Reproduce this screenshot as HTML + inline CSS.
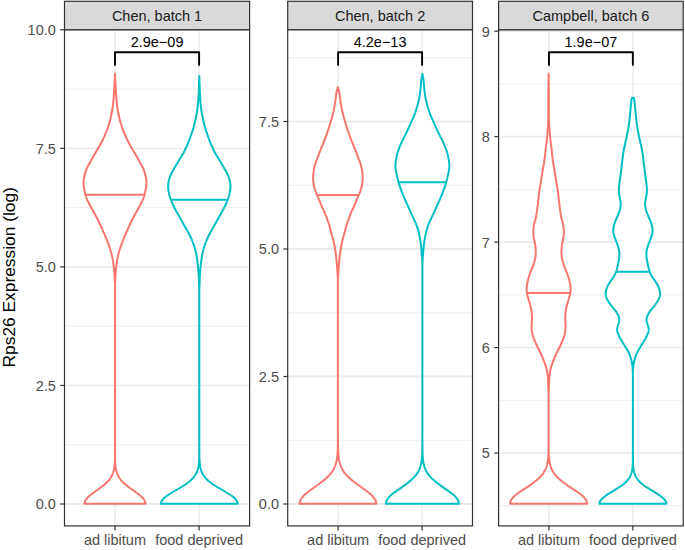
<!DOCTYPE html>
<html><head><meta charset="utf-8"><style>
html,body{margin:0;padding:0;background:#fff;}
body{width:685px;height:550px;overflow:hidden;}
svg{display:block;font-family:"Liberation Sans", sans-serif;}
</style></head><body>
<svg width="685" height="550" viewBox="0 0 685 550">
<rect x="0" y="0" width="685" height="550" fill="#fff"/>
<line x1="64.50" x2="249.60" y1="444.73" y2="444.73" stroke="#EBEBEB" stroke-width="0.8"/>
<line x1="64.50" x2="249.60" y1="326.17" y2="326.17" stroke="#EBEBEB" stroke-width="0.8"/>
<line x1="64.50" x2="249.60" y1="207.62" y2="207.62" stroke="#EBEBEB" stroke-width="0.8"/>
<line x1="64.50" x2="249.60" y1="89.07" y2="89.07" stroke="#EBEBEB" stroke-width="0.8"/>
<line x1="64.50" x2="249.60" y1="504.00" y2="504.00" stroke="#EBEBEB" stroke-width="1.8"/>
<line x1="64.50" x2="249.60" y1="385.45" y2="385.45" stroke="#EBEBEB" stroke-width="1.8"/>
<line x1="64.50" x2="249.60" y1="266.90" y2="266.90" stroke="#EBEBEB" stroke-width="1.8"/>
<line x1="64.50" x2="249.60" y1="148.35" y2="148.35" stroke="#EBEBEB" stroke-width="1.8"/>
<line x1="64.50" x2="249.60" y1="29.80" y2="29.80" stroke="#EBEBEB" stroke-width="1.8"/>
<line x1="114.98" x2="114.98" y1="29.7" y2="525.9" stroke="#EBEBEB" stroke-width="1.5"/>
<line x1="199.12" x2="199.12" y1="29.7" y2="525.9" stroke="#EBEBEB" stroke-width="1.5"/>
<path d="M115.03,73.80 L115.04,74.30 L115.06,74.80 L115.07,75.30 L115.09,75.80 L115.12,76.30 L115.14,76.80 L115.16,77.30 L115.18,77.80 L115.20,78.30 L115.23,78.80 L115.25,79.30 L115.27,79.80 L115.30,80.30 L115.32,80.80 L115.34,81.30 L115.37,81.80 L115.39,82.30 L115.42,82.80 L115.44,83.30 L115.47,83.80 L115.49,84.30 L115.52,84.80 L115.55,85.30 L115.57,85.80 L115.60,86.30 L115.63,86.80 L115.66,87.30 L115.69,87.80 L115.72,88.30 L115.75,88.80 L115.78,89.30 L115.81,89.80 L115.84,90.30 L115.88,90.80 L115.91,91.30 L115.94,91.80 L115.97,92.30 L116.01,92.80 L116.04,93.30 L116.08,93.80 L116.11,94.30 L116.14,94.80 L116.18,95.30 L116.21,95.80 L116.25,96.30 L116.29,96.80 L116.32,97.30 L116.36,97.80 L116.40,98.30 L116.44,98.80 L116.48,99.30 L116.52,99.80 L116.56,100.30 L116.60,100.80 L116.65,101.30 L116.69,101.80 L116.74,102.30 L116.80,102.80 L116.85,103.30 L116.91,103.80 L116.97,104.30 L117.02,104.80 L117.08,105.30 L117.15,105.80 L117.21,106.30 L117.27,106.80 L117.34,107.30 L117.41,107.80 L117.49,108.30 L117.57,108.80 L117.65,109.30 L117.73,109.80 L117.82,110.30 L117.90,110.80 L117.99,111.30 L118.08,111.80 L118.18,112.30 L118.27,112.80 L118.36,113.30 L118.46,113.80 L118.56,114.30 L118.66,114.80 L118.76,115.30 L118.87,115.80 L118.98,116.30 L119.09,116.80 L119.20,117.30 L119.32,117.80 L119.44,118.30 L119.56,118.80 L119.68,119.30 L119.80,119.80 L119.93,120.30 L120.06,120.80 L120.20,121.30 L120.33,121.80 L120.47,122.30 L120.61,122.80 L120.75,123.30 L120.90,123.80 L121.05,124.30 L121.20,124.80 L121.36,125.30 L121.52,125.80 L121.68,126.30 L121.85,126.80 L122.02,127.30 L122.20,127.80 L122.38,128.30 L122.56,128.80 L122.75,129.30 L122.95,129.80 L123.15,130.30 L123.35,130.80 L123.55,131.30 L123.76,131.80 L123.97,132.30 L124.18,132.80 L124.39,133.30 L124.60,133.80 L124.81,134.30 L125.02,134.80 L125.23,135.30 L125.45,135.80 L125.66,136.30 L125.87,136.80 L126.09,137.30 L126.31,137.80 L126.53,138.30 L126.76,138.80 L126.99,139.30 L127.23,139.80 L127.47,140.30 L127.72,140.80 L127.98,141.30 L128.23,141.80 L128.49,142.30 L128.75,142.80 L129.02,143.30 L129.28,143.80 L129.55,144.30 L129.82,144.80 L130.10,145.30 L130.37,145.80 L130.65,146.30 L130.93,146.80 L131.22,147.30 L131.50,147.80 L131.79,148.30 L132.08,148.80 L132.38,149.30 L132.68,149.80 L132.98,150.30 L133.28,150.80 L133.58,151.30 L133.88,151.80 L134.18,152.30 L134.48,152.80 L134.78,153.30 L135.08,153.80 L135.37,154.30 L135.66,154.80 L135.95,155.30 L136.24,155.80 L136.53,156.30 L136.81,156.80 L137.10,157.30 L137.38,157.80 L137.66,158.30 L137.94,158.80 L138.22,159.30 L138.49,159.80 L138.77,160.30 L139.05,160.80 L139.33,161.30 L139.61,161.80 L139.89,162.30 L140.17,162.80 L140.45,163.30 L140.73,163.80 L141.01,164.30 L141.29,164.80 L141.57,165.30 L141.84,165.80 L142.11,166.30 L142.37,166.80 L142.62,167.30 L142.86,167.80 L143.10,168.30 L143.32,168.80 L143.54,169.30 L143.74,169.80 L143.93,170.30 L144.12,170.80 L144.29,171.30 L144.46,171.80 L144.62,172.30 L144.77,172.80 L144.92,173.30 L145.06,173.80 L145.19,174.30 L145.32,174.80 L145.43,175.30 L145.55,175.80 L145.66,176.30 L145.76,176.80 L145.85,177.30 L145.95,177.80 L146.03,178.30 L146.11,178.80 L146.18,179.30 L146.25,179.80 L146.30,180.30 L146.35,180.80 L146.39,181.30 L146.42,181.80 L146.44,182.30 L146.45,182.80 L146.45,183.30 L146.44,183.80 L146.42,184.30 L146.39,184.80 L146.34,185.30 L146.29,185.80 L146.23,186.30 L146.16,186.80 L146.08,187.30 L146.00,187.80 L145.91,188.30 L145.82,188.80 L145.72,189.30 L145.62,189.80 L145.52,190.30 L145.42,190.80 L145.31,191.30 L145.21,191.80 L145.10,192.30 L144.99,192.80 L144.88,193.30 L144.76,193.80 L144.64,194.30 L144.52,194.80 L144.38,195.30 L144.24,195.80 L144.10,196.30 L143.94,196.80 L143.77,197.30 L143.60,197.80 L143.41,198.30 L143.21,198.80 L143.00,199.30 L142.79,199.80 L142.56,200.30 L142.32,200.80 L142.08,201.30 L141.83,201.80 L141.58,202.30 L141.32,202.80 L141.06,203.30 L140.80,203.80 L140.53,204.30 L140.27,204.80 L140.01,205.30 L139.74,205.80 L139.48,206.30 L139.21,206.80 L138.94,207.30 L138.67,207.80 L138.40,208.30 L138.13,208.80 L137.86,209.30 L137.59,209.80 L137.31,210.30 L137.04,210.80 L136.77,211.30 L136.49,211.80 L136.22,212.30 L135.94,212.80 L135.67,213.30 L135.39,213.80 L135.12,214.30 L134.84,214.80 L134.57,215.30 L134.30,215.80 L134.02,216.30 L133.75,216.80 L133.48,217.30 L133.21,217.80 L132.95,218.30 L132.69,218.80 L132.43,219.30 L132.18,219.80 L131.94,220.30 L131.70,220.80 L131.46,221.30 L131.23,221.80 L130.99,222.30 L130.76,222.80 L130.52,223.30 L130.29,223.80 L130.05,224.30 L129.81,224.80 L129.57,225.30 L129.34,225.80 L129.10,226.30 L128.86,226.80 L128.63,227.30 L128.39,227.80 L128.16,228.30 L127.93,228.80 L127.70,229.30 L127.47,229.80 L127.24,230.30 L127.01,230.80 L126.79,231.30 L126.57,231.80 L126.34,232.30 L126.12,232.80 L125.90,233.30 L125.68,233.80 L125.47,234.30 L125.25,234.80 L125.04,235.30 L124.83,235.80 L124.62,236.30 L124.41,236.80 L124.21,237.30 L124.00,237.80 L123.80,238.30 L123.60,238.80 L123.41,239.30 L123.21,239.80 L123.02,240.30 L122.83,240.80 L122.64,241.30 L122.45,241.80 L122.27,242.30 L122.08,242.80 L121.90,243.30 L121.71,243.80 L121.53,244.30 L121.35,244.80 L121.17,245.30 L120.99,245.80 L120.81,246.30 L120.63,246.80 L120.45,247.30 L120.28,247.80 L120.11,248.30 L119.94,248.80 L119.77,249.30 L119.61,249.80 L119.45,250.30 L119.30,250.80 L119.15,251.30 L119.01,251.80 L118.87,252.30 L118.73,252.80 L118.60,253.30 L118.47,253.80 L118.35,254.30 L118.23,254.80 L118.11,255.30 L117.99,255.80 L117.88,256.30 L117.78,256.80 L117.67,257.30 L117.57,257.80 L117.47,258.30 L117.38,258.80 L117.28,259.30 L117.19,259.80 L117.11,260.30 L117.02,260.80 L116.94,261.30 L116.86,261.80 L116.79,262.30 L116.72,262.80 L116.65,263.30 L116.58,263.80 L116.51,264.30 L116.44,264.80 L116.38,265.30 L116.32,265.80 L116.26,266.30 L116.20,266.80 L116.14,267.30 L116.09,267.80 L116.03,268.30 L115.98,268.80 L115.93,269.30 L115.88,269.80 L115.84,270.30 L115.79,270.80 L115.75,271.30 L115.71,271.80 L115.67,272.30 L115.64,272.80 L115.60,273.30 L115.57,273.80 L115.54,274.30 L115.52,274.80 L115.49,275.30 L115.47,275.80 L115.45,276.30 L115.43,276.80 L115.41,277.30 L115.39,277.80 L115.37,278.30 L115.36,278.80 L115.34,279.30 L115.31,279.80 L115.28,280.30 L115.25,280.80 L115.21,281.30 L115.17,281.80 L115.13,282.30 L115.09,282.80 L115.06,283.30 L115.03,283.80 L115.02,284.30 L115.01,284.80 L115.00,285.30 L115.00,285.80 L115.00,286.30 L115.00,286.80 L115.00,287.30 L115.00,287.80 L115.00,288.30 L115.00,288.80 L115.00,289.30 L115.00,289.80 L115.00,290.30 L115.00,290.80 L115.00,291.30 L115.00,291.80 L115.00,292.30 L115.00,292.80 L115.00,293.30 L115.00,293.80 L115.00,294.30 L115.00,294.80 L115.00,295.30 L115.00,295.80 L115.00,296.30 L115.00,296.80 L115.00,297.30 L115.00,297.80 L115.00,298.30 L115.00,298.80 L115.00,299.30 L115.00,299.80 L115.00,300.30 L115.00,300.80 L115.00,301.30 L115.00,301.80 L115.00,302.30 L115.00,302.80 L115.00,303.30 L115.00,303.80 L115.00,304.30 L115.00,304.80 L115.00,305.30 L115.00,305.80 L115.00,306.30 L115.00,306.80 L115.00,307.30 L115.00,307.80 L115.00,308.30 L115.00,308.80 L115.00,309.30 L115.00,309.80 L115.00,310.30 L115.00,310.80 L115.00,311.30 L115.00,311.80 L115.00,312.30 L115.00,312.80 L115.00,313.30 L115.00,313.80 L115.00,314.30 L115.00,314.80 L115.00,315.30 L115.00,315.80 L115.00,316.30 L115.00,316.80 L115.00,317.30 L115.00,317.80 L115.00,318.30 L115.00,318.80 L115.00,319.30 L115.00,319.80 L115.00,320.30 L115.00,320.80 L115.00,321.30 L115.00,321.80 L115.00,322.30 L115.00,322.80 L115.00,323.30 L115.00,323.80 L115.00,324.30 L115.00,324.80 L115.00,325.30 L115.00,325.80 L115.00,326.30 L115.00,326.80 L115.00,327.30 L115.00,327.80 L115.00,328.30 L115.00,328.80 L115.00,329.30 L115.00,329.80 L115.00,330.30 L115.00,330.80 L115.00,331.30 L115.00,331.80 L115.00,332.30 L115.00,332.80 L115.00,333.30 L115.00,333.80 L115.00,334.30 L115.00,334.80 L115.00,335.30 L115.00,335.80 L115.00,336.30 L115.00,336.80 L115.00,337.30 L115.00,337.80 L115.00,338.30 L115.00,338.80 L115.00,339.30 L115.00,339.80 L115.00,340.30 L115.00,340.80 L115.00,341.30 L115.00,341.80 L115.00,342.30 L115.00,342.80 L115.00,343.30 L115.00,343.80 L115.00,344.30 L115.00,344.80 L115.00,345.30 L115.00,345.80 L115.00,346.30 L115.00,346.80 L115.00,347.30 L115.00,347.80 L115.00,348.30 L115.00,348.80 L115.00,349.30 L115.00,349.80 L115.00,350.30 L115.00,350.80 L115.00,351.30 L115.00,351.80 L115.00,352.30 L115.00,352.80 L115.00,353.30 L115.00,353.80 L115.00,354.30 L115.00,354.80 L115.00,355.30 L115.00,355.80 L115.00,356.30 L115.00,356.80 L115.00,357.30 L115.00,357.80 L115.00,358.30 L115.00,358.80 L115.00,359.30 L115.00,359.80 L115.00,360.30 L115.00,360.80 L115.00,361.30 L115.00,361.80 L115.00,362.30 L115.00,362.80 L115.00,363.30 L115.00,363.80 L115.00,364.30 L115.00,364.80 L115.00,365.30 L115.00,365.80 L115.00,366.30 L115.00,366.80 L115.00,367.30 L115.00,367.80 L115.00,368.30 L115.00,368.80 L115.00,369.30 L115.00,369.80 L115.00,370.30 L115.00,370.80 L115.00,371.30 L115.00,371.80 L115.00,372.30 L115.00,372.80 L115.00,373.30 L115.00,373.80 L115.00,374.30 L115.00,374.80 L115.00,375.30 L115.00,375.80 L115.00,376.30 L115.00,376.80 L115.00,377.30 L115.00,377.80 L115.00,378.30 L115.00,378.80 L115.00,379.30 L115.00,379.80 L115.00,380.30 L115.00,380.80 L115.00,381.30 L115.00,381.80 L115.00,382.30 L115.00,382.80 L115.00,383.30 L115.00,383.80 L115.00,384.30 L115.00,384.80 L115.00,385.30 L115.00,385.80 L115.00,386.30 L115.00,386.80 L115.00,387.30 L115.00,387.80 L115.00,388.30 L115.00,388.80 L115.00,389.30 L115.00,389.80 L115.00,390.30 L115.00,390.80 L115.00,391.30 L115.00,391.80 L115.00,392.30 L115.00,392.80 L115.00,393.30 L115.00,393.80 L115.00,394.30 L115.00,394.80 L115.00,395.30 L115.00,395.80 L115.00,396.30 L115.00,396.80 L115.00,397.30 L115.00,397.80 L115.00,398.30 L115.00,398.80 L115.00,399.30 L115.00,399.80 L115.00,400.30 L115.00,400.80 L115.00,401.30 L115.00,401.80 L115.00,402.30 L115.00,402.80 L115.00,403.30 L115.00,403.80 L115.00,404.30 L115.00,404.80 L115.00,405.30 L115.00,405.80 L115.00,406.30 L115.00,406.80 L115.00,407.30 L115.00,407.80 L115.00,408.30 L115.00,408.80 L115.00,409.30 L115.00,409.80 L115.00,410.30 L115.00,410.80 L115.00,411.30 L115.00,411.80 L115.00,412.30 L115.00,412.80 L115.00,413.30 L115.00,413.80 L115.00,414.30 L115.00,414.80 L115.00,415.30 L115.00,415.80 L115.00,416.30 L115.00,416.80 L115.00,417.30 L115.00,417.80 L115.00,418.30 L115.00,418.80 L115.00,419.30 L115.00,419.80 L115.00,420.30 L115.00,420.80 L115.00,421.30 L115.00,421.80 L115.00,422.30 L115.00,422.80 L115.00,423.30 L115.00,423.80 L115.00,424.30 L115.00,424.80 L115.00,425.30 L115.00,425.80 L115.00,426.30 L115.00,426.80 L115.00,427.30 L115.00,427.80 L115.00,428.30 L115.00,428.80 L115.00,429.30 L115.00,429.80 L115.00,430.30 L115.00,430.80 L115.00,431.30 L115.00,431.80 L115.00,432.30 L115.00,432.80 L115.00,433.30 L115.00,433.80 L115.00,434.30 L115.00,434.80 L115.00,435.30 L115.00,435.80 L115.00,436.30 L115.00,436.80 L115.00,437.30 L115.00,437.80 L115.00,438.30 L115.00,438.80 L115.00,439.30 L115.00,439.80 L115.00,440.30 L115.00,440.80 L115.00,441.30 L115.00,441.80 L115.00,442.30 L115.00,442.80 L115.00,443.30 L115.00,443.80 L115.00,444.30 L115.00,444.80 L115.00,445.30 L115.00,445.80 L115.00,446.30 L115.00,446.80 L115.00,447.30 L115.00,447.80 L115.00,448.30 L115.00,448.80 L115.01,449.30 L115.01,449.80 L115.01,450.30 L115.01,450.80 L115.01,451.30 L115.01,451.80 L115.01,452.30 L115.02,452.80 L115.02,453.30 L115.02,453.80 L115.02,454.30 L115.03,454.80 L115.03,455.30 L115.04,455.80 L115.04,456.30 L115.05,456.80 L115.06,457.30 L115.07,457.80 L115.08,458.30 L115.09,458.80 L115.10,459.30 L115.11,459.80 L115.13,460.30 L115.14,460.80 L115.16,461.30 L115.18,461.80 L115.21,462.30 L115.23,462.80 L115.26,463.30 L115.30,463.80 L115.33,464.30 L115.37,464.80 L115.42,465.30 L115.46,465.80 L115.52,466.30 L115.58,466.80 L115.64,467.30 L115.71,467.80 L115.79,468.30 L115.88,468.80 L115.97,469.30 L116.07,469.80 L116.18,470.30 L116.30,470.80 L116.43,471.30 L116.57,471.80 L116.72,472.30 L116.89,472.80 L117.06,473.30 L117.25,473.80 L117.46,474.30 L117.68,474.80 L117.91,475.30 L118.16,475.80 L118.42,476.30 L118.70,476.80 L119.00,477.30 L119.32,477.80 L119.66,478.30 L120.01,478.80 L120.38,479.30 L120.77,479.80 L121.19,480.30 L121.62,480.80 L122.07,481.30 L122.54,481.80 L123.03,482.30 L123.54,482.80 L124.07,483.30 L124.62,483.80 L125.19,484.30 L125.77,484.80 L126.37,485.30 L126.99,485.80 L127.62,486.30 L128.27,486.80 L128.93,487.30 L129.60,487.80 L130.28,488.30 L130.97,488.80 L131.67,489.30 L132.37,489.80 L133.08,490.30 L133.78,490.80 L134.49,491.30 L135.19,491.80 L135.89,492.30 L136.58,492.80 L137.26,493.30 L137.92,493.80 L138.58,494.30 L139.21,494.80 L139.83,495.30 L140.43,495.80 L141.00,496.30 L141.55,496.80 L142.07,497.30 L142.56,497.80 L143.02,498.30 L143.44,498.80 L143.83,499.30 L144.18,499.80 L144.49,500.30 L144.76,500.80 L144.99,501.30 L145.18,501.80 L145.33,502.30 L145.43,502.80 L145.49,503.30 L145.50,503.70 L84.50,503.70 L84.51,503.30 L84.57,502.80 L84.67,502.30 L84.82,501.80 L85.01,501.30 L85.24,500.80 L85.51,500.30 L85.82,499.80 L86.17,499.30 L86.56,498.80 L86.98,498.30 L87.44,497.80 L87.93,497.30 L88.45,496.80 L89.00,496.30 L89.57,495.80 L90.17,495.30 L90.79,494.80 L91.42,494.30 L92.08,493.80 L92.74,493.30 L93.42,492.80 L94.11,492.30 L94.81,491.80 L95.51,491.30 L96.22,490.80 L96.92,490.30 L97.63,489.80 L98.33,489.30 L99.03,488.80 L99.72,488.30 L100.40,487.80 L101.07,487.30 L101.73,486.80 L102.38,486.30 L103.01,485.80 L103.63,485.30 L104.23,484.80 L104.81,484.30 L105.38,483.80 L105.93,483.30 L106.46,482.80 L106.97,482.30 L107.46,481.80 L107.93,481.30 L108.38,480.80 L108.81,480.30 L109.23,479.80 L109.62,479.30 L109.99,478.80 L110.34,478.30 L110.68,477.80 L111.00,477.30 L111.30,476.80 L111.58,476.30 L111.84,475.80 L112.09,475.30 L112.32,474.80 L112.54,474.30 L112.75,473.80 L112.94,473.30 L113.11,472.80 L113.28,472.30 L113.43,471.80 L113.57,471.30 L113.70,470.80 L113.82,470.30 L113.93,469.80 L114.03,469.30 L114.12,468.80 L114.21,468.30 L114.29,467.80 L114.36,467.30 L114.42,466.80 L114.48,466.30 L114.54,465.80 L114.58,465.30 L114.63,464.80 L114.67,464.30 L114.70,463.80 L114.74,463.30 L114.77,462.80 L114.79,462.30 L114.82,461.80 L114.84,461.30 L114.86,460.80 L114.87,460.30 L114.89,459.80 L114.90,459.30 L114.91,458.80 L114.92,458.30 L114.93,457.80 L114.94,457.30 L114.95,456.80 L114.96,456.30 L114.96,455.80 L114.97,455.30 L114.97,454.80 L114.98,454.30 L114.98,453.80 L114.98,453.30 L114.98,452.80 L114.99,452.30 L114.99,451.80 L114.99,451.30 L114.99,450.80 L114.99,450.30 L114.99,449.80 L114.99,449.30 L115.00,448.80 L115.00,448.30 L115.00,447.80 L115.00,447.30 L115.00,446.80 L115.00,446.30 L115.00,445.80 L115.00,445.30 L115.00,444.80 L115.00,444.30 L115.00,443.80 L115.00,443.30 L115.00,442.80 L115.00,442.30 L115.00,441.80 L115.00,441.30 L115.00,440.80 L115.00,440.30 L115.00,439.80 L115.00,439.30 L115.00,438.80 L115.00,438.30 L115.00,437.80 L115.00,437.30 L115.00,436.80 L115.00,436.30 L115.00,435.80 L115.00,435.30 L115.00,434.80 L115.00,434.30 L115.00,433.80 L115.00,433.30 L115.00,432.80 L115.00,432.30 L115.00,431.80 L115.00,431.30 L115.00,430.80 L115.00,430.30 L115.00,429.80 L115.00,429.30 L115.00,428.80 L115.00,428.30 L115.00,427.80 L115.00,427.30 L115.00,426.80 L115.00,426.30 L115.00,425.80 L115.00,425.30 L115.00,424.80 L115.00,424.30 L115.00,423.80 L115.00,423.30 L115.00,422.80 L115.00,422.30 L115.00,421.80 L115.00,421.30 L115.00,420.80 L115.00,420.30 L115.00,419.80 L115.00,419.30 L115.00,418.80 L115.00,418.30 L115.00,417.80 L115.00,417.30 L115.00,416.80 L115.00,416.30 L115.00,415.80 L115.00,415.30 L115.00,414.80 L115.00,414.30 L115.00,413.80 L115.00,413.30 L115.00,412.80 L115.00,412.30 L115.00,411.80 L115.00,411.30 L115.00,410.80 L115.00,410.30 L115.00,409.80 L115.00,409.30 L115.00,408.80 L115.00,408.30 L115.00,407.80 L115.00,407.30 L115.00,406.80 L115.00,406.30 L115.00,405.80 L115.00,405.30 L115.00,404.80 L115.00,404.30 L115.00,403.80 L115.00,403.30 L115.00,402.80 L115.00,402.30 L115.00,401.80 L115.00,401.30 L115.00,400.80 L115.00,400.30 L115.00,399.80 L115.00,399.30 L115.00,398.80 L115.00,398.30 L115.00,397.80 L115.00,397.30 L115.00,396.80 L115.00,396.30 L115.00,395.80 L115.00,395.30 L115.00,394.80 L115.00,394.30 L115.00,393.80 L115.00,393.30 L115.00,392.80 L115.00,392.30 L115.00,391.80 L115.00,391.30 L115.00,390.80 L115.00,390.30 L115.00,389.80 L115.00,389.30 L115.00,388.80 L115.00,388.30 L115.00,387.80 L115.00,387.30 L115.00,386.80 L115.00,386.30 L115.00,385.80 L115.00,385.30 L115.00,384.80 L115.00,384.30 L115.00,383.80 L115.00,383.30 L115.00,382.80 L115.00,382.30 L115.00,381.80 L115.00,381.30 L115.00,380.80 L115.00,380.30 L115.00,379.80 L115.00,379.30 L115.00,378.80 L115.00,378.30 L115.00,377.80 L115.00,377.30 L115.00,376.80 L115.00,376.30 L115.00,375.80 L115.00,375.30 L115.00,374.80 L115.00,374.30 L115.00,373.80 L115.00,373.30 L115.00,372.80 L115.00,372.30 L115.00,371.80 L115.00,371.30 L115.00,370.80 L115.00,370.30 L115.00,369.80 L115.00,369.30 L115.00,368.80 L115.00,368.30 L115.00,367.80 L115.00,367.30 L115.00,366.80 L115.00,366.30 L115.00,365.80 L115.00,365.30 L115.00,364.80 L115.00,364.30 L115.00,363.80 L115.00,363.30 L115.00,362.80 L115.00,362.30 L115.00,361.80 L115.00,361.30 L115.00,360.80 L115.00,360.30 L115.00,359.80 L115.00,359.30 L115.00,358.80 L115.00,358.30 L115.00,357.80 L115.00,357.30 L115.00,356.80 L115.00,356.30 L115.00,355.80 L115.00,355.30 L115.00,354.80 L115.00,354.30 L115.00,353.80 L115.00,353.30 L115.00,352.80 L115.00,352.30 L115.00,351.80 L115.00,351.30 L115.00,350.80 L115.00,350.30 L115.00,349.80 L115.00,349.30 L115.00,348.80 L115.00,348.30 L115.00,347.80 L115.00,347.30 L115.00,346.80 L115.00,346.30 L115.00,345.80 L115.00,345.30 L115.00,344.80 L115.00,344.30 L115.00,343.80 L115.00,343.30 L115.00,342.80 L115.00,342.30 L115.00,341.80 L115.00,341.30 L115.00,340.80 L115.00,340.30 L115.00,339.80 L115.00,339.30 L115.00,338.80 L115.00,338.30 L115.00,337.80 L115.00,337.30 L115.00,336.80 L115.00,336.30 L115.00,335.80 L115.00,335.30 L115.00,334.80 L115.00,334.30 L115.00,333.80 L115.00,333.30 L115.00,332.80 L115.00,332.30 L115.00,331.80 L115.00,331.30 L115.00,330.80 L115.00,330.30 L115.00,329.80 L115.00,329.30 L115.00,328.80 L115.00,328.30 L115.00,327.80 L115.00,327.30 L115.00,326.80 L115.00,326.30 L115.00,325.80 L115.00,325.30 L115.00,324.80 L115.00,324.30 L115.00,323.80 L115.00,323.30 L115.00,322.80 L115.00,322.30 L115.00,321.80 L115.00,321.30 L115.00,320.80 L115.00,320.30 L115.00,319.80 L115.00,319.30 L115.00,318.80 L115.00,318.30 L115.00,317.80 L115.00,317.30 L115.00,316.80 L115.00,316.30 L115.00,315.80 L115.00,315.30 L115.00,314.80 L115.00,314.30 L115.00,313.80 L115.00,313.30 L115.00,312.80 L115.00,312.30 L115.00,311.80 L115.00,311.30 L115.00,310.80 L115.00,310.30 L115.00,309.80 L115.00,309.30 L115.00,308.80 L115.00,308.30 L115.00,307.80 L115.00,307.30 L115.00,306.80 L115.00,306.30 L115.00,305.80 L115.00,305.30 L115.00,304.80 L115.00,304.30 L115.00,303.80 L115.00,303.30 L115.00,302.80 L115.00,302.30 L115.00,301.80 L115.00,301.30 L115.00,300.80 L115.00,300.30 L115.00,299.80 L115.00,299.30 L115.00,298.80 L115.00,298.30 L115.00,297.80 L115.00,297.30 L115.00,296.80 L115.00,296.30 L115.00,295.80 L115.00,295.30 L115.00,294.80 L115.00,294.30 L115.00,293.80 L115.00,293.30 L115.00,292.80 L115.00,292.30 L115.00,291.80 L115.00,291.30 L115.00,290.80 L115.00,290.30 L115.00,289.80 L115.00,289.30 L115.00,288.80 L115.00,288.30 L115.00,287.80 L115.00,287.30 L115.00,286.80 L115.00,286.30 L115.00,285.80 L115.00,285.30 L114.99,284.80 L114.98,284.30 L114.97,283.80 L114.94,283.30 L114.91,282.80 L114.87,282.30 L114.83,281.80 L114.79,281.30 L114.75,280.80 L114.72,280.30 L114.69,279.80 L114.66,279.30 L114.64,278.80 L114.63,278.30 L114.61,277.80 L114.59,277.30 L114.57,276.80 L114.55,276.30 L114.53,275.80 L114.51,275.30 L114.48,274.80 L114.46,274.30 L114.43,273.80 L114.40,273.30 L114.36,272.80 L114.33,272.30 L114.29,271.80 L114.25,271.30 L114.21,270.80 L114.16,270.30 L114.12,269.80 L114.07,269.30 L114.02,268.80 L113.97,268.30 L113.91,267.80 L113.86,267.30 L113.80,266.80 L113.74,266.30 L113.68,265.80 L113.62,265.30 L113.56,264.80 L113.49,264.30 L113.42,263.80 L113.35,263.30 L113.28,262.80 L113.21,262.30 L113.14,261.80 L113.06,261.30 L112.98,260.80 L112.89,260.30 L112.81,259.80 L112.72,259.30 L112.62,258.80 L112.53,258.30 L112.43,257.80 L112.33,257.30 L112.22,256.80 L112.12,256.30 L112.01,255.80 L111.89,255.30 L111.77,254.80 L111.65,254.30 L111.53,253.80 L111.40,253.30 L111.27,252.80 L111.13,252.30 L110.99,251.80 L110.85,251.30 L110.70,250.80 L110.55,250.30 L110.39,249.80 L110.23,249.30 L110.06,248.80 L109.89,248.30 L109.72,247.80 L109.55,247.30 L109.37,246.80 L109.19,246.30 L109.01,245.80 L108.83,245.30 L108.65,244.80 L108.47,244.30 L108.29,243.80 L108.10,243.30 L107.92,242.80 L107.73,242.30 L107.55,241.80 L107.36,241.30 L107.17,240.80 L106.98,240.30 L106.79,239.80 L106.59,239.30 L106.40,238.80 L106.20,238.30 L106.00,237.80 L105.79,237.30 L105.59,236.80 L105.38,236.30 L105.17,235.80 L104.96,235.30 L104.75,234.80 L104.53,234.30 L104.32,233.80 L104.10,233.30 L103.88,232.80 L103.66,232.30 L103.43,231.80 L103.21,231.30 L102.99,230.80 L102.76,230.30 L102.53,229.80 L102.30,229.30 L102.07,228.80 L101.84,228.30 L101.61,227.80 L101.37,227.30 L101.14,226.80 L100.90,226.30 L100.66,225.80 L100.43,225.30 L100.19,224.80 L99.95,224.30 L99.71,223.80 L99.48,223.30 L99.24,222.80 L99.01,222.30 L98.77,221.80 L98.54,221.30 L98.30,220.80 L98.06,220.30 L97.82,219.80 L97.57,219.30 L97.31,218.80 L97.05,218.30 L96.79,217.80 L96.52,217.30 L96.25,216.80 L95.98,216.30 L95.70,215.80 L95.43,215.30 L95.16,214.80 L94.88,214.30 L94.61,213.80 L94.33,213.30 L94.06,212.80 L93.78,212.30 L93.51,211.80 L93.23,211.30 L92.96,210.80 L92.69,210.30 L92.41,209.80 L92.14,209.30 L91.87,208.80 L91.60,208.30 L91.33,207.80 L91.06,207.30 L90.79,206.80 L90.52,206.30 L90.26,205.80 L89.99,205.30 L89.73,204.80 L89.47,204.30 L89.20,203.80 L88.94,203.30 L88.68,202.80 L88.42,202.30 L88.17,201.80 L87.92,201.30 L87.68,200.80 L87.44,200.30 L87.21,199.80 L87.00,199.30 L86.79,198.80 L86.59,198.30 L86.40,197.80 L86.23,197.30 L86.06,196.80 L85.90,196.30 L85.76,195.80 L85.62,195.30 L85.48,194.80 L85.36,194.30 L85.24,193.80 L85.12,193.30 L85.01,192.80 L84.90,192.30 L84.79,191.80 L84.69,191.30 L84.58,190.80 L84.48,190.30 L84.38,189.80 L84.28,189.30 L84.18,188.80 L84.09,188.30 L84.00,187.80 L83.92,187.30 L83.84,186.80 L83.77,186.30 L83.71,185.80 L83.66,185.30 L83.61,184.80 L83.58,184.30 L83.56,183.80 L83.55,183.30 L83.55,182.80 L83.56,182.30 L83.58,181.80 L83.61,181.30 L83.65,180.80 L83.70,180.30 L83.75,179.80 L83.82,179.30 L83.89,178.80 L83.97,178.30 L84.05,177.80 L84.15,177.30 L84.24,176.80 L84.34,176.30 L84.45,175.80 L84.57,175.30 L84.68,174.80 L84.81,174.30 L84.94,173.80 L85.08,173.30 L85.23,172.80 L85.38,172.30 L85.54,171.80 L85.71,171.30 L85.88,170.80 L86.07,170.30 L86.26,169.80 L86.46,169.30 L86.68,168.80 L86.90,168.30 L87.14,167.80 L87.38,167.30 L87.63,166.80 L87.89,166.30 L88.16,165.80 L88.43,165.30 L88.71,164.80 L88.99,164.30 L89.27,163.80 L89.55,163.30 L89.83,162.80 L90.11,162.30 L90.39,161.80 L90.67,161.30 L90.95,160.80 L91.23,160.30 L91.51,159.80 L91.78,159.30 L92.06,158.80 L92.34,158.30 L92.62,157.80 L92.90,157.30 L93.19,156.80 L93.47,156.30 L93.76,155.80 L94.05,155.30 L94.34,154.80 L94.63,154.30 L94.92,153.80 L95.22,153.30 L95.52,152.80 L95.82,152.30 L96.12,151.80 L96.42,151.30 L96.72,150.80 L97.02,150.30 L97.32,149.80 L97.62,149.30 L97.92,148.80 L98.21,148.30 L98.50,147.80 L98.78,147.30 L99.07,146.80 L99.35,146.30 L99.63,145.80 L99.90,145.30 L100.18,144.80 L100.45,144.30 L100.72,143.80 L100.98,143.30 L101.25,142.80 L101.51,142.30 L101.77,141.80 L102.02,141.30 L102.28,140.80 L102.53,140.30 L102.77,139.80 L103.01,139.30 L103.24,138.80 L103.47,138.30 L103.69,137.80 L103.91,137.30 L104.13,136.80 L104.34,136.30 L104.55,135.80 L104.77,135.30 L104.98,134.80 L105.19,134.30 L105.40,133.80 L105.61,133.30 L105.82,132.80 L106.03,132.30 L106.24,131.80 L106.45,131.30 L106.65,130.80 L106.85,130.30 L107.05,129.80 L107.25,129.30 L107.44,128.80 L107.62,128.30 L107.80,127.80 L107.98,127.30 L108.15,126.80 L108.32,126.30 L108.48,125.80 L108.64,125.30 L108.80,124.80 L108.95,124.30 L109.10,123.80 L109.25,123.30 L109.39,122.80 L109.53,122.30 L109.67,121.80 L109.80,121.30 L109.94,120.80 L110.07,120.30 L110.20,119.80 L110.32,119.30 L110.44,118.80 L110.56,118.30 L110.68,117.80 L110.80,117.30 L110.91,116.80 L111.02,116.30 L111.13,115.80 L111.24,115.30 L111.34,114.80 L111.44,114.30 L111.54,113.80 L111.64,113.30 L111.73,112.80 L111.82,112.30 L111.92,111.80 L112.01,111.30 L112.10,110.80 L112.18,110.30 L112.27,109.80 L112.35,109.30 L112.43,108.80 L112.51,108.30 L112.59,107.80 L112.66,107.30 L112.73,106.80 L112.79,106.30 L112.85,105.80 L112.92,105.30 L112.98,104.80 L113.03,104.30 L113.09,103.80 L113.15,103.30 L113.20,102.80 L113.26,102.30 L113.31,101.80 L113.35,101.30 L113.40,100.80 L113.44,100.30 L113.48,99.80 L113.52,99.30 L113.56,98.80 L113.60,98.30 L113.64,97.80 L113.68,97.30 L113.71,96.80 L113.75,96.30 L113.79,95.80 L113.82,95.30 L113.86,94.80 L113.89,94.30 L113.92,93.80 L113.96,93.30 L113.99,92.80 L114.03,92.30 L114.06,91.80 L114.09,91.30 L114.12,90.80 L114.16,90.30 L114.19,89.80 L114.22,89.30 L114.25,88.80 L114.28,88.30 L114.31,87.80 L114.34,87.30 L114.37,86.80 L114.40,86.30 L114.43,85.80 L114.45,85.30 L114.48,84.80 L114.51,84.30 L114.53,83.80 L114.56,83.30 L114.58,82.80 L114.61,82.30 L114.63,81.80 L114.66,81.30 L114.68,80.80 L114.70,80.30 L114.73,79.80 L114.75,79.30 L114.77,78.80 L114.80,78.30 L114.82,77.80 L114.84,77.30 L114.86,76.80 L114.88,76.30 L114.91,75.80 L114.93,75.30 L114.94,74.80 L114.96,74.30 L114.97,73.80 Z" fill="#fff" stroke="#F8766D" stroke-width="2.0" stroke-linejoin="round"/>
<line x1="85.48" x2="144.52" y1="194.80" y2="194.80" stroke="#F8766D" stroke-width="2.0"/>
<path d="M199.32,76.00 L199.33,76.50 L199.34,77.00 L199.36,77.50 L199.37,78.00 L199.39,78.50 L199.40,79.00 L199.42,79.50 L199.44,80.00 L199.46,80.50 L199.47,81.00 L199.49,81.50 L199.51,82.00 L199.53,82.50 L199.54,83.00 L199.56,83.50 L199.58,84.00 L199.60,84.50 L199.62,85.00 L199.64,85.50 L199.66,86.00 L199.67,86.50 L199.69,87.00 L199.71,87.50 L199.73,88.00 L199.75,88.50 L199.76,89.00 L199.78,89.50 L199.80,90.00 L199.82,90.50 L199.83,91.00 L199.85,91.50 L199.87,92.00 L199.89,92.50 L199.91,93.00 L199.93,93.50 L199.95,94.00 L199.97,94.50 L199.99,95.00 L200.02,95.50 L200.04,96.00 L200.06,96.50 L200.09,97.00 L200.12,97.50 L200.14,98.00 L200.17,98.50 L200.20,99.00 L200.24,99.50 L200.27,100.00 L200.31,100.50 L200.35,101.00 L200.39,101.50 L200.44,102.00 L200.48,102.50 L200.53,103.00 L200.58,103.50 L200.63,104.00 L200.69,104.50 L200.74,105.00 L200.80,105.50 L200.86,106.00 L200.92,106.50 L200.98,107.00 L201.04,107.50 L201.10,108.00 L201.16,108.50 L201.23,109.00 L201.29,109.50 L201.36,110.00 L201.43,110.50 L201.50,111.00 L201.57,111.50 L201.65,112.00 L201.73,112.50 L201.81,113.00 L201.90,113.50 L201.98,114.00 L202.07,114.50 L202.16,115.00 L202.26,115.50 L202.35,116.00 L202.45,116.50 L202.55,117.00 L202.66,117.50 L202.76,118.00 L202.87,118.50 L202.98,119.00 L203.09,119.50 L203.20,120.00 L203.31,120.50 L203.43,121.00 L203.55,121.50 L203.67,122.00 L203.79,122.50 L203.91,123.00 L204.04,123.50 L204.16,124.00 L204.29,124.50 L204.42,125.00 L204.55,125.50 L204.69,126.00 L204.83,126.50 L204.97,127.00 L205.11,127.50 L205.25,128.00 L205.40,128.50 L205.55,129.00 L205.71,129.50 L205.86,130.00 L206.02,130.50 L206.18,131.00 L206.35,131.50 L206.51,132.00 L206.68,132.50 L206.85,133.00 L207.02,133.50 L207.19,134.00 L207.36,134.50 L207.53,135.00 L207.70,135.50 L207.87,136.00 L208.04,136.50 L208.22,137.00 L208.39,137.50 L208.57,138.00 L208.74,138.50 L208.92,139.00 L209.10,139.50 L209.28,140.00 L209.47,140.50 L209.65,141.00 L209.85,141.50 L210.04,142.00 L210.24,142.50 L210.45,143.00 L210.66,143.50 L210.87,144.00 L211.09,144.50 L211.31,145.00 L211.54,145.50 L211.77,146.00 L212.00,146.50 L212.23,147.00 L212.46,147.50 L212.69,148.00 L212.92,148.50 L213.15,149.00 L213.38,149.50 L213.62,150.00 L213.85,150.50 L214.09,151.00 L214.34,151.50 L214.60,152.00 L214.87,152.50 L215.14,153.00 L215.43,153.50 L215.72,154.00 L216.02,154.50 L216.32,155.00 L216.63,155.50 L216.94,156.00 L217.25,156.50 L217.56,157.00 L217.87,157.50 L218.18,158.00 L218.48,158.50 L218.79,159.00 L219.09,159.50 L219.39,160.00 L219.69,160.50 L219.99,161.00 L220.29,161.50 L220.59,162.00 L220.88,162.50 L221.18,163.00 L221.47,163.50 L221.77,164.00 L222.06,164.50 L222.35,165.00 L222.65,165.50 L222.94,166.00 L223.23,166.50 L223.52,167.00 L223.82,167.50 L224.11,168.00 L224.40,168.50 L224.70,169.00 L224.99,169.50 L225.28,170.00 L225.57,170.50 L225.86,171.00 L226.13,171.50 L226.41,172.00 L226.67,172.50 L226.93,173.00 L227.17,173.50 L227.41,174.00 L227.64,174.50 L227.86,175.00 L228.08,175.50 L228.28,176.00 L228.48,176.50 L228.67,177.00 L228.85,177.50 L229.03,178.00 L229.19,178.50 L229.35,179.00 L229.49,179.50 L229.63,180.00 L229.75,180.50 L229.87,181.00 L229.97,181.50 L230.06,182.00 L230.14,182.50 L230.22,183.00 L230.28,183.50 L230.33,184.00 L230.37,184.50 L230.40,185.00 L230.42,185.50 L230.43,186.00 L230.44,186.50 L230.43,187.00 L230.42,187.50 L230.40,188.00 L230.37,188.50 L230.33,189.00 L230.28,189.50 L230.22,190.00 L230.16,190.50 L230.08,191.00 L230.00,191.50 L229.91,192.00 L229.81,192.50 L229.71,193.00 L229.59,193.50 L229.48,194.00 L229.35,194.50 L229.22,195.00 L229.09,195.50 L228.94,196.00 L228.80,196.50 L228.64,197.00 L228.48,197.50 L228.32,198.00 L228.14,198.50 L227.97,199.00 L227.78,199.50 L227.59,200.00 L227.40,200.50 L227.20,201.00 L227.00,201.50 L226.79,202.00 L226.58,202.50 L226.37,203.00 L226.15,203.50 L225.93,204.00 L225.70,204.50 L225.47,205.00 L225.23,205.50 L224.99,206.00 L224.75,206.50 L224.50,207.00 L224.25,207.50 L224.00,208.00 L223.74,208.50 L223.48,209.00 L223.22,209.50 L222.95,210.00 L222.69,210.50 L222.41,211.00 L222.14,211.50 L221.86,212.00 L221.58,212.50 L221.30,213.00 L221.01,213.50 L220.73,214.00 L220.44,214.50 L220.15,215.00 L219.86,215.50 L219.58,216.00 L219.29,216.50 L219.01,217.00 L218.72,217.50 L218.44,218.00 L218.17,218.50 L217.89,219.00 L217.61,219.50 L217.34,220.00 L217.07,220.50 L216.80,221.00 L216.52,221.50 L216.25,222.00 L215.98,222.50 L215.71,223.00 L215.43,223.50 L215.16,224.00 L214.88,224.50 L214.60,225.00 L214.32,225.50 L214.04,226.00 L213.75,226.50 L213.47,227.00 L213.18,227.50 L212.89,228.00 L212.60,228.50 L212.31,229.00 L212.02,229.50 L211.72,230.00 L211.43,230.50 L211.14,231.00 L210.86,231.50 L210.57,232.00 L210.29,232.50 L210.02,233.00 L209.75,233.50 L209.49,234.00 L209.23,234.50 L208.98,235.00 L208.73,235.50 L208.49,236.00 L208.26,236.50 L208.03,237.00 L207.80,237.50 L207.58,238.00 L207.36,238.50 L207.15,239.00 L206.94,239.50 L206.73,240.00 L206.53,240.50 L206.33,241.00 L206.13,241.50 L205.93,242.00 L205.74,242.50 L205.55,243.00 L205.36,243.50 L205.18,244.00 L205.00,244.50 L204.82,245.00 L204.65,245.50 L204.48,246.00 L204.31,246.50 L204.15,247.00 L204.00,247.50 L203.84,248.00 L203.69,248.50 L203.55,249.00 L203.41,249.50 L203.28,250.00 L203.15,250.50 L203.03,251.00 L202.91,251.50 L202.79,252.00 L202.68,252.50 L202.57,253.00 L202.46,253.50 L202.36,254.00 L202.26,254.50 L202.17,255.00 L202.07,255.50 L201.98,256.00 L201.89,256.50 L201.81,257.00 L201.73,257.50 L201.65,258.00 L201.57,258.50 L201.49,259.00 L201.42,259.50 L201.35,260.00 L201.29,260.50 L201.22,261.00 L201.16,261.50 L201.10,262.00 L201.03,262.50 L200.98,263.00 L200.92,263.50 L200.86,264.00 L200.80,264.50 L200.75,265.00 L200.70,265.50 L200.65,266.00 L200.60,266.50 L200.55,267.00 L200.50,267.50 L200.45,268.00 L200.41,268.50 L200.36,269.00 L200.32,269.50 L200.28,270.00 L200.24,270.50 L200.19,271.00 L200.15,271.50 L200.11,272.00 L200.07,272.50 L200.03,273.00 L200.00,273.50 L199.96,274.00 L199.92,274.50 L199.89,275.00 L199.86,275.50 L199.83,276.00 L199.80,276.50 L199.77,277.00 L199.74,277.50 L199.72,278.00 L199.70,278.50 L199.68,279.00 L199.66,279.50 L199.65,280.00 L199.64,280.50 L199.63,281.00 L199.62,281.50 L199.61,282.00 L199.60,282.50 L199.59,283.00 L199.58,283.50 L199.56,284.00 L199.54,284.50 L199.52,285.00 L199.49,285.50 L199.45,286.00 L199.41,286.50 L199.38,287.00 L199.35,287.50 L199.33,288.00 L199.32,288.50 L199.31,289.00 L199.30,289.50 L199.30,290.00 L199.30,290.50 L199.30,291.00 L199.30,291.50 L199.30,292.00 L199.30,292.50 L199.30,293.00 L199.30,293.50 L199.30,294.00 L199.30,294.50 L199.30,295.00 L199.30,295.50 L199.30,296.00 L199.30,296.50 L199.30,297.00 L199.30,297.50 L199.30,298.00 L199.30,298.50 L199.30,299.00 L199.30,299.50 L199.30,300.00 L199.30,300.50 L199.30,301.00 L199.30,301.50 L199.30,302.00 L199.30,302.50 L199.30,303.00 L199.30,303.50 L199.30,304.00 L199.30,304.50 L199.30,305.00 L199.30,305.50 L199.30,306.00 L199.30,306.50 L199.30,307.00 L199.30,307.50 L199.30,308.00 L199.30,308.50 L199.30,309.00 L199.30,309.50 L199.30,310.00 L199.30,310.50 L199.30,311.00 L199.30,311.50 L199.30,312.00 L199.30,312.50 L199.30,313.00 L199.30,313.50 L199.30,314.00 L199.30,314.50 L199.30,315.00 L199.30,315.50 L199.30,316.00 L199.30,316.50 L199.30,317.00 L199.30,317.50 L199.30,318.00 L199.30,318.50 L199.30,319.00 L199.30,319.50 L199.30,320.00 L199.30,320.50 L199.30,321.00 L199.30,321.50 L199.30,322.00 L199.30,322.50 L199.30,323.00 L199.30,323.50 L199.30,324.00 L199.30,324.50 L199.30,325.00 L199.30,325.50 L199.30,326.00 L199.30,326.50 L199.30,327.00 L199.30,327.50 L199.30,328.00 L199.30,328.50 L199.30,329.00 L199.30,329.50 L199.30,330.00 L199.30,330.50 L199.30,331.00 L199.30,331.50 L199.30,332.00 L199.30,332.50 L199.30,333.00 L199.30,333.50 L199.30,334.00 L199.30,334.50 L199.30,335.00 L199.30,335.50 L199.30,336.00 L199.30,336.50 L199.30,337.00 L199.30,337.50 L199.30,338.00 L199.30,338.50 L199.30,339.00 L199.30,339.50 L199.30,340.00 L199.30,340.50 L199.30,341.00 L199.30,341.50 L199.30,342.00 L199.30,342.50 L199.30,343.00 L199.30,343.50 L199.30,344.00 L199.30,344.50 L199.30,345.00 L199.30,345.50 L199.30,346.00 L199.30,346.50 L199.30,347.00 L199.30,347.50 L199.30,348.00 L199.30,348.50 L199.30,349.00 L199.30,349.50 L199.30,350.00 L199.30,350.50 L199.30,351.00 L199.30,351.50 L199.30,352.00 L199.30,352.50 L199.30,353.00 L199.30,353.50 L199.30,354.00 L199.30,354.50 L199.30,355.00 L199.30,355.50 L199.30,356.00 L199.30,356.50 L199.30,357.00 L199.30,357.50 L199.30,358.00 L199.30,358.50 L199.30,359.00 L199.30,359.50 L199.30,360.00 L199.30,360.50 L199.30,361.00 L199.30,361.50 L199.30,362.00 L199.30,362.50 L199.30,363.00 L199.30,363.50 L199.30,364.00 L199.30,364.50 L199.30,365.00 L199.30,365.50 L199.30,366.00 L199.30,366.50 L199.30,367.00 L199.30,367.50 L199.30,368.00 L199.30,368.50 L199.30,369.00 L199.30,369.50 L199.30,370.00 L199.30,370.50 L199.30,371.00 L199.30,371.50 L199.30,372.00 L199.30,372.50 L199.30,373.00 L199.30,373.50 L199.30,374.00 L199.30,374.50 L199.30,375.00 L199.30,375.50 L199.30,376.00 L199.30,376.50 L199.30,377.00 L199.30,377.50 L199.30,378.00 L199.30,378.50 L199.30,379.00 L199.30,379.50 L199.30,380.00 L199.30,380.50 L199.30,381.00 L199.30,381.50 L199.30,382.00 L199.30,382.50 L199.30,383.00 L199.30,383.50 L199.30,384.00 L199.30,384.50 L199.30,385.00 L199.30,385.50 L199.30,386.00 L199.30,386.50 L199.30,387.00 L199.30,387.50 L199.30,388.00 L199.30,388.50 L199.30,389.00 L199.30,389.50 L199.30,390.00 L199.30,390.50 L199.30,391.00 L199.30,391.50 L199.30,392.00 L199.30,392.50 L199.30,393.00 L199.30,393.50 L199.30,394.00 L199.30,394.50 L199.30,395.00 L199.30,395.50 L199.30,396.00 L199.30,396.50 L199.30,397.00 L199.30,397.50 L199.30,398.00 L199.30,398.50 L199.30,399.00 L199.30,399.50 L199.30,400.00 L199.30,400.50 L199.30,401.00 L199.30,401.50 L199.30,402.00 L199.30,402.50 L199.30,403.00 L199.30,403.50 L199.30,404.00 L199.30,404.50 L199.30,405.00 L199.30,405.50 L199.30,406.00 L199.30,406.50 L199.30,407.00 L199.30,407.50 L199.30,408.00 L199.30,408.50 L199.30,409.00 L199.30,409.50 L199.30,410.00 L199.30,410.50 L199.30,411.00 L199.30,411.50 L199.30,412.00 L199.30,412.50 L199.30,413.00 L199.30,413.50 L199.30,414.00 L199.30,414.50 L199.30,415.00 L199.30,415.50 L199.30,416.00 L199.30,416.50 L199.30,417.00 L199.30,417.50 L199.30,418.00 L199.30,418.50 L199.30,419.00 L199.30,419.50 L199.30,420.00 L199.30,420.50 L199.30,421.00 L199.30,421.50 L199.30,422.00 L199.30,422.50 L199.30,423.00 L199.30,423.50 L199.30,424.00 L199.30,424.50 L199.30,425.00 L199.30,425.50 L199.30,426.00 L199.30,426.50 L199.30,427.00 L199.30,427.50 L199.30,428.00 L199.30,428.50 L199.30,429.00 L199.30,429.50 L199.30,430.00 L199.30,430.50 L199.30,431.00 L199.30,431.50 L199.30,432.00 L199.30,432.50 L199.30,433.00 L199.30,433.50 L199.30,434.00 L199.30,434.50 L199.30,435.00 L199.30,435.50 L199.30,436.00 L199.30,436.50 L199.30,437.00 L199.30,437.50 L199.30,438.00 L199.30,438.50 L199.30,439.00 L199.30,439.50 L199.30,440.00 L199.30,440.50 L199.30,441.00 L199.30,441.50 L199.30,442.00 L199.30,442.50 L199.30,443.00 L199.30,443.50 L199.30,444.00 L199.30,444.50 L199.30,445.00 L199.30,445.50 L199.30,446.00 L199.30,446.50 L199.31,447.00 L199.31,447.50 L199.31,448.00 L199.31,448.50 L199.31,449.00 L199.31,449.50 L199.31,450.00 L199.32,450.50 L199.32,451.00 L199.32,451.50 L199.33,452.00 L199.33,452.50 L199.33,453.00 L199.34,453.50 L199.34,454.00 L199.35,454.50 L199.36,455.00 L199.37,455.50 L199.37,456.00 L199.39,456.50 L199.40,457.00 L199.41,457.50 L199.42,458.00 L199.44,458.50 L199.46,459.00 L199.48,459.50 L199.50,460.00 L199.53,460.50 L199.56,461.00 L199.59,461.50 L199.63,462.00 L199.66,462.50 L199.71,463.00 L199.76,463.50 L199.81,464.00 L199.87,464.50 L199.93,465.00 L200.00,465.50 L200.08,466.00 L200.16,466.50 L200.25,467.00 L200.35,467.50 L200.46,468.00 L200.58,468.50 L200.71,469.00 L200.85,469.50 L201.00,470.00 L201.17,470.50 L201.34,471.00 L201.53,471.50 L201.74,472.00 L201.96,472.50 L202.19,473.00 L202.45,473.50 L202.71,474.00 L203.00,474.50 L203.31,475.00 L203.63,475.50 L203.98,476.00 L204.34,476.50 L204.73,477.00 L205.14,477.50 L205.57,478.00 L206.03,478.50 L206.50,479.00 L207.00,479.50 L207.52,480.00 L208.07,480.50 L208.64,481.00 L209.23,481.50 L209.85,482.00 L210.49,482.50 L211.15,483.00 L211.84,483.50 L212.54,484.00 L213.27,484.50 L214.01,485.00 L214.78,485.50 L215.56,486.00 L216.35,486.50 L217.17,487.00 L217.99,487.50 L218.83,488.00 L219.67,488.50 L220.53,489.00 L221.38,489.50 L222.25,490.00 L223.11,490.50 L223.97,491.00 L224.83,491.50 L225.68,492.00 L226.52,492.50 L227.35,493.00 L228.16,493.50 L228.96,494.00 L229.74,494.50 L230.50,495.00 L231.23,495.50 L231.94,496.00 L232.61,496.50 L233.25,497.00 L233.86,497.50 L234.43,498.00 L234.95,498.50 L235.44,499.00 L235.89,499.50 L236.28,500.00 L236.64,500.50 L236.94,501.00 L237.19,501.50 L237.40,502.00 L237.55,502.50 L237.65,503.00 L237.70,503.50 L237.70,503.70 L160.90,503.70 L160.90,503.50 L160.95,503.00 L161.05,502.50 L161.20,502.00 L161.41,501.50 L161.66,501.00 L161.96,500.50 L162.32,500.00 L162.71,499.50 L163.16,499.00 L163.65,498.50 L164.17,498.00 L164.74,497.50 L165.35,497.00 L165.99,496.50 L166.66,496.00 L167.37,495.50 L168.10,495.00 L168.86,494.50 L169.64,494.00 L170.44,493.50 L171.25,493.00 L172.08,492.50 L172.92,492.00 L173.77,491.50 L174.63,491.00 L175.49,490.50 L176.35,490.00 L177.22,489.50 L178.07,489.00 L178.93,488.50 L179.77,488.00 L180.61,487.50 L181.43,487.00 L182.25,486.50 L183.04,486.00 L183.82,485.50 L184.59,485.00 L185.33,484.50 L186.06,484.00 L186.76,483.50 L187.45,483.00 L188.11,482.50 L188.75,482.00 L189.37,481.50 L189.96,481.00 L190.53,480.50 L191.08,480.00 L191.60,479.50 L192.10,479.00 L192.57,478.50 L193.03,478.00 L193.46,477.50 L193.87,477.00 L194.26,476.50 L194.62,476.00 L194.97,475.50 L195.29,475.00 L195.60,474.50 L195.89,474.00 L196.15,473.50 L196.41,473.00 L196.64,472.50 L196.86,472.00 L197.07,471.50 L197.26,471.00 L197.43,470.50 L197.60,470.00 L197.75,469.50 L197.89,469.00 L198.02,468.50 L198.14,468.00 L198.25,467.50 L198.35,467.00 L198.44,466.50 L198.52,466.00 L198.60,465.50 L198.67,465.00 L198.73,464.50 L198.79,464.00 L198.84,463.50 L198.89,463.00 L198.94,462.50 L198.97,462.00 L199.01,461.50 L199.04,461.00 L199.07,460.50 L199.10,460.00 L199.12,459.50 L199.14,459.00 L199.16,458.50 L199.18,458.00 L199.19,457.50 L199.20,457.00 L199.21,456.50 L199.23,456.00 L199.23,455.50 L199.24,455.00 L199.25,454.50 L199.26,454.00 L199.26,453.50 L199.27,453.00 L199.27,452.50 L199.27,452.00 L199.28,451.50 L199.28,451.00 L199.28,450.50 L199.29,450.00 L199.29,449.50 L199.29,449.00 L199.29,448.50 L199.29,448.00 L199.29,447.50 L199.29,447.00 L199.30,446.50 L199.30,446.00 L199.30,445.50 L199.30,445.00 L199.30,444.50 L199.30,444.00 L199.30,443.50 L199.30,443.00 L199.30,442.50 L199.30,442.00 L199.30,441.50 L199.30,441.00 L199.30,440.50 L199.30,440.00 L199.30,439.50 L199.30,439.00 L199.30,438.50 L199.30,438.00 L199.30,437.50 L199.30,437.00 L199.30,436.50 L199.30,436.00 L199.30,435.50 L199.30,435.00 L199.30,434.50 L199.30,434.00 L199.30,433.50 L199.30,433.00 L199.30,432.50 L199.30,432.00 L199.30,431.50 L199.30,431.00 L199.30,430.50 L199.30,430.00 L199.30,429.50 L199.30,429.00 L199.30,428.50 L199.30,428.00 L199.30,427.50 L199.30,427.00 L199.30,426.50 L199.30,426.00 L199.30,425.50 L199.30,425.00 L199.30,424.50 L199.30,424.00 L199.30,423.50 L199.30,423.00 L199.30,422.50 L199.30,422.00 L199.30,421.50 L199.30,421.00 L199.30,420.50 L199.30,420.00 L199.30,419.50 L199.30,419.00 L199.30,418.50 L199.30,418.00 L199.30,417.50 L199.30,417.00 L199.30,416.50 L199.30,416.00 L199.30,415.50 L199.30,415.00 L199.30,414.50 L199.30,414.00 L199.30,413.50 L199.30,413.00 L199.30,412.50 L199.30,412.00 L199.30,411.50 L199.30,411.00 L199.30,410.50 L199.30,410.00 L199.30,409.50 L199.30,409.00 L199.30,408.50 L199.30,408.00 L199.30,407.50 L199.30,407.00 L199.30,406.50 L199.30,406.00 L199.30,405.50 L199.30,405.00 L199.30,404.50 L199.30,404.00 L199.30,403.50 L199.30,403.00 L199.30,402.50 L199.30,402.00 L199.30,401.50 L199.30,401.00 L199.30,400.50 L199.30,400.00 L199.30,399.50 L199.30,399.00 L199.30,398.50 L199.30,398.00 L199.30,397.50 L199.30,397.00 L199.30,396.50 L199.30,396.00 L199.30,395.50 L199.30,395.00 L199.30,394.50 L199.30,394.00 L199.30,393.50 L199.30,393.00 L199.30,392.50 L199.30,392.00 L199.30,391.50 L199.30,391.00 L199.30,390.50 L199.30,390.00 L199.30,389.50 L199.30,389.00 L199.30,388.50 L199.30,388.00 L199.30,387.50 L199.30,387.00 L199.30,386.50 L199.30,386.00 L199.30,385.50 L199.30,385.00 L199.30,384.50 L199.30,384.00 L199.30,383.50 L199.30,383.00 L199.30,382.50 L199.30,382.00 L199.30,381.50 L199.30,381.00 L199.30,380.50 L199.30,380.00 L199.30,379.50 L199.30,379.00 L199.30,378.50 L199.30,378.00 L199.30,377.50 L199.30,377.00 L199.30,376.50 L199.30,376.00 L199.30,375.50 L199.30,375.00 L199.30,374.50 L199.30,374.00 L199.30,373.50 L199.30,373.00 L199.30,372.50 L199.30,372.00 L199.30,371.50 L199.30,371.00 L199.30,370.50 L199.30,370.00 L199.30,369.50 L199.30,369.00 L199.30,368.50 L199.30,368.00 L199.30,367.50 L199.30,367.00 L199.30,366.50 L199.30,366.00 L199.30,365.50 L199.30,365.00 L199.30,364.50 L199.30,364.00 L199.30,363.50 L199.30,363.00 L199.30,362.50 L199.30,362.00 L199.30,361.50 L199.30,361.00 L199.30,360.50 L199.30,360.00 L199.30,359.50 L199.30,359.00 L199.30,358.50 L199.30,358.00 L199.30,357.50 L199.30,357.00 L199.30,356.50 L199.30,356.00 L199.30,355.50 L199.30,355.00 L199.30,354.50 L199.30,354.00 L199.30,353.50 L199.30,353.00 L199.30,352.50 L199.30,352.00 L199.30,351.50 L199.30,351.00 L199.30,350.50 L199.30,350.00 L199.30,349.50 L199.30,349.00 L199.30,348.50 L199.30,348.00 L199.30,347.50 L199.30,347.00 L199.30,346.50 L199.30,346.00 L199.30,345.50 L199.30,345.00 L199.30,344.50 L199.30,344.00 L199.30,343.50 L199.30,343.00 L199.30,342.50 L199.30,342.00 L199.30,341.50 L199.30,341.00 L199.30,340.50 L199.30,340.00 L199.30,339.50 L199.30,339.00 L199.30,338.50 L199.30,338.00 L199.30,337.50 L199.30,337.00 L199.30,336.50 L199.30,336.00 L199.30,335.50 L199.30,335.00 L199.30,334.50 L199.30,334.00 L199.30,333.50 L199.30,333.00 L199.30,332.50 L199.30,332.00 L199.30,331.50 L199.30,331.00 L199.30,330.50 L199.30,330.00 L199.30,329.50 L199.30,329.00 L199.30,328.50 L199.30,328.00 L199.30,327.50 L199.30,327.00 L199.30,326.50 L199.30,326.00 L199.30,325.50 L199.30,325.00 L199.30,324.50 L199.30,324.00 L199.30,323.50 L199.30,323.00 L199.30,322.50 L199.30,322.00 L199.30,321.50 L199.30,321.00 L199.30,320.50 L199.30,320.00 L199.30,319.50 L199.30,319.00 L199.30,318.50 L199.30,318.00 L199.30,317.50 L199.30,317.00 L199.30,316.50 L199.30,316.00 L199.30,315.50 L199.30,315.00 L199.30,314.50 L199.30,314.00 L199.30,313.50 L199.30,313.00 L199.30,312.50 L199.30,312.00 L199.30,311.50 L199.30,311.00 L199.30,310.50 L199.30,310.00 L199.30,309.50 L199.30,309.00 L199.30,308.50 L199.30,308.00 L199.30,307.50 L199.30,307.00 L199.30,306.50 L199.30,306.00 L199.30,305.50 L199.30,305.00 L199.30,304.50 L199.30,304.00 L199.30,303.50 L199.30,303.00 L199.30,302.50 L199.30,302.00 L199.30,301.50 L199.30,301.00 L199.30,300.50 L199.30,300.00 L199.30,299.50 L199.30,299.00 L199.30,298.50 L199.30,298.00 L199.30,297.50 L199.30,297.00 L199.30,296.50 L199.30,296.00 L199.30,295.50 L199.30,295.00 L199.30,294.50 L199.30,294.00 L199.30,293.50 L199.30,293.00 L199.30,292.50 L199.30,292.00 L199.30,291.50 L199.30,291.00 L199.30,290.50 L199.30,290.00 L199.30,289.50 L199.29,289.00 L199.28,288.50 L199.27,288.00 L199.25,287.50 L199.22,287.00 L199.19,286.50 L199.15,286.00 L199.11,285.50 L199.08,285.00 L199.06,284.50 L199.04,284.00 L199.02,283.50 L199.01,283.00 L199.00,282.50 L198.99,282.00 L198.98,281.50 L198.97,281.00 L198.96,280.50 L198.95,280.00 L198.94,279.50 L198.92,279.00 L198.90,278.50 L198.88,278.00 L198.86,277.50 L198.83,277.00 L198.80,276.50 L198.77,276.00 L198.74,275.50 L198.71,275.00 L198.68,274.50 L198.64,274.00 L198.60,273.50 L198.57,273.00 L198.53,272.50 L198.49,272.00 L198.45,271.50 L198.41,271.00 L198.36,270.50 L198.32,270.00 L198.28,269.50 L198.24,269.00 L198.19,268.50 L198.15,268.00 L198.10,267.50 L198.05,267.00 L198.00,266.50 L197.95,266.00 L197.90,265.50 L197.85,265.00 L197.80,264.50 L197.74,264.00 L197.68,263.50 L197.62,263.00 L197.57,262.50 L197.50,262.00 L197.44,261.50 L197.38,261.00 L197.31,260.50 L197.25,260.00 L197.18,259.50 L197.11,259.00 L197.03,258.50 L196.95,258.00 L196.87,257.50 L196.79,257.00 L196.71,256.50 L196.62,256.00 L196.53,255.50 L196.43,255.00 L196.34,254.50 L196.24,254.00 L196.14,253.50 L196.03,253.00 L195.92,252.50 L195.81,252.00 L195.69,251.50 L195.57,251.00 L195.45,250.50 L195.32,250.00 L195.19,249.50 L195.05,249.00 L194.91,248.50 L194.76,248.00 L194.60,247.50 L194.45,247.00 L194.29,246.50 L194.12,246.00 L193.95,245.50 L193.78,245.00 L193.60,244.50 L193.42,244.00 L193.24,243.50 L193.05,243.00 L192.86,242.50 L192.67,242.00 L192.47,241.50 L192.27,241.00 L192.07,240.50 L191.87,240.00 L191.66,239.50 L191.45,239.00 L191.24,238.50 L191.02,238.00 L190.80,237.50 L190.57,237.00 L190.34,236.50 L190.11,236.00 L189.87,235.50 L189.62,235.00 L189.37,234.50 L189.11,234.00 L188.85,233.50 L188.58,233.00 L188.31,232.50 L188.03,232.00 L187.74,231.50 L187.46,231.00 L187.17,230.50 L186.88,230.00 L186.58,229.50 L186.29,229.00 L186.00,228.50 L185.71,228.00 L185.42,227.50 L185.13,227.00 L184.85,226.50 L184.56,226.00 L184.28,225.50 L184.00,225.00 L183.72,224.50 L183.44,224.00 L183.17,223.50 L182.89,223.00 L182.62,222.50 L182.35,222.00 L182.08,221.50 L181.80,221.00 L181.53,220.50 L181.26,220.00 L180.99,219.50 L180.71,219.00 L180.43,218.50 L180.16,218.00 L179.88,217.50 L179.59,217.00 L179.31,216.50 L179.02,216.00 L178.74,215.50 L178.45,215.00 L178.16,214.50 L177.87,214.00 L177.59,213.50 L177.30,213.00 L177.02,212.50 L176.74,212.00 L176.46,211.50 L176.19,211.00 L175.91,210.50 L175.65,210.00 L175.38,209.50 L175.12,209.00 L174.86,208.50 L174.60,208.00 L174.35,207.50 L174.10,207.00 L173.85,206.50 L173.61,206.00 L173.37,205.50 L173.13,205.00 L172.90,204.50 L172.67,204.00 L172.45,203.50 L172.23,203.00 L172.02,202.50 L171.81,202.00 L171.60,201.50 L171.40,201.00 L171.20,200.50 L171.01,200.00 L170.82,199.50 L170.63,199.00 L170.46,198.50 L170.28,198.00 L170.12,197.50 L169.96,197.00 L169.80,196.50 L169.66,196.00 L169.51,195.50 L169.38,195.00 L169.25,194.50 L169.12,194.00 L169.01,193.50 L168.89,193.00 L168.79,192.50 L168.69,192.00 L168.60,191.50 L168.52,191.00 L168.44,190.50 L168.38,190.00 L168.32,189.50 L168.27,189.00 L168.23,188.50 L168.20,188.00 L168.18,187.50 L168.17,187.00 L168.16,186.50 L168.17,186.00 L168.18,185.50 L168.20,185.00 L168.23,184.50 L168.27,184.00 L168.32,183.50 L168.38,183.00 L168.46,182.50 L168.54,182.00 L168.63,181.50 L168.73,181.00 L168.85,180.50 L168.97,180.00 L169.11,179.50 L169.25,179.00 L169.41,178.50 L169.57,178.00 L169.75,177.50 L169.93,177.00 L170.12,176.50 L170.32,176.00 L170.52,175.50 L170.74,175.00 L170.96,174.50 L171.19,174.00 L171.43,173.50 L171.67,173.00 L171.93,172.50 L172.19,172.00 L172.47,171.50 L172.74,171.00 L173.03,170.50 L173.32,170.00 L173.61,169.50 L173.90,169.00 L174.20,168.50 L174.49,168.00 L174.78,167.50 L175.08,167.00 L175.37,166.50 L175.66,166.00 L175.95,165.50 L176.25,165.00 L176.54,164.50 L176.83,164.00 L177.13,163.50 L177.42,163.00 L177.72,162.50 L178.01,162.00 L178.31,161.50 L178.61,161.00 L178.91,160.50 L179.21,160.00 L179.51,159.50 L179.81,159.00 L180.12,158.50 L180.42,158.00 L180.73,157.50 L181.04,157.00 L181.35,156.50 L181.66,156.00 L181.97,155.50 L182.28,155.00 L182.58,154.50 L182.88,154.00 L183.17,153.50 L183.46,153.00 L183.73,152.50 L184.00,152.00 L184.26,151.50 L184.51,151.00 L184.75,150.50 L184.98,150.00 L185.22,149.50 L185.45,149.00 L185.68,148.50 L185.91,148.00 L186.14,147.50 L186.37,147.00 L186.60,146.50 L186.83,146.00 L187.06,145.50 L187.29,145.00 L187.51,144.50 L187.73,144.00 L187.94,143.50 L188.15,143.00 L188.36,142.50 L188.56,142.00 L188.75,141.50 L188.95,141.00 L189.13,140.50 L189.32,140.00 L189.50,139.50 L189.68,139.00 L189.86,138.50 L190.03,138.00 L190.21,137.50 L190.38,137.00 L190.56,136.50 L190.73,136.00 L190.90,135.50 L191.07,135.00 L191.24,134.50 L191.41,134.00 L191.58,133.50 L191.75,133.00 L191.92,132.50 L192.09,132.00 L192.25,131.50 L192.42,131.00 L192.58,130.50 L192.74,130.00 L192.89,129.50 L193.05,129.00 L193.20,128.50 L193.35,128.00 L193.49,127.50 L193.63,127.00 L193.77,126.50 L193.91,126.00 L194.05,125.50 L194.18,125.00 L194.31,124.50 L194.44,124.00 L194.56,123.50 L194.69,123.00 L194.81,122.50 L194.93,122.00 L195.05,121.50 L195.17,121.00 L195.29,120.50 L195.40,120.00 L195.51,119.50 L195.62,119.00 L195.73,118.50 L195.84,118.00 L195.94,117.50 L196.05,117.00 L196.15,116.50 L196.25,116.00 L196.34,115.50 L196.44,115.00 L196.53,114.50 L196.62,114.00 L196.70,113.50 L196.79,113.00 L196.87,112.50 L196.95,112.00 L197.03,111.50 L197.10,111.00 L197.17,110.50 L197.24,110.00 L197.31,109.50 L197.37,109.00 L197.44,108.50 L197.50,108.00 L197.56,107.50 L197.62,107.00 L197.68,106.50 L197.74,106.00 L197.80,105.50 L197.86,105.00 L197.91,104.50 L197.97,104.00 L198.02,103.50 L198.07,103.00 L198.12,102.50 L198.16,102.00 L198.21,101.50 L198.25,101.00 L198.29,100.50 L198.33,100.00 L198.36,99.50 L198.40,99.00 L198.43,98.50 L198.46,98.00 L198.48,97.50 L198.51,97.00 L198.54,96.50 L198.56,96.00 L198.58,95.50 L198.61,95.00 L198.63,94.50 L198.65,94.00 L198.67,93.50 L198.69,93.00 L198.71,92.50 L198.73,92.00 L198.75,91.50 L198.77,91.00 L198.78,90.50 L198.80,90.00 L198.82,89.50 L198.84,89.00 L198.85,88.50 L198.87,88.00 L198.89,87.50 L198.91,87.00 L198.93,86.50 L198.94,86.00 L198.96,85.50 L198.98,85.00 L199.00,84.50 L199.02,84.00 L199.04,83.50 L199.06,83.00 L199.07,82.50 L199.09,82.00 L199.11,81.50 L199.13,81.00 L199.14,80.50 L199.16,80.00 L199.18,79.50 L199.20,79.00 L199.21,78.50 L199.23,78.00 L199.24,77.50 L199.26,77.00 L199.27,76.50 L199.28,76.00 Z" fill="#fff" stroke="#00BFC4" stroke-width="2.0" stroke-linejoin="round"/>
<line x1="170.93" x2="227.67" y1="199.80" y2="199.80" stroke="#00BFC4" stroke-width="2.0"/>
<path d="M114.98,64.9 L114.98,52.2 L199.12,52.2 L199.12,64.9" fill="none" stroke="#000" stroke-width="1.9" stroke-linecap="round" stroke-linejoin="round"/>
<text x="157.05" y="47.3" font-size="14.5" text-anchor="middle" fill="#000">2.9e−09</text>
<rect x="64.50" y="29.7" width="185.10" height="496.20" fill="none" stroke="#333333" stroke-width="1.2"/>
<rect x="64.50" y="1.3" width="185.10" height="28.40" fill="#D9D9D9" stroke="#333333" stroke-width="1.2"/>
<text x="157.05" y="20.9" font-size="14.5" text-anchor="middle" fill="#1A1A1A">Chen, batch 1</text>
<line x1="60.20" x2="64.50" y1="504.00" y2="504.00" stroke="#333333" stroke-width="1.2"/>
<text x="55.80" y="509.40" font-size="14.5" text-anchor="end" fill="#4D4D4D">0.0</text>
<line x1="60.20" x2="64.50" y1="385.45" y2="385.45" stroke="#333333" stroke-width="1.2"/>
<text x="55.80" y="390.85" font-size="14.5" text-anchor="end" fill="#4D4D4D">2.5</text>
<line x1="60.20" x2="64.50" y1="266.90" y2="266.90" stroke="#333333" stroke-width="1.2"/>
<text x="55.80" y="272.30" font-size="14.5" text-anchor="end" fill="#4D4D4D">5.0</text>
<line x1="60.20" x2="64.50" y1="148.35" y2="148.35" stroke="#333333" stroke-width="1.2"/>
<text x="55.80" y="153.75" font-size="14.5" text-anchor="end" fill="#4D4D4D">7.5</text>
<line x1="60.20" x2="64.50" y1="29.80" y2="29.80" stroke="#333333" stroke-width="1.2"/>
<text x="55.80" y="35.20" font-size="14.5" text-anchor="end" fill="#4D4D4D">10.0</text>
<line x1="114.98" x2="114.98" y1="525.9" y2="530.40" stroke="#333333" stroke-width="1.2"/>
<text x="114.98" y="545.2" font-size="14.5" text-anchor="middle" fill="#4D4D4D">ad libitum</text>
<line x1="199.12" x2="199.12" y1="525.9" y2="530.40" stroke="#333333" stroke-width="1.2"/>
<text x="199.12" y="545.2" font-size="14.5" text-anchor="middle" fill="#4D4D4D">food deprived</text>
<line x1="287.70" x2="472.50" y1="440.25" y2="440.25" stroke="#EBEBEB" stroke-width="0.8"/>
<line x1="287.70" x2="472.50" y1="312.75" y2="312.75" stroke="#EBEBEB" stroke-width="0.8"/>
<line x1="287.70" x2="472.50" y1="185.25" y2="185.25" stroke="#EBEBEB" stroke-width="0.8"/>
<line x1="287.70" x2="472.50" y1="57.75" y2="57.75" stroke="#EBEBEB" stroke-width="0.8"/>
<line x1="287.70" x2="472.50" y1="504.00" y2="504.00" stroke="#EBEBEB" stroke-width="1.8"/>
<line x1="287.70" x2="472.50" y1="376.50" y2="376.50" stroke="#EBEBEB" stroke-width="1.8"/>
<line x1="287.70" x2="472.50" y1="249.00" y2="249.00" stroke="#EBEBEB" stroke-width="1.8"/>
<line x1="287.70" x2="472.50" y1="121.50" y2="121.50" stroke="#EBEBEB" stroke-width="1.8"/>
<line x1="338.10" x2="338.10" y1="29.7" y2="525.9" stroke="#EBEBEB" stroke-width="1.5"/>
<line x1="422.10" x2="422.10" y1="29.7" y2="525.9" stroke="#EBEBEB" stroke-width="1.5"/>
<path d="M338.10,87.30 L338.20,87.80 L338.31,88.30 L338.44,88.80 L338.58,89.30 L338.71,89.80 L338.84,90.30 L338.97,90.80 L339.08,91.30 L339.18,91.80 L339.27,92.30 L339.36,92.80 L339.43,93.30 L339.50,93.80 L339.57,94.30 L339.63,94.80 L339.70,95.30 L339.76,95.80 L339.82,96.30 L339.87,96.80 L339.93,97.30 L339.99,97.80 L340.06,98.30 L340.12,98.80 L340.19,99.30 L340.25,99.80 L340.32,100.30 L340.39,100.80 L340.46,101.30 L340.54,101.80 L340.61,102.30 L340.69,102.80 L340.76,103.30 L340.84,103.80 L340.92,104.30 L341.00,104.80 L341.08,105.30 L341.16,105.80 L341.25,106.30 L341.33,106.80 L341.42,107.30 L341.52,107.80 L341.61,108.30 L341.71,108.80 L341.82,109.30 L341.92,109.80 L342.03,110.30 L342.14,110.80 L342.26,111.30 L342.37,111.80 L342.50,112.30 L342.62,112.80 L342.74,113.30 L342.87,113.80 L343.00,114.30 L343.13,114.80 L343.26,115.30 L343.40,115.80 L343.53,116.30 L343.66,116.80 L343.80,117.30 L343.94,117.80 L344.08,118.30 L344.22,118.80 L344.36,119.30 L344.50,119.80 L344.64,120.30 L344.78,120.80 L344.93,121.30 L345.07,121.80 L345.22,122.30 L345.37,122.80 L345.52,123.30 L345.67,123.80 L345.82,124.30 L345.97,124.80 L346.12,125.30 L346.28,125.80 L346.43,126.30 L346.59,126.80 L346.75,127.30 L346.91,127.80 L347.08,128.30 L347.25,128.80 L347.42,129.30 L347.59,129.80 L347.77,130.30 L347.95,130.80 L348.13,131.30 L348.30,131.80 L348.48,132.30 L348.66,132.80 L348.83,133.30 L349.01,133.80 L349.19,134.30 L349.37,134.80 L349.55,135.30 L349.72,135.80 L349.91,136.30 L350.09,136.80 L350.27,137.30 L350.46,137.80 L350.65,138.30 L350.84,138.80 L351.03,139.30 L351.22,139.80 L351.42,140.30 L351.62,140.80 L351.81,141.30 L352.01,141.80 L352.21,142.30 L352.41,142.80 L352.62,143.30 L352.82,143.80 L353.02,144.30 L353.22,144.80 L353.42,145.30 L353.62,145.80 L353.82,146.30 L354.03,146.80 L354.23,147.30 L354.43,147.80 L354.64,148.30 L354.84,148.80 L355.04,149.30 L355.24,149.80 L355.45,150.30 L355.65,150.80 L355.84,151.30 L356.04,151.80 L356.23,152.30 L356.42,152.80 L356.61,153.30 L356.80,153.80 L356.98,154.30 L357.17,154.80 L357.35,155.30 L357.53,155.80 L357.71,156.30 L357.89,156.80 L358.07,157.30 L358.26,157.80 L358.45,158.30 L358.64,158.80 L358.84,159.30 L359.04,159.80 L359.25,160.30 L359.45,160.80 L359.65,161.30 L359.85,161.80 L360.03,162.30 L360.20,162.80 L360.36,163.30 L360.52,163.80 L360.66,164.30 L360.80,164.80 L360.94,165.30 L361.07,165.80 L361.19,166.30 L361.31,166.80 L361.43,167.30 L361.54,167.80 L361.64,168.30 L361.75,168.80 L361.84,169.30 L361.93,169.80 L362.02,170.30 L362.10,170.80 L362.18,171.30 L362.25,171.80 L362.32,172.30 L362.38,172.80 L362.44,173.30 L362.49,173.80 L362.53,174.30 L362.57,174.80 L362.61,175.30 L362.64,175.80 L362.66,176.30 L362.67,176.80 L362.68,177.30 L362.68,177.80 L362.68,178.30 L362.67,178.80 L362.65,179.30 L362.63,179.80 L362.60,180.30 L362.57,180.80 L362.52,181.30 L362.48,181.80 L362.42,182.30 L362.36,182.80 L362.29,183.30 L362.22,183.80 L362.14,184.30 L362.05,184.80 L361.95,185.30 L361.85,185.80 L361.74,186.30 L361.63,186.80 L361.51,187.30 L361.38,187.80 L361.24,188.30 L361.10,188.80 L360.96,189.30 L360.80,189.80 L360.64,190.30 L360.47,190.80 L360.30,191.30 L360.11,191.80 L359.92,192.30 L359.72,192.80 L359.51,193.30 L359.29,193.80 L359.07,194.30 L358.84,194.80 L358.61,195.30 L358.38,195.80 L358.15,196.30 L357.92,196.80 L357.70,197.30 L357.47,197.80 L357.25,198.30 L357.04,198.80 L356.83,199.30 L356.63,199.80 L356.42,200.30 L356.23,200.80 L356.03,201.30 L355.83,201.80 L355.64,202.30 L355.44,202.80 L355.25,203.30 L355.05,203.80 L354.85,204.30 L354.64,204.80 L354.43,205.30 L354.22,205.80 L354.00,206.30 L353.78,206.80 L353.55,207.30 L353.32,207.80 L353.08,208.30 L352.85,208.80 L352.61,209.30 L352.37,209.80 L352.13,210.30 L351.90,210.80 L351.67,211.30 L351.44,211.80 L351.22,212.30 L351.00,212.80 L350.78,213.30 L350.58,213.80 L350.37,214.30 L350.17,214.80 L349.98,215.30 L349.79,215.80 L349.60,216.30 L349.41,216.80 L349.23,217.30 L349.05,217.80 L348.87,218.30 L348.70,218.80 L348.52,219.30 L348.35,219.80 L348.17,220.30 L348.00,220.80 L347.83,221.30 L347.66,221.80 L347.50,222.30 L347.33,222.80 L347.17,223.30 L347.00,223.80 L346.84,224.30 L346.69,224.80 L346.53,225.30 L346.38,225.80 L346.23,226.30 L346.08,226.80 L345.94,227.30 L345.80,227.80 L345.67,228.30 L345.54,228.80 L345.41,229.30 L345.29,229.80 L345.17,230.30 L345.05,230.80 L344.93,231.30 L344.80,231.80 L344.67,232.30 L344.54,232.80 L344.40,233.30 L344.26,233.80 L344.11,234.30 L343.96,234.80 L343.81,235.30 L343.66,235.80 L343.51,236.30 L343.37,236.80 L343.22,237.30 L343.08,237.80 L342.94,238.30 L342.80,238.80 L342.67,239.30 L342.55,239.80 L342.43,240.30 L342.31,240.80 L342.19,241.30 L342.08,241.80 L341.98,242.30 L341.87,242.80 L341.77,243.30 L341.67,243.80 L341.57,244.30 L341.48,244.80 L341.38,245.30 L341.29,245.80 L341.20,246.30 L341.10,246.80 L341.01,247.30 L340.92,247.80 L340.83,248.30 L340.74,248.80 L340.65,249.30 L340.57,249.80 L340.48,250.30 L340.40,250.80 L340.32,251.30 L340.24,251.80 L340.17,252.30 L340.09,252.80 L340.02,253.30 L339.95,253.80 L339.89,254.30 L339.83,254.80 L339.77,255.30 L339.71,255.80 L339.66,256.30 L339.61,256.80 L339.56,257.30 L339.51,257.80 L339.47,258.30 L339.42,258.80 L339.38,259.30 L339.34,259.80 L339.29,260.30 L339.25,260.80 L339.21,261.30 L339.16,261.80 L339.12,262.30 L339.08,262.80 L339.03,263.30 L338.99,263.80 L338.95,264.30 L338.90,264.80 L338.86,265.30 L338.82,265.80 L338.78,266.30 L338.74,266.80 L338.70,267.30 L338.66,267.80 L338.63,268.30 L338.59,268.80 L338.56,269.30 L338.52,269.80 L338.49,270.30 L338.46,270.80 L338.43,271.30 L338.40,271.80 L338.37,272.30 L338.33,272.80 L338.30,273.30 L338.26,273.80 L338.23,274.30 L338.18,274.80 L338.13,275.30 L338.08,275.80 L338.04,276.30 L337.99,276.80 L337.96,277.30 L337.94,277.80 L337.92,278.30 L337.91,278.80 L337.90,279.30 L337.90,279.80 L337.90,280.30 L337.90,280.80 L337.90,281.30 L337.90,281.80 L337.90,282.30 L337.90,282.80 L337.90,283.30 L337.90,283.80 L337.90,284.30 L337.90,284.80 L337.90,285.30 L337.90,285.80 L337.90,286.30 L337.90,286.80 L337.90,287.30 L337.90,287.80 L337.90,288.30 L337.90,288.80 L337.90,289.30 L337.90,289.80 L337.90,290.30 L337.90,290.80 L337.90,291.30 L337.90,291.80 L337.90,292.30 L337.90,292.80 L337.90,293.30 L337.90,293.80 L337.90,294.30 L337.90,294.80 L337.90,295.30 L337.90,295.80 L337.90,296.30 L337.90,296.80 L337.90,297.30 L337.90,297.80 L337.90,298.30 L337.90,298.80 L337.90,299.30 L337.90,299.80 L337.90,300.30 L337.90,300.80 L337.90,301.30 L337.90,301.80 L337.90,302.30 L337.90,302.80 L337.90,303.30 L337.90,303.80 L337.90,304.30 L337.90,304.80 L337.90,305.30 L337.90,305.80 L337.90,306.30 L337.90,306.80 L337.90,307.30 L337.90,307.80 L337.90,308.30 L337.90,308.80 L337.90,309.30 L337.90,309.80 L337.90,310.30 L337.90,310.80 L337.90,311.30 L337.90,311.80 L337.90,312.30 L337.90,312.80 L337.90,313.30 L337.90,313.80 L337.90,314.30 L337.90,314.80 L337.90,315.30 L337.90,315.80 L337.90,316.30 L337.90,316.80 L337.90,317.30 L337.90,317.80 L337.90,318.30 L337.90,318.80 L337.90,319.30 L337.90,319.80 L337.90,320.30 L337.90,320.80 L337.90,321.30 L337.90,321.80 L337.90,322.30 L337.90,322.80 L337.90,323.30 L337.90,323.80 L337.90,324.30 L337.90,324.80 L337.90,325.30 L337.90,325.80 L337.90,326.30 L337.90,326.80 L337.90,327.30 L337.90,327.80 L337.90,328.30 L337.90,328.80 L337.90,329.30 L337.90,329.80 L337.90,330.30 L337.90,330.80 L337.90,331.30 L337.90,331.80 L337.90,332.30 L337.90,332.80 L337.90,333.30 L337.90,333.80 L337.90,334.30 L337.90,334.80 L337.90,335.30 L337.90,335.80 L337.90,336.30 L337.90,336.80 L337.90,337.30 L337.90,337.80 L337.90,338.30 L337.90,338.80 L337.90,339.30 L337.90,339.80 L337.90,340.30 L337.90,340.80 L337.90,341.30 L337.90,341.80 L337.90,342.30 L337.90,342.80 L337.90,343.30 L337.90,343.80 L337.90,344.30 L337.90,344.80 L337.90,345.30 L337.90,345.80 L337.90,346.30 L337.90,346.80 L337.90,347.30 L337.90,347.80 L337.90,348.30 L337.90,348.80 L337.90,349.30 L337.90,349.80 L337.90,350.30 L337.90,350.80 L337.90,351.30 L337.90,351.80 L337.90,352.30 L337.90,352.80 L337.90,353.30 L337.90,353.80 L337.90,354.30 L337.90,354.80 L337.90,355.30 L337.90,355.80 L337.90,356.30 L337.90,356.80 L337.90,357.30 L337.90,357.80 L337.90,358.30 L337.90,358.80 L337.90,359.30 L337.90,359.80 L337.90,360.30 L337.90,360.80 L337.90,361.30 L337.90,361.80 L337.90,362.30 L337.90,362.80 L337.90,363.30 L337.90,363.80 L337.90,364.30 L337.90,364.80 L337.90,365.30 L337.90,365.80 L337.90,366.30 L337.90,366.80 L337.90,367.30 L337.90,367.80 L337.90,368.30 L337.90,368.80 L337.90,369.30 L337.90,369.80 L337.90,370.30 L337.90,370.80 L337.90,371.30 L337.90,371.80 L337.90,372.30 L337.90,372.80 L337.90,373.30 L337.90,373.80 L337.90,374.30 L337.90,374.80 L337.90,375.30 L337.90,375.80 L337.90,376.30 L337.90,376.80 L337.90,377.30 L337.90,377.80 L337.90,378.30 L337.90,378.80 L337.90,379.30 L337.90,379.80 L337.90,380.30 L337.90,380.80 L337.90,381.30 L337.90,381.80 L337.90,382.30 L337.90,382.80 L337.90,383.30 L337.90,383.80 L337.90,384.30 L337.90,384.80 L337.90,385.30 L337.90,385.80 L337.90,386.30 L337.90,386.80 L337.90,387.30 L337.90,387.80 L337.90,388.30 L337.90,388.80 L337.90,389.30 L337.90,389.80 L337.90,390.30 L337.90,390.80 L337.90,391.30 L337.90,391.80 L337.90,392.30 L337.90,392.80 L337.90,393.30 L337.90,393.80 L337.90,394.30 L337.90,394.80 L337.90,395.30 L337.90,395.80 L337.90,396.30 L337.90,396.80 L337.90,397.30 L337.90,397.80 L337.90,398.30 L337.90,398.80 L337.90,399.30 L337.90,399.80 L337.90,400.30 L337.90,400.80 L337.90,401.30 L337.90,401.80 L337.90,402.30 L337.90,402.80 L337.90,403.30 L337.90,403.80 L337.90,404.30 L337.90,404.80 L337.90,405.30 L337.90,405.80 L337.90,406.30 L337.90,406.80 L337.90,407.30 L337.90,407.80 L337.90,408.30 L337.90,408.80 L337.90,409.30 L337.90,409.80 L337.90,410.30 L337.90,410.80 L337.90,411.30 L337.90,411.80 L337.90,412.30 L337.90,412.80 L337.90,413.30 L337.90,413.80 L337.90,414.30 L337.90,414.80 L337.90,415.30 L337.90,415.80 L337.90,416.30 L337.90,416.80 L337.90,417.30 L337.90,417.80 L337.90,418.30 L337.90,418.80 L337.90,419.30 L337.90,419.80 L337.90,420.30 L337.90,420.80 L337.90,421.30 L337.90,421.80 L337.90,422.30 L337.90,422.80 L337.90,423.30 L337.90,423.80 L337.90,424.30 L337.90,424.80 L337.90,425.30 L337.90,425.80 L337.90,426.30 L337.90,426.80 L337.90,427.30 L337.90,427.80 L337.90,428.30 L337.90,428.80 L337.90,429.30 L337.90,429.80 L337.90,430.30 L337.90,430.80 L337.90,431.30 L337.90,431.80 L337.90,432.30 L337.90,432.80 L337.90,433.30 L337.90,433.80 L337.91,434.30 L337.91,434.80 L337.91,435.30 L337.91,435.80 L337.91,436.30 L337.91,436.80 L337.91,437.30 L337.91,437.80 L337.91,438.30 L337.92,438.80 L337.92,439.30 L337.92,439.80 L337.92,440.30 L337.93,440.80 L337.93,441.30 L337.93,441.80 L337.94,442.30 L337.94,442.80 L337.95,443.30 L337.95,443.80 L337.96,444.30 L337.97,444.80 L337.97,445.30 L337.98,445.80 L337.99,446.30 L338.00,446.80 L338.01,447.30 L338.02,447.80 L338.04,448.30 L338.05,448.80 L338.07,449.30 L338.08,449.80 L338.10,450.30 L338.13,450.80 L338.15,451.30 L338.17,451.80 L338.20,452.30 L338.23,452.80 L338.26,453.30 L338.30,453.80 L338.33,454.30 L338.38,454.80 L338.42,455.30 L338.47,455.80 L338.52,456.30 L338.58,456.80 L338.64,457.30 L338.70,457.80 L338.77,458.30 L338.85,458.80 L338.93,459.30 L339.01,459.80 L339.11,460.30 L339.21,460.80 L339.31,461.30 L339.43,461.80 L339.55,462.30 L339.68,462.80 L339.82,463.30 L339.96,463.80 L340.12,464.30 L340.28,464.80 L340.46,465.30 L340.65,465.80 L340.84,466.30 L341.05,466.80 L341.27,467.30 L341.50,467.80 L341.74,468.30 L342.00,468.80 L342.27,469.30 L342.55,469.80 L342.85,470.30 L343.16,470.80 L343.49,471.30 L343.82,471.80 L344.18,472.30 L344.55,472.80 L344.93,473.30 L345.33,473.80 L345.75,474.30 L346.18,474.80 L346.63,475.30 L347.09,475.80 L347.57,476.30 L348.07,476.80 L348.58,477.30 L349.10,477.80 L349.64,478.30 L350.20,478.80 L350.77,479.30 L351.35,479.80 L351.95,480.30 L352.56,480.80 L353.18,481.30 L353.81,481.80 L354.46,482.30 L355.12,482.80 L355.78,483.30 L356.46,483.80 L357.14,484.30 L357.83,484.80 L358.52,485.30 L359.22,485.80 L359.92,486.30 L360.63,486.80 L361.33,487.30 L362.04,487.80 L362.74,488.30 L363.44,488.80 L364.14,489.30 L364.83,489.80 L365.51,490.30 L366.19,490.80 L366.85,491.30 L367.51,491.80 L368.15,492.30 L368.77,492.80 L369.38,493.30 L369.97,493.80 L370.55,494.30 L371.10,494.80 L371.63,495.30 L372.14,495.80 L372.63,496.30 L373.08,496.80 L373.52,497.30 L373.92,497.80 L374.30,498.30 L374.64,498.80 L374.96,499.30 L375.24,499.80 L375.49,500.30 L375.71,500.80 L375.90,501.30 L376.05,501.80 L376.16,502.30 L376.24,502.80 L376.29,503.30 L376.30,503.70 L299.50,503.70 L299.51,503.30 L299.56,502.80 L299.64,502.30 L299.75,501.80 L299.90,501.30 L300.09,500.80 L300.31,500.30 L300.56,499.80 L300.84,499.30 L301.16,498.80 L301.50,498.30 L301.88,497.80 L302.28,497.30 L302.72,496.80 L303.17,496.30 L303.66,495.80 L304.17,495.30 L304.70,494.80 L305.25,494.30 L305.83,493.80 L306.42,493.30 L307.03,492.80 L307.65,492.30 L308.29,491.80 L308.95,491.30 L309.61,490.80 L310.29,490.30 L310.97,489.80 L311.66,489.30 L312.36,488.80 L313.06,488.30 L313.76,487.80 L314.47,487.30 L315.17,486.80 L315.88,486.30 L316.58,485.80 L317.28,485.30 L317.97,484.80 L318.66,484.30 L319.34,483.80 L320.02,483.30 L320.68,482.80 L321.34,482.30 L321.99,481.80 L322.62,481.30 L323.24,480.80 L323.85,480.30 L324.45,479.80 L325.03,479.30 L325.60,478.80 L326.16,478.30 L326.70,477.80 L327.22,477.30 L327.73,476.80 L328.23,476.30 L328.71,475.80 L329.17,475.30 L329.62,474.80 L330.05,474.30 L330.47,473.80 L330.87,473.30 L331.25,472.80 L331.62,472.30 L331.98,471.80 L332.31,471.30 L332.64,470.80 L332.95,470.30 L333.25,469.80 L333.53,469.30 L333.80,468.80 L334.06,468.30 L334.30,467.80 L334.53,467.30 L334.75,466.80 L334.96,466.30 L335.15,465.80 L335.34,465.30 L335.52,464.80 L335.68,464.30 L335.84,463.80 L335.98,463.30 L336.12,462.80 L336.25,462.30 L336.37,461.80 L336.49,461.30 L336.59,460.80 L336.69,460.30 L336.79,459.80 L336.87,459.30 L336.95,458.80 L337.03,458.30 L337.10,457.80 L337.16,457.30 L337.22,456.80 L337.28,456.30 L337.33,455.80 L337.38,455.30 L337.42,454.80 L337.47,454.30 L337.50,453.80 L337.54,453.30 L337.57,452.80 L337.60,452.30 L337.63,451.80 L337.65,451.30 L337.67,450.80 L337.70,450.30 L337.72,449.80 L337.73,449.30 L337.75,448.80 L337.76,448.30 L337.78,447.80 L337.79,447.30 L337.80,446.80 L337.81,446.30 L337.82,445.80 L337.83,445.30 L337.83,444.80 L337.84,444.30 L337.85,443.80 L337.85,443.30 L337.86,442.80 L337.86,442.30 L337.87,441.80 L337.87,441.30 L337.87,440.80 L337.88,440.30 L337.88,439.80 L337.88,439.30 L337.88,438.80 L337.89,438.30 L337.89,437.80 L337.89,437.30 L337.89,436.80 L337.89,436.30 L337.89,435.80 L337.89,435.30 L337.89,434.80 L337.89,434.30 L337.90,433.80 L337.90,433.30 L337.90,432.80 L337.90,432.30 L337.90,431.80 L337.90,431.30 L337.90,430.80 L337.90,430.30 L337.90,429.80 L337.90,429.30 L337.90,428.80 L337.90,428.30 L337.90,427.80 L337.90,427.30 L337.90,426.80 L337.90,426.30 L337.90,425.80 L337.90,425.30 L337.90,424.80 L337.90,424.30 L337.90,423.80 L337.90,423.30 L337.90,422.80 L337.90,422.30 L337.90,421.80 L337.90,421.30 L337.90,420.80 L337.90,420.30 L337.90,419.80 L337.90,419.30 L337.90,418.80 L337.90,418.30 L337.90,417.80 L337.90,417.30 L337.90,416.80 L337.90,416.30 L337.90,415.80 L337.90,415.30 L337.90,414.80 L337.90,414.30 L337.90,413.80 L337.90,413.30 L337.90,412.80 L337.90,412.30 L337.90,411.80 L337.90,411.30 L337.90,410.80 L337.90,410.30 L337.90,409.80 L337.90,409.30 L337.90,408.80 L337.90,408.30 L337.90,407.80 L337.90,407.30 L337.90,406.80 L337.90,406.30 L337.90,405.80 L337.90,405.30 L337.90,404.80 L337.90,404.30 L337.90,403.80 L337.90,403.30 L337.90,402.80 L337.90,402.30 L337.90,401.80 L337.90,401.30 L337.90,400.80 L337.90,400.30 L337.90,399.80 L337.90,399.30 L337.90,398.80 L337.90,398.30 L337.90,397.80 L337.90,397.30 L337.90,396.80 L337.90,396.30 L337.90,395.80 L337.90,395.30 L337.90,394.80 L337.90,394.30 L337.90,393.80 L337.90,393.30 L337.90,392.80 L337.90,392.30 L337.90,391.80 L337.90,391.30 L337.90,390.80 L337.90,390.30 L337.90,389.80 L337.90,389.30 L337.90,388.80 L337.90,388.30 L337.90,387.80 L337.90,387.30 L337.90,386.80 L337.90,386.30 L337.90,385.80 L337.90,385.30 L337.90,384.80 L337.90,384.30 L337.90,383.80 L337.90,383.30 L337.90,382.80 L337.90,382.30 L337.90,381.80 L337.90,381.30 L337.90,380.80 L337.90,380.30 L337.90,379.80 L337.90,379.30 L337.90,378.80 L337.90,378.30 L337.90,377.80 L337.90,377.30 L337.90,376.80 L337.90,376.30 L337.90,375.80 L337.90,375.30 L337.90,374.80 L337.90,374.30 L337.90,373.80 L337.90,373.30 L337.90,372.80 L337.90,372.30 L337.90,371.80 L337.90,371.30 L337.90,370.80 L337.90,370.30 L337.90,369.80 L337.90,369.30 L337.90,368.80 L337.90,368.30 L337.90,367.80 L337.90,367.30 L337.90,366.80 L337.90,366.30 L337.90,365.80 L337.90,365.30 L337.90,364.80 L337.90,364.30 L337.90,363.80 L337.90,363.30 L337.90,362.80 L337.90,362.30 L337.90,361.80 L337.90,361.30 L337.90,360.80 L337.90,360.30 L337.90,359.80 L337.90,359.30 L337.90,358.80 L337.90,358.30 L337.90,357.80 L337.90,357.30 L337.90,356.80 L337.90,356.30 L337.90,355.80 L337.90,355.30 L337.90,354.80 L337.90,354.30 L337.90,353.80 L337.90,353.30 L337.90,352.80 L337.90,352.30 L337.90,351.80 L337.90,351.30 L337.90,350.80 L337.90,350.30 L337.90,349.80 L337.90,349.30 L337.90,348.80 L337.90,348.30 L337.90,347.80 L337.90,347.30 L337.90,346.80 L337.90,346.30 L337.90,345.80 L337.90,345.30 L337.90,344.80 L337.90,344.30 L337.90,343.80 L337.90,343.30 L337.90,342.80 L337.90,342.30 L337.90,341.80 L337.90,341.30 L337.90,340.80 L337.90,340.30 L337.90,339.80 L337.90,339.30 L337.90,338.80 L337.90,338.30 L337.90,337.80 L337.90,337.30 L337.90,336.80 L337.90,336.30 L337.90,335.80 L337.90,335.30 L337.90,334.80 L337.90,334.30 L337.90,333.80 L337.90,333.30 L337.90,332.80 L337.90,332.30 L337.90,331.80 L337.90,331.30 L337.90,330.80 L337.90,330.30 L337.90,329.80 L337.90,329.30 L337.90,328.80 L337.90,328.30 L337.90,327.80 L337.90,327.30 L337.90,326.80 L337.90,326.30 L337.90,325.80 L337.90,325.30 L337.90,324.80 L337.90,324.30 L337.90,323.80 L337.90,323.30 L337.90,322.80 L337.90,322.30 L337.90,321.80 L337.90,321.30 L337.90,320.80 L337.90,320.30 L337.90,319.80 L337.90,319.30 L337.90,318.80 L337.90,318.30 L337.90,317.80 L337.90,317.30 L337.90,316.80 L337.90,316.30 L337.90,315.80 L337.90,315.30 L337.90,314.80 L337.90,314.30 L337.90,313.80 L337.90,313.30 L337.90,312.80 L337.90,312.30 L337.90,311.80 L337.90,311.30 L337.90,310.80 L337.90,310.30 L337.90,309.80 L337.90,309.30 L337.90,308.80 L337.90,308.30 L337.90,307.80 L337.90,307.30 L337.90,306.80 L337.90,306.30 L337.90,305.80 L337.90,305.30 L337.90,304.80 L337.90,304.30 L337.90,303.80 L337.90,303.30 L337.90,302.80 L337.90,302.30 L337.90,301.80 L337.90,301.30 L337.90,300.80 L337.90,300.30 L337.90,299.80 L337.90,299.30 L337.90,298.80 L337.90,298.30 L337.90,297.80 L337.90,297.30 L337.90,296.80 L337.90,296.30 L337.90,295.80 L337.90,295.30 L337.90,294.80 L337.90,294.30 L337.90,293.80 L337.90,293.30 L337.90,292.80 L337.90,292.30 L337.90,291.80 L337.90,291.30 L337.90,290.80 L337.90,290.30 L337.90,289.80 L337.90,289.30 L337.90,288.80 L337.90,288.30 L337.90,287.80 L337.90,287.30 L337.90,286.80 L337.90,286.30 L337.90,285.80 L337.90,285.30 L337.90,284.80 L337.90,284.30 L337.90,283.80 L337.90,283.30 L337.90,282.80 L337.90,282.30 L337.90,281.80 L337.90,281.30 L337.90,280.80 L337.90,280.30 L337.90,279.80 L337.90,279.30 L337.89,278.80 L337.88,278.30 L337.86,277.80 L337.84,277.30 L337.81,276.80 L337.76,276.30 L337.72,275.80 L337.67,275.30 L337.62,274.80 L337.57,274.30 L337.54,273.80 L337.50,273.30 L337.47,272.80 L337.43,272.30 L337.40,271.80 L337.37,271.30 L337.34,270.80 L337.31,270.30 L337.28,269.80 L337.24,269.30 L337.21,268.80 L337.17,268.30 L337.14,267.80 L337.10,267.30 L337.06,266.80 L337.02,266.30 L336.98,265.80 L336.94,265.30 L336.90,264.80 L336.85,264.30 L336.81,263.80 L336.77,263.30 L336.72,262.80 L336.68,262.30 L336.64,261.80 L336.59,261.30 L336.55,260.80 L336.51,260.30 L336.46,259.80 L336.42,259.30 L336.38,258.80 L336.33,258.30 L336.29,257.80 L336.24,257.30 L336.19,256.80 L336.14,256.30 L336.09,255.80 L336.03,255.30 L335.97,254.80 L335.91,254.30 L335.85,253.80 L335.78,253.30 L335.71,252.80 L335.63,252.30 L335.56,251.80 L335.48,251.30 L335.40,250.80 L335.32,250.30 L335.23,249.80 L335.15,249.30 L335.06,248.80 L334.97,248.30 L334.88,247.80 L334.79,247.30 L334.70,246.80 L334.60,246.30 L334.51,245.80 L334.42,245.30 L334.32,244.80 L334.23,244.30 L334.13,243.80 L334.03,243.30 L333.93,242.80 L333.82,242.30 L333.72,241.80 L333.61,241.30 L333.49,240.80 L333.37,240.30 L333.25,239.80 L333.13,239.30 L333.00,238.80 L332.86,238.30 L332.72,237.80 L332.58,237.30 L332.43,236.80 L332.29,236.30 L332.14,235.80 L331.99,235.30 L331.84,234.80 L331.69,234.30 L331.54,233.80 L331.40,233.30 L331.26,232.80 L331.13,232.30 L331.00,231.80 L330.87,231.30 L330.75,230.80 L330.63,230.30 L330.51,229.80 L330.39,229.30 L330.26,228.80 L330.13,228.30 L330.00,227.80 L329.86,227.30 L329.72,226.80 L329.57,226.30 L329.42,225.80 L329.27,225.30 L329.11,224.80 L328.96,224.30 L328.80,223.80 L328.63,223.30 L328.47,222.80 L328.30,222.30 L328.14,221.80 L327.97,221.30 L327.80,220.80 L327.63,220.30 L327.45,219.80 L327.28,219.30 L327.10,218.80 L326.93,218.30 L326.75,217.80 L326.57,217.30 L326.39,216.80 L326.20,216.30 L326.01,215.80 L325.82,215.30 L325.63,214.80 L325.43,214.30 L325.22,213.80 L325.02,213.30 L324.80,212.80 L324.58,212.30 L324.36,211.80 L324.13,211.30 L323.90,210.80 L323.67,210.30 L323.43,209.80 L323.19,209.30 L322.95,208.80 L322.72,208.30 L322.48,207.80 L322.25,207.30 L322.02,206.80 L321.80,206.30 L321.58,205.80 L321.37,205.30 L321.16,204.80 L320.95,204.30 L320.75,203.80 L320.55,203.30 L320.36,202.80 L320.16,202.30 L319.97,201.80 L319.77,201.30 L319.57,200.80 L319.38,200.30 L319.17,199.80 L318.97,199.30 L318.76,198.80 L318.55,198.30 L318.33,197.80 L318.10,197.30 L317.88,196.80 L317.65,196.30 L317.42,195.80 L317.19,195.30 L316.96,194.80 L316.73,194.30 L316.51,193.80 L316.29,193.30 L316.08,192.80 L315.88,192.30 L315.69,191.80 L315.50,191.30 L315.33,190.80 L315.16,190.30 L315.00,189.80 L314.84,189.30 L314.70,188.80 L314.56,188.30 L314.42,187.80 L314.29,187.30 L314.17,186.80 L314.06,186.30 L313.95,185.80 L313.85,185.30 L313.75,184.80 L313.66,184.30 L313.58,183.80 L313.51,183.30 L313.44,182.80 L313.38,182.30 L313.32,181.80 L313.28,181.30 L313.23,180.80 L313.20,180.30 L313.17,179.80 L313.15,179.30 L313.13,178.80 L313.12,178.30 L313.12,177.80 L313.12,177.30 L313.13,176.80 L313.14,176.30 L313.16,175.80 L313.19,175.30 L313.23,174.80 L313.27,174.30 L313.31,173.80 L313.36,173.30 L313.42,172.80 L313.48,172.30 L313.55,171.80 L313.62,171.30 L313.70,170.80 L313.78,170.30 L313.87,169.80 L313.96,169.30 L314.05,168.80 L314.16,168.30 L314.26,167.80 L314.37,167.30 L314.49,166.80 L314.61,166.30 L314.73,165.80 L314.86,165.30 L315.00,164.80 L315.14,164.30 L315.28,163.80 L315.44,163.30 L315.60,162.80 L315.77,162.30 L315.95,161.80 L316.15,161.30 L316.35,160.80 L316.55,160.30 L316.76,159.80 L316.96,159.30 L317.16,158.80 L317.35,158.30 L317.54,157.80 L317.73,157.30 L317.91,156.80 L318.09,156.30 L318.27,155.80 L318.45,155.30 L318.63,154.80 L318.82,154.30 L319.00,153.80 L319.19,153.30 L319.38,152.80 L319.57,152.30 L319.76,151.80 L319.96,151.30 L320.15,150.80 L320.35,150.30 L320.56,149.80 L320.76,149.30 L320.96,148.80 L321.16,148.30 L321.37,147.80 L321.57,147.30 L321.77,146.80 L321.98,146.30 L322.18,145.80 L322.38,145.30 L322.58,144.80 L322.78,144.30 L322.98,143.80 L323.18,143.30 L323.39,142.80 L323.59,142.30 L323.79,141.80 L323.99,141.30 L324.18,140.80 L324.38,140.30 L324.58,139.80 L324.77,139.30 L324.96,138.80 L325.15,138.30 L325.34,137.80 L325.53,137.30 L325.71,136.80 L325.89,136.30 L326.08,135.80 L326.25,135.30 L326.43,134.80 L326.61,134.30 L326.79,133.80 L326.97,133.30 L327.14,132.80 L327.32,132.30 L327.50,131.80 L327.67,131.30 L327.85,130.80 L328.03,130.30 L328.21,129.80 L328.38,129.30 L328.55,128.80 L328.72,128.30 L328.89,127.80 L329.05,127.30 L329.21,126.80 L329.37,126.30 L329.52,125.80 L329.68,125.30 L329.83,124.80 L329.98,124.30 L330.13,123.80 L330.28,123.30 L330.43,122.80 L330.58,122.30 L330.73,121.80 L330.87,121.30 L331.02,120.80 L331.16,120.30 L331.30,119.80 L331.44,119.30 L331.58,118.80 L331.72,118.30 L331.86,117.80 L332.00,117.30 L332.14,116.80 L332.27,116.30 L332.40,115.80 L332.54,115.30 L332.67,114.80 L332.80,114.30 L332.93,113.80 L333.06,113.30 L333.18,112.80 L333.30,112.30 L333.43,111.80 L333.54,111.30 L333.66,110.80 L333.77,110.30 L333.88,109.80 L333.98,109.30 L334.09,108.80 L334.19,108.30 L334.28,107.80 L334.38,107.30 L334.47,106.80 L334.55,106.30 L334.64,105.80 L334.72,105.30 L334.80,104.80 L334.88,104.30 L334.96,103.80 L335.04,103.30 L335.11,102.80 L335.19,102.30 L335.26,101.80 L335.34,101.30 L335.41,100.80 L335.48,100.30 L335.55,99.80 L335.61,99.30 L335.68,98.80 L335.74,98.30 L335.81,97.80 L335.87,97.30 L335.93,96.80 L335.98,96.30 L336.04,95.80 L336.10,95.30 L336.17,94.80 L336.23,94.30 L336.30,93.80 L336.37,93.30 L336.44,92.80 L336.53,92.30 L336.62,91.80 L336.72,91.30 L336.83,90.80 L336.96,90.30 L337.09,89.80 L337.22,89.30 L337.36,88.80 L337.49,88.30 L337.60,87.80 L337.70,87.30 Z" fill="#fff" stroke="#F8766D" stroke-width="2.0" stroke-linejoin="round"/>
<line x1="317.05" x2="358.75" y1="195.00" y2="195.00" stroke="#F8766D" stroke-width="2.0"/>
<path d="M422.53,74.10 L422.59,74.60 L422.66,75.10 L422.75,75.60 L422.84,76.10 L422.93,76.60 L423.03,77.10 L423.12,77.60 L423.21,78.10 L423.29,78.60 L423.36,79.10 L423.43,79.60 L423.49,80.10 L423.55,80.60 L423.60,81.10 L423.65,81.60 L423.69,82.10 L423.73,82.60 L423.77,83.10 L423.81,83.60 L423.85,84.10 L423.89,84.60 L423.93,85.10 L423.97,85.60 L424.01,86.10 L424.06,86.60 L424.10,87.10 L424.15,87.60 L424.20,88.10 L424.25,88.60 L424.30,89.10 L424.36,89.60 L424.41,90.10 L424.47,90.60 L424.52,91.10 L424.58,91.60 L424.64,92.10 L424.70,92.60 L424.77,93.10 L424.83,93.60 L424.90,94.10 L424.97,94.60 L425.05,95.10 L425.13,95.60 L425.21,96.10 L425.29,96.60 L425.38,97.10 L425.47,97.60 L425.57,98.10 L425.67,98.60 L425.77,99.10 L425.88,99.60 L425.99,100.10 L426.10,100.60 L426.22,101.10 L426.34,101.60 L426.46,102.10 L426.59,102.60 L426.71,103.10 L426.84,103.60 L426.97,104.10 L427.11,104.60 L427.24,105.10 L427.38,105.60 L427.52,106.10 L427.67,106.60 L427.81,107.10 L427.96,107.60 L428.10,108.10 L428.26,108.60 L428.41,109.10 L428.56,109.60 L428.72,110.10 L428.88,110.60 L429.05,111.10 L429.21,111.60 L429.38,112.10 L429.56,112.60 L429.73,113.10 L429.92,113.60 L430.10,114.10 L430.29,114.60 L430.48,115.10 L430.68,115.60 L430.88,116.10 L431.09,116.60 L431.30,117.10 L431.52,117.60 L431.74,118.10 L431.96,118.60 L432.19,119.10 L432.42,119.60 L432.65,120.10 L432.88,120.60 L433.11,121.10 L433.34,121.60 L433.58,122.10 L433.81,122.60 L434.04,123.10 L434.27,123.60 L434.49,124.10 L434.72,124.60 L434.94,125.10 L435.17,125.60 L435.39,126.10 L435.61,126.60 L435.83,127.10 L436.05,127.60 L436.28,128.10 L436.50,128.60 L436.72,129.10 L436.95,129.60 L437.17,130.10 L437.40,130.60 L437.63,131.10 L437.86,131.60 L438.09,132.10 L438.33,132.60 L438.57,133.10 L438.81,133.60 L439.06,134.10 L439.31,134.60 L439.56,135.10 L439.81,135.60 L440.07,136.10 L440.33,136.60 L440.59,137.10 L440.85,137.60 L441.11,138.10 L441.37,138.60 L441.62,139.10 L441.88,139.60 L442.13,140.10 L442.37,140.60 L442.62,141.10 L442.86,141.60 L443.09,142.10 L443.32,142.60 L443.55,143.10 L443.77,143.60 L443.99,144.10 L444.20,144.60 L444.42,145.10 L444.63,145.60 L444.83,146.10 L445.04,146.60 L445.24,147.10 L445.44,147.60 L445.63,148.10 L445.81,148.60 L446.00,149.10 L446.18,149.60 L446.35,150.10 L446.52,150.60 L446.68,151.10 L446.84,151.60 L446.99,152.10 L447.13,152.60 L447.27,153.10 L447.40,153.60 L447.53,154.10 L447.66,154.60 L447.78,155.10 L447.89,155.60 L448.01,156.10 L448.12,156.60 L448.22,157.10 L448.33,157.60 L448.43,158.10 L448.53,158.60 L448.62,159.10 L448.72,159.60 L448.81,160.10 L448.90,160.60 L448.98,161.10 L449.05,161.60 L449.12,162.10 L449.18,162.60 L449.24,163.10 L449.28,163.60 L449.32,164.10 L449.34,164.60 L449.36,165.10 L449.37,165.60 L449.37,166.10 L449.36,166.60 L449.34,167.10 L449.31,167.60 L449.27,168.10 L449.22,168.60 L449.16,169.10 L449.09,169.60 L449.01,170.10 L448.92,170.60 L448.83,171.10 L448.74,171.60 L448.64,172.10 L448.54,172.60 L448.43,173.10 L448.32,173.60 L448.21,174.10 L448.10,174.60 L447.99,175.10 L447.88,175.60 L447.77,176.10 L447.66,176.60 L447.55,177.10 L447.43,177.60 L447.32,178.10 L447.21,178.60 L447.09,179.10 L446.97,179.60 L446.85,180.10 L446.72,180.60 L446.59,181.10 L446.45,181.60 L446.31,182.10 L446.16,182.60 L446.00,183.10 L445.85,183.60 L445.69,184.10 L445.52,184.60 L445.36,185.10 L445.19,185.60 L445.02,186.10 L444.85,186.60 L444.67,187.10 L444.49,187.60 L444.32,188.10 L444.14,188.60 L443.96,189.10 L443.77,189.60 L443.59,190.10 L443.41,190.60 L443.22,191.10 L443.03,191.60 L442.84,192.10 L442.65,192.60 L442.46,193.10 L442.27,193.60 L442.07,194.10 L441.87,194.60 L441.67,195.10 L441.47,195.60 L441.27,196.10 L441.06,196.60 L440.85,197.10 L440.64,197.60 L440.43,198.10 L440.22,198.60 L440.00,199.10 L439.78,199.60 L439.56,200.10 L439.33,200.60 L439.11,201.10 L438.88,201.60 L438.65,202.10 L438.43,202.60 L438.20,203.10 L437.97,203.60 L437.74,204.10 L437.51,204.60 L437.29,205.10 L437.06,205.60 L436.84,206.10 L436.61,206.60 L436.39,207.10 L436.17,207.60 L435.95,208.10 L435.73,208.60 L435.51,209.10 L435.29,209.60 L435.06,210.10 L434.84,210.60 L434.62,211.10 L434.39,211.60 L434.16,212.10 L433.93,212.60 L433.70,213.10 L433.47,213.60 L433.23,214.10 L432.99,214.60 L432.75,215.10 L432.51,215.60 L432.27,216.10 L432.04,216.60 L431.80,217.10 L431.57,217.60 L431.33,218.10 L431.10,218.60 L430.87,219.10 L430.64,219.60 L430.41,220.10 L430.18,220.60 L429.95,221.10 L429.73,221.60 L429.51,222.10 L429.30,222.60 L429.09,223.10 L428.88,223.60 L428.68,224.10 L428.49,224.60 L428.30,225.10 L428.12,225.60 L427.94,226.10 L427.77,226.60 L427.60,227.10 L427.43,227.60 L427.28,228.10 L427.12,228.60 L426.97,229.10 L426.82,229.60 L426.68,230.10 L426.54,230.60 L426.40,231.10 L426.27,231.60 L426.14,232.10 L426.02,232.60 L425.90,233.10 L425.78,233.60 L425.67,234.10 L425.56,234.60 L425.45,235.10 L425.35,235.60 L425.25,236.10 L425.16,236.60 L425.06,237.10 L424.97,237.60 L424.88,238.10 L424.79,238.60 L424.71,239.10 L424.63,239.60 L424.55,240.10 L424.47,240.60 L424.39,241.10 L424.32,241.60 L424.24,242.10 L424.17,242.60 L424.11,243.10 L424.04,243.60 L423.98,244.10 L423.92,244.60 L423.86,245.10 L423.80,245.60 L423.74,246.10 L423.69,246.60 L423.64,247.10 L423.59,247.60 L423.54,248.10 L423.49,248.60 L423.45,249.10 L423.40,249.60 L423.36,250.10 L423.32,250.60 L423.28,251.10 L423.25,251.60 L423.21,252.10 L423.17,252.60 L423.14,253.10 L423.10,253.60 L423.07,254.10 L423.04,254.60 L423.00,255.10 L422.97,255.60 L422.94,256.10 L422.91,256.60 L422.88,257.10 L422.85,257.60 L422.81,258.10 L422.78,258.60 L422.74,259.10 L422.69,259.60 L422.64,260.10 L422.59,260.60 L422.54,261.10 L422.50,261.60 L422.46,262.10 L422.44,262.60 L422.42,263.10 L422.41,263.60 L422.40,264.10 L422.40,264.60 L422.40,265.10 L422.40,265.60 L422.40,266.10 L422.40,266.60 L422.40,267.10 L422.40,267.60 L422.40,268.10 L422.40,268.60 L422.40,269.10 L422.40,269.60 L422.40,270.10 L422.40,270.60 L422.40,271.10 L422.40,271.60 L422.40,272.10 L422.40,272.60 L422.40,273.10 L422.40,273.60 L422.40,274.10 L422.40,274.60 L422.40,275.10 L422.40,275.60 L422.40,276.10 L422.40,276.60 L422.40,277.10 L422.40,277.60 L422.40,278.10 L422.40,278.60 L422.40,279.10 L422.40,279.60 L422.40,280.10 L422.40,280.60 L422.40,281.10 L422.40,281.60 L422.40,282.10 L422.40,282.60 L422.40,283.10 L422.40,283.60 L422.40,284.10 L422.40,284.60 L422.40,285.10 L422.40,285.60 L422.40,286.10 L422.40,286.60 L422.40,287.10 L422.40,287.60 L422.40,288.10 L422.40,288.60 L422.40,289.10 L422.40,289.60 L422.40,290.10 L422.40,290.60 L422.40,291.10 L422.40,291.60 L422.40,292.10 L422.40,292.60 L422.40,293.10 L422.40,293.60 L422.40,294.10 L422.40,294.60 L422.40,295.10 L422.40,295.60 L422.40,296.10 L422.40,296.60 L422.40,297.10 L422.40,297.60 L422.40,298.10 L422.40,298.60 L422.40,299.10 L422.40,299.60 L422.40,300.10 L422.40,300.60 L422.40,301.10 L422.40,301.60 L422.40,302.10 L422.40,302.60 L422.40,303.10 L422.40,303.60 L422.40,304.10 L422.40,304.60 L422.40,305.10 L422.40,305.60 L422.40,306.10 L422.40,306.60 L422.40,307.10 L422.40,307.60 L422.40,308.10 L422.40,308.60 L422.40,309.10 L422.40,309.60 L422.40,310.10 L422.40,310.60 L422.40,311.10 L422.40,311.60 L422.40,312.10 L422.40,312.60 L422.40,313.10 L422.40,313.60 L422.40,314.10 L422.40,314.60 L422.40,315.10 L422.40,315.60 L422.40,316.10 L422.40,316.60 L422.40,317.10 L422.40,317.60 L422.40,318.10 L422.40,318.60 L422.40,319.10 L422.40,319.60 L422.40,320.10 L422.40,320.60 L422.40,321.10 L422.40,321.60 L422.40,322.10 L422.40,322.60 L422.40,323.10 L422.40,323.60 L422.40,324.10 L422.40,324.60 L422.40,325.10 L422.40,325.60 L422.40,326.10 L422.40,326.60 L422.40,327.10 L422.40,327.60 L422.40,328.10 L422.40,328.60 L422.40,329.10 L422.40,329.60 L422.40,330.10 L422.40,330.60 L422.40,331.10 L422.40,331.60 L422.40,332.10 L422.40,332.60 L422.40,333.10 L422.40,333.60 L422.40,334.10 L422.40,334.60 L422.40,335.10 L422.40,335.60 L422.40,336.10 L422.40,336.60 L422.40,337.10 L422.40,337.60 L422.40,338.10 L422.40,338.60 L422.40,339.10 L422.40,339.60 L422.40,340.10 L422.40,340.60 L422.40,341.10 L422.40,341.60 L422.40,342.10 L422.40,342.60 L422.40,343.10 L422.40,343.60 L422.40,344.10 L422.40,344.60 L422.40,345.10 L422.40,345.60 L422.40,346.10 L422.40,346.60 L422.40,347.10 L422.40,347.60 L422.40,348.10 L422.40,348.60 L422.40,349.10 L422.40,349.60 L422.40,350.10 L422.40,350.60 L422.40,351.10 L422.40,351.60 L422.40,352.10 L422.40,352.60 L422.40,353.10 L422.40,353.60 L422.40,354.10 L422.40,354.60 L422.40,355.10 L422.40,355.60 L422.40,356.10 L422.40,356.60 L422.40,357.10 L422.40,357.60 L422.40,358.10 L422.40,358.60 L422.40,359.10 L422.40,359.60 L422.40,360.10 L422.40,360.60 L422.40,361.10 L422.40,361.60 L422.40,362.10 L422.40,362.60 L422.40,363.10 L422.40,363.60 L422.40,364.10 L422.40,364.60 L422.40,365.10 L422.40,365.60 L422.40,366.10 L422.40,366.60 L422.40,367.10 L422.40,367.60 L422.40,368.10 L422.40,368.60 L422.40,369.10 L422.40,369.60 L422.40,370.10 L422.40,370.60 L422.40,371.10 L422.40,371.60 L422.40,372.10 L422.40,372.60 L422.40,373.10 L422.40,373.60 L422.40,374.10 L422.40,374.60 L422.40,375.10 L422.40,375.60 L422.40,376.10 L422.40,376.60 L422.40,377.10 L422.40,377.60 L422.40,378.10 L422.40,378.60 L422.40,379.10 L422.40,379.60 L422.40,380.10 L422.40,380.60 L422.40,381.10 L422.40,381.60 L422.40,382.10 L422.40,382.60 L422.40,383.10 L422.40,383.60 L422.40,384.10 L422.40,384.60 L422.40,385.10 L422.40,385.60 L422.40,386.10 L422.40,386.60 L422.40,387.10 L422.40,387.60 L422.40,388.10 L422.40,388.60 L422.40,389.10 L422.40,389.60 L422.40,390.10 L422.40,390.60 L422.40,391.10 L422.40,391.60 L422.40,392.10 L422.40,392.60 L422.40,393.10 L422.40,393.60 L422.40,394.10 L422.40,394.60 L422.40,395.10 L422.40,395.60 L422.40,396.10 L422.40,396.60 L422.40,397.10 L422.40,397.60 L422.40,398.10 L422.40,398.60 L422.40,399.10 L422.40,399.60 L422.40,400.10 L422.40,400.60 L422.40,401.10 L422.40,401.60 L422.40,402.10 L422.40,402.60 L422.40,403.10 L422.40,403.60 L422.40,404.10 L422.40,404.60 L422.40,405.10 L422.40,405.60 L422.40,406.10 L422.40,406.60 L422.40,407.10 L422.40,407.60 L422.40,408.10 L422.40,408.60 L422.40,409.10 L422.40,409.60 L422.40,410.10 L422.40,410.60 L422.40,411.10 L422.40,411.60 L422.40,412.10 L422.40,412.60 L422.40,413.10 L422.40,413.60 L422.40,414.10 L422.40,414.60 L422.40,415.10 L422.40,415.60 L422.40,416.10 L422.40,416.60 L422.40,417.10 L422.40,417.60 L422.40,418.10 L422.40,418.60 L422.40,419.10 L422.40,419.60 L422.40,420.10 L422.40,420.60 L422.40,421.10 L422.40,421.60 L422.40,422.10 L422.40,422.60 L422.40,423.10 L422.40,423.60 L422.40,424.10 L422.40,424.60 L422.40,425.10 L422.40,425.60 L422.40,426.10 L422.40,426.60 L422.40,427.10 L422.40,427.60 L422.40,428.10 L422.40,428.60 L422.40,429.10 L422.40,429.60 L422.40,430.10 L422.40,430.60 L422.40,431.10 L422.40,431.60 L422.40,432.10 L422.40,432.60 L422.40,433.10 L422.40,433.60 L422.40,434.10 L422.40,434.60 L422.40,435.10 L422.40,435.60 L422.40,436.10 L422.40,436.60 L422.40,437.10 L422.40,437.60 L422.40,438.10 L422.40,438.60 L422.41,439.10 L422.41,439.60 L422.41,440.10 L422.41,440.60 L422.41,441.10 L422.41,441.60 L422.41,442.10 L422.41,442.60 L422.42,443.10 L422.42,443.60 L422.42,444.10 L422.42,444.60 L422.43,445.10 L422.43,445.60 L422.43,446.10 L422.44,446.60 L422.44,447.10 L422.45,447.60 L422.45,448.10 L422.46,448.60 L422.47,449.10 L422.48,449.60 L422.49,450.10 L422.50,450.60 L422.51,451.10 L422.52,451.60 L422.53,452.10 L422.55,452.60 L422.57,453.10 L422.58,453.60 L422.60,454.10 L422.63,454.60 L422.65,455.10 L422.68,455.60 L422.71,456.10 L422.74,456.60 L422.77,457.10 L422.81,457.60 L422.86,458.10 L422.90,458.60 L422.95,459.10 L423.00,459.60 L423.06,460.10 L423.13,460.60 L423.20,461.10 L423.27,461.60 L423.35,462.10 L423.44,462.60 L423.53,463.10 L423.63,463.60 L423.74,464.10 L423.85,464.60 L423.98,465.10 L424.11,465.60 L424.25,466.10 L424.40,466.60 L424.57,467.10 L424.74,467.60 L424.92,468.10 L425.12,468.60 L425.33,469.10 L425.54,469.60 L425.78,470.10 L426.02,470.60 L426.28,471.10 L426.56,471.60 L426.85,472.10 L427.15,472.60 L427.47,473.10 L427.80,473.60 L428.16,474.10 L428.52,474.60 L428.91,475.10 L429.31,475.60 L429.73,476.10 L430.16,476.60 L430.61,477.10 L431.08,477.60 L431.57,478.10 L432.07,478.60 L432.59,479.10 L433.13,479.60 L433.68,480.10 L434.25,480.60 L434.83,481.10 L435.43,481.60 L436.05,482.10 L436.68,482.60 L437.32,483.10 L437.97,483.60 L438.64,484.10 L439.31,484.60 L440.00,485.10 L440.69,485.60 L441.40,486.10 L442.10,486.60 L442.82,487.10 L443.53,487.60 L444.25,488.10 L444.97,488.60 L445.69,489.10 L446.40,489.60 L447.11,490.10 L447.82,490.60 L448.52,491.10 L449.21,491.60 L449.88,492.10 L450.55,492.60 L451.20,493.10 L451.84,493.60 L452.45,494.10 L453.05,494.60 L453.63,495.10 L454.18,495.60 L454.72,496.10 L455.22,496.60 L455.70,497.10 L456.15,497.60 L456.56,498.10 L456.95,498.60 L457.31,499.10 L457.63,499.60 L457.92,500.10 L458.17,500.60 L458.38,501.10 L458.56,501.60 L458.70,502.10 L458.81,502.60 L458.87,503.10 L458.90,503.60 L458.90,503.70 L385.90,503.70 L385.90,503.60 L385.93,503.10 L385.99,502.60 L386.10,502.10 L386.24,501.60 L386.42,501.10 L386.63,500.60 L386.88,500.10 L387.17,499.60 L387.49,499.10 L387.85,498.60 L388.24,498.10 L388.65,497.60 L389.10,497.10 L389.58,496.60 L390.08,496.10 L390.62,495.60 L391.17,495.10 L391.75,494.60 L392.35,494.10 L392.96,493.60 L393.60,493.10 L394.25,492.60 L394.92,492.10 L395.59,491.60 L396.28,491.10 L396.98,490.60 L397.69,490.10 L398.40,489.60 L399.11,489.10 L399.83,488.60 L400.55,488.10 L401.27,487.60 L401.98,487.10 L402.70,486.60 L403.40,486.10 L404.11,485.60 L404.80,485.10 L405.49,484.60 L406.16,484.10 L406.83,483.60 L407.48,483.10 L408.12,482.60 L408.75,482.10 L409.37,481.60 L409.97,481.10 L410.55,480.60 L411.12,480.10 L411.67,479.60 L412.21,479.10 L412.73,478.60 L413.23,478.10 L413.72,477.60 L414.19,477.10 L414.64,476.60 L415.07,476.10 L415.49,475.60 L415.89,475.10 L416.28,474.60 L416.64,474.10 L417.00,473.60 L417.33,473.10 L417.65,472.60 L417.95,472.10 L418.24,471.60 L418.52,471.10 L418.78,470.60 L419.02,470.10 L419.26,469.60 L419.47,469.10 L419.68,468.60 L419.88,468.10 L420.06,467.60 L420.23,467.10 L420.40,466.60 L420.55,466.10 L420.69,465.60 L420.82,465.10 L420.95,464.60 L421.06,464.10 L421.17,463.60 L421.27,463.10 L421.36,462.60 L421.45,462.10 L421.53,461.60 L421.60,461.10 L421.67,460.60 L421.74,460.10 L421.80,459.60 L421.85,459.10 L421.90,458.60 L421.94,458.10 L421.99,457.60 L422.03,457.10 L422.06,456.60 L422.09,456.10 L422.12,455.60 L422.15,455.10 L422.17,454.60 L422.20,454.10 L422.22,453.60 L422.23,453.10 L422.25,452.60 L422.27,452.10 L422.28,451.60 L422.29,451.10 L422.30,450.60 L422.31,450.10 L422.32,449.60 L422.33,449.10 L422.34,448.60 L422.35,448.10 L422.35,447.60 L422.36,447.10 L422.36,446.60 L422.37,446.10 L422.37,445.60 L422.37,445.10 L422.38,444.60 L422.38,444.10 L422.38,443.60 L422.38,443.10 L422.39,442.60 L422.39,442.10 L422.39,441.60 L422.39,441.10 L422.39,440.60 L422.39,440.10 L422.39,439.60 L422.39,439.10 L422.40,438.60 L422.40,438.10 L422.40,437.60 L422.40,437.10 L422.40,436.60 L422.40,436.10 L422.40,435.60 L422.40,435.10 L422.40,434.60 L422.40,434.10 L422.40,433.60 L422.40,433.10 L422.40,432.60 L422.40,432.10 L422.40,431.60 L422.40,431.10 L422.40,430.60 L422.40,430.10 L422.40,429.60 L422.40,429.10 L422.40,428.60 L422.40,428.10 L422.40,427.60 L422.40,427.10 L422.40,426.60 L422.40,426.10 L422.40,425.60 L422.40,425.10 L422.40,424.60 L422.40,424.10 L422.40,423.60 L422.40,423.10 L422.40,422.60 L422.40,422.10 L422.40,421.60 L422.40,421.10 L422.40,420.60 L422.40,420.10 L422.40,419.60 L422.40,419.10 L422.40,418.60 L422.40,418.10 L422.40,417.60 L422.40,417.10 L422.40,416.60 L422.40,416.10 L422.40,415.60 L422.40,415.10 L422.40,414.60 L422.40,414.10 L422.40,413.60 L422.40,413.10 L422.40,412.60 L422.40,412.10 L422.40,411.60 L422.40,411.10 L422.40,410.60 L422.40,410.10 L422.40,409.60 L422.40,409.10 L422.40,408.60 L422.40,408.10 L422.40,407.60 L422.40,407.10 L422.40,406.60 L422.40,406.10 L422.40,405.60 L422.40,405.10 L422.40,404.60 L422.40,404.10 L422.40,403.60 L422.40,403.10 L422.40,402.60 L422.40,402.10 L422.40,401.60 L422.40,401.10 L422.40,400.60 L422.40,400.10 L422.40,399.60 L422.40,399.10 L422.40,398.60 L422.40,398.10 L422.40,397.60 L422.40,397.10 L422.40,396.60 L422.40,396.10 L422.40,395.60 L422.40,395.10 L422.40,394.60 L422.40,394.10 L422.40,393.60 L422.40,393.10 L422.40,392.60 L422.40,392.10 L422.40,391.60 L422.40,391.10 L422.40,390.60 L422.40,390.10 L422.40,389.60 L422.40,389.10 L422.40,388.60 L422.40,388.10 L422.40,387.60 L422.40,387.10 L422.40,386.60 L422.40,386.10 L422.40,385.60 L422.40,385.10 L422.40,384.60 L422.40,384.10 L422.40,383.60 L422.40,383.10 L422.40,382.60 L422.40,382.10 L422.40,381.60 L422.40,381.10 L422.40,380.60 L422.40,380.10 L422.40,379.60 L422.40,379.10 L422.40,378.60 L422.40,378.10 L422.40,377.60 L422.40,377.10 L422.40,376.60 L422.40,376.10 L422.40,375.60 L422.40,375.10 L422.40,374.60 L422.40,374.10 L422.40,373.60 L422.40,373.10 L422.40,372.60 L422.40,372.10 L422.40,371.60 L422.40,371.10 L422.40,370.60 L422.40,370.10 L422.40,369.60 L422.40,369.10 L422.40,368.60 L422.40,368.10 L422.40,367.60 L422.40,367.10 L422.40,366.60 L422.40,366.10 L422.40,365.60 L422.40,365.10 L422.40,364.60 L422.40,364.10 L422.40,363.60 L422.40,363.10 L422.40,362.60 L422.40,362.10 L422.40,361.60 L422.40,361.10 L422.40,360.60 L422.40,360.10 L422.40,359.60 L422.40,359.10 L422.40,358.60 L422.40,358.10 L422.40,357.60 L422.40,357.10 L422.40,356.60 L422.40,356.10 L422.40,355.60 L422.40,355.10 L422.40,354.60 L422.40,354.10 L422.40,353.60 L422.40,353.10 L422.40,352.60 L422.40,352.10 L422.40,351.60 L422.40,351.10 L422.40,350.60 L422.40,350.10 L422.40,349.60 L422.40,349.10 L422.40,348.60 L422.40,348.10 L422.40,347.60 L422.40,347.10 L422.40,346.60 L422.40,346.10 L422.40,345.60 L422.40,345.10 L422.40,344.60 L422.40,344.10 L422.40,343.60 L422.40,343.10 L422.40,342.60 L422.40,342.10 L422.40,341.60 L422.40,341.10 L422.40,340.60 L422.40,340.10 L422.40,339.60 L422.40,339.10 L422.40,338.60 L422.40,338.10 L422.40,337.60 L422.40,337.10 L422.40,336.60 L422.40,336.10 L422.40,335.60 L422.40,335.10 L422.40,334.60 L422.40,334.10 L422.40,333.60 L422.40,333.10 L422.40,332.60 L422.40,332.10 L422.40,331.60 L422.40,331.10 L422.40,330.60 L422.40,330.10 L422.40,329.60 L422.40,329.10 L422.40,328.60 L422.40,328.10 L422.40,327.60 L422.40,327.10 L422.40,326.60 L422.40,326.10 L422.40,325.60 L422.40,325.10 L422.40,324.60 L422.40,324.10 L422.40,323.60 L422.40,323.10 L422.40,322.60 L422.40,322.10 L422.40,321.60 L422.40,321.10 L422.40,320.60 L422.40,320.10 L422.40,319.60 L422.40,319.10 L422.40,318.60 L422.40,318.10 L422.40,317.60 L422.40,317.10 L422.40,316.60 L422.40,316.10 L422.40,315.60 L422.40,315.10 L422.40,314.60 L422.40,314.10 L422.40,313.60 L422.40,313.10 L422.40,312.60 L422.40,312.10 L422.40,311.60 L422.40,311.10 L422.40,310.60 L422.40,310.10 L422.40,309.60 L422.40,309.10 L422.40,308.60 L422.40,308.10 L422.40,307.60 L422.40,307.10 L422.40,306.60 L422.40,306.10 L422.40,305.60 L422.40,305.10 L422.40,304.60 L422.40,304.10 L422.40,303.60 L422.40,303.10 L422.40,302.60 L422.40,302.10 L422.40,301.60 L422.40,301.10 L422.40,300.60 L422.40,300.10 L422.40,299.60 L422.40,299.10 L422.40,298.60 L422.40,298.10 L422.40,297.60 L422.40,297.10 L422.40,296.60 L422.40,296.10 L422.40,295.60 L422.40,295.10 L422.40,294.60 L422.40,294.10 L422.40,293.60 L422.40,293.10 L422.40,292.60 L422.40,292.10 L422.40,291.60 L422.40,291.10 L422.40,290.60 L422.40,290.10 L422.40,289.60 L422.40,289.10 L422.40,288.60 L422.40,288.10 L422.40,287.60 L422.40,287.10 L422.40,286.60 L422.40,286.10 L422.40,285.60 L422.40,285.10 L422.40,284.60 L422.40,284.10 L422.40,283.60 L422.40,283.10 L422.40,282.60 L422.40,282.10 L422.40,281.60 L422.40,281.10 L422.40,280.60 L422.40,280.10 L422.40,279.60 L422.40,279.10 L422.40,278.60 L422.40,278.10 L422.40,277.60 L422.40,277.10 L422.40,276.60 L422.40,276.10 L422.40,275.60 L422.40,275.10 L422.40,274.60 L422.40,274.10 L422.40,273.60 L422.40,273.10 L422.40,272.60 L422.40,272.10 L422.40,271.60 L422.40,271.10 L422.40,270.60 L422.40,270.10 L422.40,269.60 L422.40,269.10 L422.40,268.60 L422.40,268.10 L422.40,267.60 L422.40,267.10 L422.40,266.60 L422.40,266.10 L422.40,265.60 L422.40,265.10 L422.40,264.60 L422.40,264.10 L422.39,263.60 L422.38,263.10 L422.36,262.60 L422.34,262.10 L422.30,261.60 L422.26,261.10 L422.21,260.60 L422.16,260.10 L422.11,259.60 L422.06,259.10 L422.02,258.60 L421.99,258.10 L421.95,257.60 L421.92,257.10 L421.89,256.60 L421.86,256.10 L421.83,255.60 L421.80,255.10 L421.76,254.60 L421.73,254.10 L421.70,253.60 L421.66,253.10 L421.63,252.60 L421.59,252.10 L421.55,251.60 L421.52,251.10 L421.48,250.60 L421.44,250.10 L421.40,249.60 L421.35,249.10 L421.31,248.60 L421.26,248.10 L421.21,247.60 L421.16,247.10 L421.11,246.60 L421.06,246.10 L421.00,245.60 L420.94,245.10 L420.88,244.60 L420.82,244.10 L420.76,243.60 L420.69,243.10 L420.63,242.60 L420.56,242.10 L420.48,241.60 L420.41,241.10 L420.33,240.60 L420.25,240.10 L420.17,239.60 L420.09,239.10 L420.01,238.60 L419.92,238.10 L419.83,237.60 L419.74,237.10 L419.64,236.60 L419.55,236.10 L419.45,235.60 L419.35,235.10 L419.24,234.60 L419.13,234.10 L419.02,233.60 L418.90,233.10 L418.78,232.60 L418.66,232.10 L418.53,231.60 L418.40,231.10 L418.26,230.60 L418.12,230.10 L417.98,229.60 L417.83,229.10 L417.68,228.60 L417.52,228.10 L417.37,227.60 L417.20,227.10 L417.03,226.60 L416.86,226.10 L416.68,225.60 L416.50,225.10 L416.31,224.60 L416.12,224.10 L415.92,223.60 L415.71,223.10 L415.50,222.60 L415.29,222.10 L415.07,221.60 L414.85,221.10 L414.62,220.60 L414.39,220.10 L414.16,219.60 L413.93,219.10 L413.70,218.60 L413.47,218.10 L413.23,217.60 L413.00,217.10 L412.76,216.60 L412.53,216.10 L412.29,215.60 L412.05,215.10 L411.81,214.60 L411.57,214.10 L411.33,213.60 L411.10,213.10 L410.87,212.60 L410.64,212.10 L410.41,211.60 L410.18,211.10 L409.96,210.60 L409.74,210.10 L409.51,209.60 L409.29,209.10 L409.07,208.60 L408.85,208.10 L408.63,207.60 L408.41,207.10 L408.19,206.60 L407.96,206.10 L407.74,205.60 L407.51,205.10 L407.29,204.60 L407.06,204.10 L406.83,203.60 L406.60,203.10 L406.37,202.60 L406.15,202.10 L405.92,201.60 L405.69,201.10 L405.47,200.60 L405.24,200.10 L405.02,199.60 L404.80,199.10 L404.58,198.60 L404.37,198.10 L404.16,197.60 L403.95,197.10 L403.74,196.60 L403.53,196.10 L403.33,195.60 L403.13,195.10 L402.93,194.60 L402.73,194.10 L402.53,193.60 L402.34,193.10 L402.15,192.60 L401.96,192.10 L401.77,191.60 L401.58,191.10 L401.39,190.60 L401.21,190.10 L401.03,189.60 L400.84,189.10 L400.66,188.60 L400.48,188.10 L400.31,187.60 L400.13,187.10 L399.95,186.60 L399.78,186.10 L399.61,185.60 L399.44,185.10 L399.28,184.60 L399.11,184.10 L398.95,183.60 L398.80,183.10 L398.64,182.60 L398.49,182.10 L398.35,181.60 L398.21,181.10 L398.08,180.60 L397.95,180.10 L397.83,179.60 L397.71,179.10 L397.59,178.60 L397.48,178.10 L397.37,177.60 L397.25,177.10 L397.14,176.60 L397.03,176.10 L396.92,175.60 L396.81,175.10 L396.70,174.60 L396.59,174.10 L396.48,173.60 L396.37,173.10 L396.26,172.60 L396.16,172.10 L396.06,171.60 L395.97,171.10 L395.88,170.60 L395.79,170.10 L395.71,169.60 L395.64,169.10 L395.58,168.60 L395.53,168.10 L395.49,167.60 L395.46,167.10 L395.44,166.60 L395.43,166.10 L395.43,165.60 L395.44,165.10 L395.46,164.60 L395.48,164.10 L395.52,163.60 L395.56,163.10 L395.62,162.60 L395.68,162.10 L395.75,161.60 L395.82,161.10 L395.90,160.60 L395.99,160.10 L396.08,159.60 L396.18,159.10 L396.27,158.60 L396.37,158.10 L396.47,157.60 L396.58,157.10 L396.68,156.60 L396.79,156.10 L396.91,155.60 L397.02,155.10 L397.14,154.60 L397.27,154.10 L397.40,153.60 L397.53,153.10 L397.67,152.60 L397.81,152.10 L397.96,151.60 L398.12,151.10 L398.28,150.60 L398.45,150.10 L398.62,149.60 L398.80,149.10 L398.99,148.60 L399.17,148.10 L399.36,147.60 L399.56,147.10 L399.76,146.60 L399.97,146.10 L400.17,145.60 L400.38,145.10 L400.60,144.60 L400.81,144.10 L401.03,143.60 L401.25,143.10 L401.48,142.60 L401.71,142.10 L401.94,141.60 L402.18,141.10 L402.43,140.60 L402.67,140.10 L402.92,139.60 L403.18,139.10 L403.43,138.60 L403.69,138.10 L403.95,137.60 L404.21,137.10 L404.47,136.60 L404.73,136.10 L404.99,135.60 L405.24,135.10 L405.49,134.60 L405.74,134.10 L405.99,133.60 L406.23,133.10 L406.47,132.60 L406.71,132.10 L406.94,131.60 L407.17,131.10 L407.40,130.60 L407.63,130.10 L407.85,129.60 L408.08,129.10 L408.30,128.60 L408.52,128.10 L408.75,127.60 L408.97,127.10 L409.19,126.60 L409.41,126.10 L409.63,125.60 L409.86,125.10 L410.08,124.60 L410.31,124.10 L410.53,123.60 L410.76,123.10 L410.99,122.60 L411.22,122.10 L411.46,121.60 L411.69,121.10 L411.92,120.60 L412.15,120.10 L412.38,119.60 L412.61,119.10 L412.84,118.60 L413.06,118.10 L413.28,117.60 L413.50,117.10 L413.71,116.60 L413.92,116.10 L414.12,115.60 L414.32,115.10 L414.51,114.60 L414.70,114.10 L414.88,113.60 L415.07,113.10 L415.24,112.60 L415.42,112.10 L415.59,111.60 L415.75,111.10 L415.92,110.60 L416.08,110.10 L416.24,109.60 L416.39,109.10 L416.54,108.60 L416.70,108.10 L416.84,107.60 L416.99,107.10 L417.13,106.60 L417.28,106.10 L417.42,105.60 L417.56,105.10 L417.69,104.60 L417.83,104.10 L417.96,103.60 L418.09,103.10 L418.21,102.60 L418.34,102.10 L418.46,101.60 L418.58,101.10 L418.70,100.60 L418.81,100.10 L418.92,99.60 L419.03,99.10 L419.13,98.60 L419.23,98.10 L419.33,97.60 L419.42,97.10 L419.51,96.60 L419.59,96.10 L419.67,95.60 L419.75,95.10 L419.83,94.60 L419.90,94.10 L419.97,93.60 L420.03,93.10 L420.10,92.60 L420.16,92.10 L420.22,91.60 L420.28,91.10 L420.33,90.60 L420.39,90.10 L420.44,89.60 L420.50,89.10 L420.55,88.60 L420.60,88.10 L420.65,87.60 L420.70,87.10 L420.74,86.60 L420.79,86.10 L420.83,85.60 L420.87,85.10 L420.91,84.60 L420.95,84.10 L420.99,83.60 L421.03,83.10 L421.07,82.60 L421.11,82.10 L421.15,81.60 L421.20,81.10 L421.25,80.60 L421.31,80.10 L421.37,79.60 L421.44,79.10 L421.51,78.60 L421.59,78.10 L421.68,77.60 L421.77,77.10 L421.87,76.60 L421.96,76.10 L422.05,75.60 L422.14,75.10 L422.21,74.60 L422.27,74.10 Z" fill="#fff" stroke="#00BFC4" stroke-width="2.0" stroke-linejoin="round"/>
<line x1="398.52" x2="446.28" y1="182.20" y2="182.20" stroke="#00BFC4" stroke-width="2.0"/>
<path d="M338.10,64.9 L338.10,52.2 L422.10,52.2 L422.10,64.9" fill="none" stroke="#000" stroke-width="1.9" stroke-linecap="round" stroke-linejoin="round"/>
<text x="380.10" y="47.3" font-size="14.5" text-anchor="middle" fill="#000">4.2e−13</text>
<rect x="287.70" y="29.7" width="184.80" height="496.20" fill="none" stroke="#333333" stroke-width="1.2"/>
<rect x="287.70" y="1.3" width="184.80" height="28.40" fill="#D9D9D9" stroke="#333333" stroke-width="1.2"/>
<text x="380.10" y="20.9" font-size="14.5" text-anchor="middle" fill="#1A1A1A">Chen, batch 2</text>
<line x1="283.40" x2="287.70" y1="504.00" y2="504.00" stroke="#333333" stroke-width="1.2"/>
<text x="279.00" y="509.40" font-size="14.5" text-anchor="end" fill="#4D4D4D">0.0</text>
<line x1="283.40" x2="287.70" y1="376.50" y2="376.50" stroke="#333333" stroke-width="1.2"/>
<text x="279.00" y="381.90" font-size="14.5" text-anchor="end" fill="#4D4D4D">2.5</text>
<line x1="283.40" x2="287.70" y1="249.00" y2="249.00" stroke="#333333" stroke-width="1.2"/>
<text x="279.00" y="254.40" font-size="14.5" text-anchor="end" fill="#4D4D4D">5.0</text>
<line x1="283.40" x2="287.70" y1="121.50" y2="121.50" stroke="#333333" stroke-width="1.2"/>
<text x="279.00" y="126.90" font-size="14.5" text-anchor="end" fill="#4D4D4D">7.5</text>
<line x1="338.10" x2="338.10" y1="525.9" y2="530.40" stroke="#333333" stroke-width="1.2"/>
<text x="338.10" y="545.2" font-size="14.5" text-anchor="middle" fill="#4D4D4D">ad libitum</text>
<line x1="422.10" x2="422.10" y1="525.9" y2="530.40" stroke="#333333" stroke-width="1.2"/>
<text x="422.10" y="545.2" font-size="14.5" text-anchor="middle" fill="#4D4D4D">food deprived</text>
<line x1="498.60" x2="683.20" y1="505.78" y2="505.78" stroke="#EBEBEB" stroke-width="0.8"/>
<line x1="498.60" x2="683.20" y1="400.32" y2="400.32" stroke="#EBEBEB" stroke-width="0.8"/>
<line x1="498.60" x2="683.20" y1="294.86" y2="294.86" stroke="#EBEBEB" stroke-width="0.8"/>
<line x1="498.60" x2="683.20" y1="189.40" y2="189.40" stroke="#EBEBEB" stroke-width="0.8"/>
<line x1="498.60" x2="683.20" y1="83.94" y2="83.94" stroke="#EBEBEB" stroke-width="0.8"/>
<line x1="498.60" x2="683.20" y1="453.05" y2="453.05" stroke="#EBEBEB" stroke-width="1.8"/>
<line x1="498.60" x2="683.20" y1="347.59" y2="347.59" stroke="#EBEBEB" stroke-width="1.8"/>
<line x1="498.60" x2="683.20" y1="242.13" y2="242.13" stroke="#EBEBEB" stroke-width="1.8"/>
<line x1="498.60" x2="683.20" y1="136.67" y2="136.67" stroke="#EBEBEB" stroke-width="1.8"/>
<line x1="498.60" x2="683.20" y1="31.21" y2="31.21" stroke="#EBEBEB" stroke-width="1.8"/>
<line x1="548.95" x2="548.95" y1="29.7" y2="525.9" stroke="#EBEBEB" stroke-width="1.5"/>
<line x1="632.85" x2="632.85" y1="29.7" y2="525.9" stroke="#EBEBEB" stroke-width="1.5"/>
<path d="M548.61,73.80 L548.61,74.30 L548.62,74.80 L548.62,75.30 L548.63,75.80 L548.63,76.30 L548.64,76.80 L548.65,77.30 L548.65,77.80 L548.66,78.30 L548.67,78.80 L548.68,79.30 L548.68,79.80 L548.69,80.30 L548.70,80.80 L548.70,81.30 L548.71,81.80 L548.72,82.30 L548.72,82.80 L548.73,83.30 L548.74,83.80 L548.74,84.30 L548.75,84.80 L548.76,85.30 L548.76,85.80 L548.77,86.30 L548.77,86.80 L548.78,87.30 L548.78,87.80 L548.79,88.30 L548.79,88.80 L548.79,89.30 L548.80,89.80 L548.80,90.30 L548.80,90.80 L548.81,91.30 L548.81,91.80 L548.81,92.30 L548.81,92.80 L548.81,93.30 L548.82,93.80 L548.82,94.30 L548.82,94.80 L548.82,95.30 L548.82,95.80 L548.82,96.30 L548.82,96.80 L548.82,97.30 L548.82,97.80 L548.82,98.30 L548.82,98.80 L548.82,99.30 L548.82,99.80 L548.82,100.30 L548.82,100.80 L548.82,101.30 L548.82,101.80 L548.82,102.30 L548.82,102.80 L548.82,103.30 L548.82,103.80 L548.82,104.30 L548.82,104.80 L548.82,105.30 L548.82,105.80 L548.82,106.30 L548.82,106.80 L548.83,107.30 L548.83,107.80 L548.83,108.30 L548.83,108.80 L548.83,109.30 L548.83,109.80 L548.84,110.30 L548.84,110.80 L548.84,111.30 L548.84,111.80 L548.85,112.30 L548.85,112.80 L548.85,113.30 L548.86,113.80 L548.86,114.30 L548.87,114.80 L548.87,115.30 L548.88,115.80 L548.88,116.30 L548.89,116.80 L548.90,117.30 L548.90,117.80 L548.91,118.30 L548.92,118.80 L548.93,119.30 L548.94,119.80 L548.96,120.30 L548.97,120.80 L548.99,121.30 L549.00,121.80 L549.02,122.30 L549.04,122.80 L549.07,123.30 L549.09,123.80 L549.12,124.30 L549.15,124.80 L549.18,125.30 L549.22,125.80 L549.25,126.30 L549.29,126.80 L549.33,127.30 L549.37,127.80 L549.42,128.30 L549.46,128.80 L549.50,129.30 L549.54,129.80 L549.58,130.30 L549.62,130.80 L549.66,131.30 L549.70,131.80 L549.74,132.30 L549.78,132.80 L549.82,133.30 L549.86,133.80 L549.91,134.30 L549.95,134.80 L549.99,135.30 L550.03,135.80 L550.08,136.30 L550.12,136.80 L550.17,137.30 L550.21,137.80 L550.26,138.30 L550.31,138.80 L550.36,139.30 L550.41,139.80 L550.46,140.30 L550.51,140.80 L550.56,141.30 L550.62,141.80 L550.67,142.30 L550.73,142.80 L550.79,143.30 L550.86,143.80 L550.93,144.30 L551.00,144.80 L551.07,145.30 L551.15,145.80 L551.23,146.30 L551.30,146.80 L551.37,147.30 L551.43,147.80 L551.49,148.30 L551.55,148.80 L551.60,149.30 L551.65,149.80 L551.70,150.30 L551.75,150.80 L551.79,151.30 L551.84,151.80 L551.89,152.30 L551.93,152.80 L551.98,153.30 L552.03,153.80 L552.09,154.30 L552.14,154.80 L552.19,155.30 L552.25,155.80 L552.30,156.30 L552.36,156.80 L552.42,157.30 L552.48,157.80 L552.54,158.30 L552.60,158.80 L552.66,159.30 L552.73,159.80 L552.80,160.30 L552.87,160.80 L552.94,161.30 L553.01,161.80 L553.09,162.30 L553.17,162.80 L553.25,163.30 L553.34,163.80 L553.43,164.30 L553.52,164.80 L553.61,165.30 L553.70,165.80 L553.79,166.30 L553.88,166.80 L553.97,167.30 L554.06,167.80 L554.15,168.30 L554.24,168.80 L554.33,169.30 L554.42,169.80 L554.50,170.30 L554.59,170.80 L554.67,171.30 L554.75,171.80 L554.84,172.30 L554.92,172.80 L555.00,173.30 L555.08,173.80 L555.16,174.30 L555.24,174.80 L555.32,175.30 L555.40,175.80 L555.48,176.30 L555.56,176.80 L555.64,177.30 L555.71,177.80 L555.79,178.30 L555.86,178.80 L555.94,179.30 L556.01,179.80 L556.09,180.30 L556.17,180.80 L556.24,181.30 L556.32,181.80 L556.40,182.30 L556.48,182.80 L556.56,183.30 L556.64,183.80 L556.73,184.30 L556.82,184.80 L556.91,185.30 L557.00,185.80 L557.09,186.30 L557.18,186.80 L557.28,187.30 L557.37,187.80 L557.46,188.30 L557.54,188.80 L557.63,189.30 L557.71,189.80 L557.79,190.30 L557.87,190.80 L557.94,191.30 L558.01,191.80 L558.07,192.30 L558.13,192.80 L558.19,193.30 L558.25,193.80 L558.30,194.30 L558.35,194.80 L558.40,195.30 L558.45,195.80 L558.51,196.30 L558.56,196.80 L558.61,197.30 L558.66,197.80 L558.71,198.30 L558.77,198.80 L558.82,199.30 L558.87,199.80 L558.92,200.30 L558.98,200.80 L559.03,201.30 L559.08,201.80 L559.14,202.30 L559.19,202.80 L559.25,203.30 L559.30,203.80 L559.36,204.30 L559.42,204.80 L559.48,205.30 L559.54,205.80 L559.61,206.30 L559.67,206.80 L559.74,207.30 L559.80,207.80 L559.87,208.30 L559.94,208.80 L560.01,209.30 L560.08,209.80 L560.15,210.30 L560.22,210.80 L560.29,211.30 L560.37,211.80 L560.44,212.30 L560.51,212.80 L560.59,213.30 L560.66,213.80 L560.74,214.30 L560.81,214.80 L560.89,215.30 L560.97,215.80 L561.05,216.30 L561.14,216.80 L561.23,217.30 L561.33,217.80 L561.44,218.30 L561.56,218.80 L561.69,219.30 L561.84,219.80 L561.99,220.30 L562.15,220.80 L562.31,221.30 L562.47,221.80 L562.61,222.30 L562.75,222.80 L562.87,223.30 L562.98,223.80 L563.08,224.30 L563.18,224.80 L563.27,225.30 L563.35,225.80 L563.42,226.30 L563.50,226.80 L563.56,227.30 L563.62,227.80 L563.67,228.30 L563.72,228.80 L563.76,229.30 L563.79,229.80 L563.81,230.30 L563.83,230.80 L563.84,231.30 L563.85,231.80 L563.85,232.30 L563.84,232.80 L563.83,233.30 L563.81,233.80 L563.79,234.30 L563.76,234.80 L563.72,235.30 L563.67,235.80 L563.62,236.30 L563.56,236.80 L563.49,237.30 L563.41,237.80 L563.32,238.30 L563.23,238.80 L563.13,239.30 L563.02,239.80 L562.91,240.30 L562.80,240.80 L562.69,241.30 L562.58,241.80 L562.47,242.30 L562.37,242.80 L562.27,243.30 L562.18,243.80 L562.09,244.30 L562.02,244.80 L561.94,245.30 L561.87,245.80 L561.81,246.30 L561.74,246.80 L561.69,247.30 L561.64,247.80 L561.59,248.30 L561.55,248.80 L561.51,249.30 L561.48,249.80 L561.46,250.30 L561.44,250.80 L561.43,251.30 L561.43,251.80 L561.43,252.30 L561.44,252.80 L561.45,253.30 L561.47,253.80 L561.50,254.30 L561.54,254.80 L561.58,255.30 L561.63,255.80 L561.68,256.30 L561.74,256.80 L561.82,257.30 L561.90,257.80 L561.98,258.30 L562.08,258.80 L562.19,259.30 L562.30,259.80 L562.43,260.30 L562.56,260.80 L562.70,261.30 L562.84,261.80 L563.00,262.30 L563.15,262.80 L563.32,263.30 L563.48,263.80 L563.65,264.30 L563.83,264.80 L564.00,265.30 L564.18,265.80 L564.37,266.30 L564.55,266.80 L564.75,267.30 L564.94,267.80 L565.14,268.30 L565.34,268.80 L565.55,269.30 L565.75,269.80 L565.96,270.30 L566.16,270.80 L566.36,271.30 L566.55,271.80 L566.74,272.30 L566.93,272.80 L567.11,273.30 L567.29,273.80 L567.46,274.30 L567.63,274.80 L567.79,275.30 L567.96,275.80 L568.11,276.30 L568.27,276.80 L568.42,277.30 L568.56,277.80 L568.70,278.30 L568.84,278.80 L568.98,279.30 L569.11,279.80 L569.23,280.30 L569.35,280.80 L569.47,281.30 L569.58,281.80 L569.69,282.30 L569.80,282.80 L569.90,283.30 L570.00,283.80 L570.09,284.30 L570.17,284.80 L570.26,285.30 L570.33,285.80 L570.40,286.30 L570.46,286.80 L570.52,287.30 L570.56,287.80 L570.59,288.30 L570.61,288.80 L570.62,289.30 L570.62,289.80 L570.60,290.30 L570.57,290.80 L570.53,291.30 L570.47,291.80 L570.41,292.30 L570.33,292.80 L570.24,293.30 L570.14,293.80 L570.04,294.30 L569.93,294.80 L569.81,295.30 L569.68,295.80 L569.55,296.30 L569.42,296.80 L569.28,297.30 L569.14,297.80 L568.99,298.30 L568.84,298.80 L568.69,299.30 L568.53,299.80 L568.38,300.30 L568.22,300.80 L568.06,301.30 L567.91,301.80 L567.75,302.30 L567.60,302.80 L567.45,303.30 L567.31,303.80 L567.18,304.30 L567.04,304.80 L566.91,305.30 L566.79,305.80 L566.67,306.30 L566.55,306.80 L566.44,307.30 L566.33,307.80 L566.22,308.30 L566.12,308.80 L566.03,309.30 L565.94,309.80 L565.85,310.30 L565.77,310.80 L565.70,311.30 L565.63,311.80 L565.57,312.30 L565.51,312.80 L565.46,313.30 L565.41,313.80 L565.37,314.30 L565.34,314.80 L565.31,315.30 L565.28,315.80 L565.26,316.30 L565.25,316.80 L565.23,317.30 L565.23,317.80 L565.22,318.30 L565.22,318.80 L565.23,319.30 L565.24,319.80 L565.26,320.30 L565.29,320.80 L565.32,321.30 L565.35,321.80 L565.38,322.30 L565.42,322.80 L565.45,323.30 L565.49,323.80 L565.51,324.30 L565.54,324.80 L565.55,325.30 L565.56,325.80 L565.57,326.30 L565.56,326.80 L565.55,327.30 L565.54,327.80 L565.52,328.30 L565.49,328.80 L565.46,329.30 L565.42,329.80 L565.37,330.30 L565.32,330.80 L565.25,331.30 L565.18,331.80 L565.10,332.30 L565.01,332.80 L564.91,333.30 L564.80,333.80 L564.68,334.30 L564.55,334.80 L564.41,335.30 L564.26,335.80 L564.11,336.30 L563.94,336.80 L563.77,337.30 L563.59,337.80 L563.40,338.30 L563.21,338.80 L563.02,339.30 L562.83,339.80 L562.63,340.30 L562.43,340.80 L562.22,341.30 L562.01,341.80 L561.80,342.30 L561.59,342.80 L561.37,343.30 L561.15,343.80 L560.92,344.30 L560.69,344.80 L560.46,345.30 L560.23,345.80 L560.00,346.30 L559.76,346.80 L559.52,347.30 L559.28,347.80 L559.04,348.30 L558.80,348.80 L558.55,349.30 L558.31,349.80 L558.06,350.30 L557.81,350.80 L557.56,351.30 L557.31,351.80 L557.06,352.30 L556.81,352.80 L556.56,353.30 L556.32,353.80 L556.08,354.30 L555.84,354.80 L555.61,355.30 L555.39,355.80 L555.17,356.30 L554.95,356.80 L554.74,357.30 L554.53,357.80 L554.32,358.30 L554.12,358.80 L553.92,359.30 L553.72,359.80 L553.53,360.30 L553.33,360.80 L553.14,361.30 L552.95,361.80 L552.75,362.30 L552.56,362.80 L552.38,363.30 L552.19,363.80 L552.01,364.30 L551.83,364.80 L551.65,365.30 L551.49,365.80 L551.33,366.30 L551.18,366.80 L551.04,367.30 L550.91,367.80 L550.78,368.30 L550.66,368.80 L550.54,369.30 L550.43,369.80 L550.33,370.30 L550.23,370.80 L550.13,371.30 L550.04,371.80 L549.95,372.30 L549.87,372.80 L549.79,373.30 L549.72,373.80 L549.65,374.30 L549.59,374.80 L549.53,375.30 L549.48,375.80 L549.43,376.30 L549.38,376.80 L549.35,377.30 L549.31,377.80 L549.28,378.30 L549.25,378.80 L549.22,379.30 L549.20,379.80 L549.17,380.30 L549.15,380.80 L549.12,381.30 L549.10,381.80 L549.08,382.30 L549.06,382.80 L549.04,383.30 L549.02,383.80 L549.01,384.30 L548.99,384.80 L548.98,385.30 L548.96,385.80 L548.95,386.30 L548.93,386.80 L548.91,387.30 L548.89,387.80 L548.87,388.30 L548.84,388.80 L548.80,389.30 L548.76,389.80 L548.72,390.30 L548.68,390.80 L548.65,391.30 L548.63,391.80 L548.62,392.30 L548.61,392.80 L548.60,393.30 L548.60,393.80 L548.60,394.30 L548.60,394.80 L548.60,395.30 L548.60,395.80 L548.60,396.30 L548.60,396.80 L548.60,397.30 L548.60,397.80 L548.60,398.30 L548.60,398.80 L548.60,399.30 L548.60,399.80 L548.60,400.30 L548.60,400.80 L548.60,401.30 L548.60,401.80 L548.60,402.30 L548.60,402.80 L548.60,403.30 L548.60,403.80 L548.60,404.30 L548.60,404.80 L548.60,405.30 L548.60,405.80 L548.60,406.30 L548.60,406.80 L548.60,407.30 L548.60,407.80 L548.60,408.30 L548.60,408.80 L548.60,409.30 L548.60,409.80 L548.60,410.30 L548.60,410.80 L548.60,411.30 L548.60,411.80 L548.60,412.30 L548.60,412.80 L548.60,413.30 L548.60,413.80 L548.60,414.30 L548.60,414.80 L548.60,415.30 L548.60,415.80 L548.60,416.30 L548.60,416.80 L548.60,417.30 L548.60,417.80 L548.60,418.30 L548.60,418.80 L548.60,419.30 L548.60,419.80 L548.60,420.30 L548.60,420.80 L548.60,421.30 L548.60,421.80 L548.60,422.30 L548.60,422.80 L548.60,423.30 L548.60,423.80 L548.60,424.30 L548.60,424.80 L548.60,425.30 L548.60,425.80 L548.60,426.30 L548.60,426.80 L548.60,427.30 L548.60,427.80 L548.60,428.30 L548.60,428.80 L548.60,429.30 L548.60,429.80 L548.60,430.30 L548.60,430.80 L548.60,431.30 L548.60,431.80 L548.60,432.30 L548.60,432.80 L548.60,433.30 L548.60,433.80 L548.60,434.30 L548.60,434.80 L548.60,435.30 L548.60,435.80 L548.60,436.30 L548.60,436.80 L548.60,437.30 L548.60,437.80 L548.60,438.30 L548.61,438.80 L548.61,439.30 L548.61,439.80 L548.61,440.30 L548.61,440.80 L548.61,441.30 L548.61,441.80 L548.61,442.30 L548.62,442.80 L548.62,443.30 L548.62,443.80 L548.62,444.30 L548.63,444.80 L548.63,445.30 L548.63,445.80 L548.64,446.30 L548.64,446.80 L548.65,447.30 L548.65,447.80 L548.66,448.30 L548.67,448.80 L548.68,449.30 L548.68,449.80 L548.69,450.30 L548.71,450.80 L548.72,451.30 L548.73,451.80 L548.75,452.30 L548.76,452.80 L548.78,453.30 L548.80,453.80 L548.82,454.30 L548.85,454.80 L548.88,455.30 L548.91,455.80 L548.94,456.30 L548.97,456.80 L549.01,457.30 L549.05,457.80 L549.10,458.30 L549.15,458.80 L549.20,459.30 L549.26,459.80 L549.33,460.30 L549.39,460.80 L549.47,461.30 L549.55,461.80 L549.64,462.30 L549.73,462.80 L549.83,463.30 L549.94,463.80 L550.06,464.30 L550.18,464.80 L550.32,465.30 L550.46,465.80 L550.62,466.30 L550.78,466.80 L550.96,467.30 L551.14,467.80 L551.34,468.30 L551.55,468.80 L551.78,469.30 L552.01,469.80 L552.26,470.30 L552.53,470.80 L552.81,471.30 L553.11,471.80 L553.42,472.30 L553.74,472.80 L554.09,473.30 L554.45,473.80 L554.82,474.30 L555.22,474.80 L555.63,475.30 L556.06,475.80 L556.51,476.30 L556.97,476.80 L557.46,477.30 L557.96,477.80 L558.48,478.30 L559.02,478.80 L559.57,479.30 L560.15,479.80 L560.74,480.30 L561.34,480.80 L561.97,481.30 L562.61,481.80 L563.26,482.30 L563.93,482.80 L564.61,483.30 L565.31,483.80 L566.01,484.30 L566.73,484.80 L567.46,485.30 L568.19,485.80 L568.94,486.30 L569.68,486.80 L570.44,487.30 L571.19,487.80 L571.95,488.30 L572.71,488.80 L573.47,489.30 L574.22,489.80 L574.97,490.30 L575.71,490.80 L576.44,491.30 L577.16,491.80 L577.87,492.30 L578.57,492.80 L579.25,493.30 L579.91,493.80 L580.56,494.30 L581.18,494.80 L581.78,495.30 L582.35,495.80 L582.90,496.30 L583.42,496.80 L583.91,497.30 L584.38,497.80 L584.80,498.30 L585.20,498.80 L585.56,499.30 L585.89,499.80 L586.17,500.30 L586.42,500.80 L586.64,501.30 L586.81,501.80 L586.94,502.30 L587.03,502.80 L587.09,503.30 L587.10,503.70 L510.10,503.70 L510.11,503.30 L510.17,502.80 L510.26,502.30 L510.39,501.80 L510.56,501.30 L510.78,500.80 L511.03,500.30 L511.31,499.80 L511.64,499.30 L512.00,498.80 L512.40,498.30 L512.82,497.80 L513.29,497.30 L513.78,496.80 L514.30,496.30 L514.85,495.80 L515.42,495.30 L516.02,494.80 L516.64,494.30 L517.29,493.80 L517.95,493.30 L518.63,492.80 L519.33,492.30 L520.04,491.80 L520.76,491.30 L521.49,490.80 L522.23,490.30 L522.98,489.80 L523.73,489.30 L524.49,488.80 L525.25,488.30 L526.01,487.80 L526.76,487.30 L527.52,486.80 L528.26,486.30 L529.01,485.80 L529.74,485.30 L530.47,484.80 L531.19,484.30 L531.89,483.80 L532.59,483.30 L533.27,482.80 L533.94,482.30 L534.59,481.80 L535.23,481.30 L535.86,480.80 L536.46,480.30 L537.05,479.80 L537.63,479.30 L538.18,478.80 L538.72,478.30 L539.24,477.80 L539.74,477.30 L540.23,476.80 L540.69,476.30 L541.14,475.80 L541.57,475.30 L541.98,474.80 L542.38,474.30 L542.75,473.80 L543.11,473.30 L543.46,472.80 L543.78,472.30 L544.09,471.80 L544.39,471.30 L544.67,470.80 L544.94,470.30 L545.19,469.80 L545.42,469.30 L545.65,468.80 L545.86,468.30 L546.06,467.80 L546.24,467.30 L546.42,466.80 L546.58,466.30 L546.74,465.80 L546.88,465.30 L547.02,464.80 L547.14,464.30 L547.26,463.80 L547.37,463.30 L547.47,462.80 L547.56,462.30 L547.65,461.80 L547.73,461.30 L547.81,460.80 L547.87,460.30 L547.94,459.80 L548.00,459.30 L548.05,458.80 L548.10,458.30 L548.15,457.80 L548.19,457.30 L548.23,456.80 L548.26,456.30 L548.29,455.80 L548.32,455.30 L548.35,454.80 L548.38,454.30 L548.40,453.80 L548.42,453.30 L548.44,452.80 L548.45,452.30 L548.47,451.80 L548.48,451.30 L548.49,450.80 L548.51,450.30 L548.52,449.80 L548.52,449.30 L548.53,448.80 L548.54,448.30 L548.55,447.80 L548.55,447.30 L548.56,446.80 L548.56,446.30 L548.57,445.80 L548.57,445.30 L548.57,444.80 L548.58,444.30 L548.58,443.80 L548.58,443.30 L548.58,442.80 L548.59,442.30 L548.59,441.80 L548.59,441.30 L548.59,440.80 L548.59,440.30 L548.59,439.80 L548.59,439.30 L548.59,438.80 L548.60,438.30 L548.60,437.80 L548.60,437.30 L548.60,436.80 L548.60,436.30 L548.60,435.80 L548.60,435.30 L548.60,434.80 L548.60,434.30 L548.60,433.80 L548.60,433.30 L548.60,432.80 L548.60,432.30 L548.60,431.80 L548.60,431.30 L548.60,430.80 L548.60,430.30 L548.60,429.80 L548.60,429.30 L548.60,428.80 L548.60,428.30 L548.60,427.80 L548.60,427.30 L548.60,426.80 L548.60,426.30 L548.60,425.80 L548.60,425.30 L548.60,424.80 L548.60,424.30 L548.60,423.80 L548.60,423.30 L548.60,422.80 L548.60,422.30 L548.60,421.80 L548.60,421.30 L548.60,420.80 L548.60,420.30 L548.60,419.80 L548.60,419.30 L548.60,418.80 L548.60,418.30 L548.60,417.80 L548.60,417.30 L548.60,416.80 L548.60,416.30 L548.60,415.80 L548.60,415.30 L548.60,414.80 L548.60,414.30 L548.60,413.80 L548.60,413.30 L548.60,412.80 L548.60,412.30 L548.60,411.80 L548.60,411.30 L548.60,410.80 L548.60,410.30 L548.60,409.80 L548.60,409.30 L548.60,408.80 L548.60,408.30 L548.60,407.80 L548.60,407.30 L548.60,406.80 L548.60,406.30 L548.60,405.80 L548.60,405.30 L548.60,404.80 L548.60,404.30 L548.60,403.80 L548.60,403.30 L548.60,402.80 L548.60,402.30 L548.60,401.80 L548.60,401.30 L548.60,400.80 L548.60,400.30 L548.60,399.80 L548.60,399.30 L548.60,398.80 L548.60,398.30 L548.60,397.80 L548.60,397.30 L548.60,396.80 L548.60,396.30 L548.60,395.80 L548.60,395.30 L548.60,394.80 L548.60,394.30 L548.60,393.80 L548.60,393.30 L548.59,392.80 L548.58,392.30 L548.57,391.80 L548.55,391.30 L548.52,390.80 L548.48,390.30 L548.44,389.80 L548.40,389.30 L548.36,388.80 L548.33,388.30 L548.31,387.80 L548.29,387.30 L548.27,386.80 L548.25,386.30 L548.24,385.80 L548.22,385.30 L548.21,384.80 L548.19,384.30 L548.18,383.80 L548.16,383.30 L548.14,382.80 L548.12,382.30 L548.10,381.80 L548.08,381.30 L548.05,380.80 L548.03,380.30 L548.00,379.80 L547.98,379.30 L547.95,378.80 L547.92,378.30 L547.89,377.80 L547.85,377.30 L547.82,376.80 L547.77,376.30 L547.72,375.80 L547.67,375.30 L547.61,374.80 L547.55,374.30 L547.48,373.80 L547.41,373.30 L547.33,372.80 L547.25,372.30 L547.16,371.80 L547.07,371.30 L546.97,370.80 L546.87,370.30 L546.77,369.80 L546.66,369.30 L546.54,368.80 L546.42,368.30 L546.29,367.80 L546.16,367.30 L546.02,366.80 L545.87,366.30 L545.71,365.80 L545.55,365.30 L545.37,364.80 L545.19,364.30 L545.01,363.80 L544.82,363.30 L544.64,362.80 L544.45,362.30 L544.25,361.80 L544.06,361.30 L543.87,360.80 L543.67,360.30 L543.48,359.80 L543.28,359.30 L543.08,358.80 L542.88,358.30 L542.67,357.80 L542.46,357.30 L542.25,356.80 L542.03,356.30 L541.81,355.80 L541.59,355.30 L541.36,354.80 L541.12,354.30 L540.88,353.80 L540.64,353.30 L540.39,352.80 L540.14,352.30 L539.89,351.80 L539.64,351.30 L539.39,350.80 L539.14,350.30 L538.89,349.80 L538.65,349.30 L538.40,348.80 L538.16,348.30 L537.92,347.80 L537.68,347.30 L537.44,346.80 L537.20,346.30 L536.97,345.80 L536.74,345.30 L536.51,344.80 L536.28,344.30 L536.05,343.80 L535.83,343.30 L535.61,342.80 L535.40,342.30 L535.19,341.80 L534.98,341.30 L534.77,340.80 L534.57,340.30 L534.37,339.80 L534.18,339.30 L533.99,338.80 L533.80,338.30 L533.61,337.80 L533.43,337.30 L533.26,336.80 L533.09,336.30 L532.94,335.80 L532.79,335.30 L532.65,334.80 L532.52,334.30 L532.40,333.80 L532.29,333.30 L532.19,332.80 L532.10,332.30 L532.02,331.80 L531.95,331.30 L531.88,330.80 L531.83,330.30 L531.78,329.80 L531.74,329.30 L531.71,328.80 L531.68,328.30 L531.66,327.80 L531.65,327.30 L531.64,326.80 L531.63,326.30 L531.64,325.80 L531.65,325.30 L531.66,324.80 L531.69,324.30 L531.71,323.80 L531.75,323.30 L531.78,322.80 L531.82,322.30 L531.85,321.80 L531.88,321.30 L531.91,320.80 L531.94,320.30 L531.96,319.80 L531.97,319.30 L531.98,318.80 L531.98,318.30 L531.97,317.80 L531.97,317.30 L531.95,316.80 L531.94,316.30 L531.92,315.80 L531.89,315.30 L531.86,314.80 L531.83,314.30 L531.79,313.80 L531.74,313.30 L531.69,312.80 L531.63,312.30 L531.57,311.80 L531.50,311.30 L531.43,310.80 L531.35,310.30 L531.26,309.80 L531.17,309.30 L531.08,308.80 L530.98,308.30 L530.87,307.80 L530.76,307.30 L530.65,306.80 L530.53,306.30 L530.41,305.80 L530.29,305.30 L530.16,304.80 L530.02,304.30 L529.89,303.80 L529.75,303.30 L529.60,302.80 L529.45,302.30 L529.29,301.80 L529.14,301.30 L528.98,300.80 L528.82,300.30 L528.67,299.80 L528.51,299.30 L528.36,298.80 L528.21,298.30 L528.06,297.80 L527.92,297.30 L527.78,296.80 L527.65,296.30 L527.52,295.80 L527.39,295.30 L527.27,294.80 L527.16,294.30 L527.06,293.80 L526.96,293.30 L526.87,292.80 L526.79,292.30 L526.73,291.80 L526.67,291.30 L526.63,290.80 L526.60,290.30 L526.58,289.80 L526.58,289.30 L526.59,288.80 L526.61,288.30 L526.64,287.80 L526.68,287.30 L526.74,286.80 L526.80,286.30 L526.87,285.80 L526.94,285.30 L527.03,284.80 L527.11,284.30 L527.20,283.80 L527.30,283.30 L527.40,282.80 L527.51,282.30 L527.62,281.80 L527.73,281.30 L527.85,280.80 L527.97,280.30 L528.09,279.80 L528.22,279.30 L528.36,278.80 L528.50,278.30 L528.64,277.80 L528.78,277.30 L528.93,276.80 L529.09,276.30 L529.24,275.80 L529.41,275.30 L529.57,274.80 L529.74,274.30 L529.91,273.80 L530.09,273.30 L530.27,272.80 L530.46,272.30 L530.65,271.80 L530.84,271.30 L531.04,270.80 L531.24,270.30 L531.45,269.80 L531.65,269.30 L531.86,268.80 L532.06,268.30 L532.26,267.80 L532.45,267.30 L532.65,266.80 L532.83,266.30 L533.02,265.80 L533.20,265.30 L533.37,264.80 L533.55,264.30 L533.72,263.80 L533.88,263.30 L534.05,262.80 L534.20,262.30 L534.36,261.80 L534.50,261.30 L534.64,260.80 L534.77,260.30 L534.90,259.80 L535.01,259.30 L535.12,258.80 L535.22,258.30 L535.30,257.80 L535.38,257.30 L535.46,256.80 L535.52,256.30 L535.57,255.80 L535.62,255.30 L535.66,254.80 L535.70,254.30 L535.73,253.80 L535.75,253.30 L535.76,252.80 L535.77,252.30 L535.77,251.80 L535.77,251.30 L535.76,250.80 L535.74,250.30 L535.72,249.80 L535.69,249.30 L535.65,248.80 L535.61,248.30 L535.56,247.80 L535.51,247.30 L535.46,246.80 L535.39,246.30 L535.33,245.80 L535.26,245.30 L535.18,244.80 L535.11,244.30 L535.02,243.80 L534.93,243.30 L534.83,242.80 L534.73,242.30 L534.62,241.80 L534.51,241.30 L534.40,240.80 L534.29,240.30 L534.18,239.80 L534.07,239.30 L533.97,238.80 L533.88,238.30 L533.79,237.80 L533.71,237.30 L533.64,236.80 L533.58,236.30 L533.53,235.80 L533.48,235.30 L533.44,234.80 L533.41,234.30 L533.39,233.80 L533.37,233.30 L533.36,232.80 L533.35,232.30 L533.35,231.80 L533.36,231.30 L533.37,230.80 L533.39,230.30 L533.41,229.80 L533.44,229.30 L533.48,228.80 L533.53,228.30 L533.58,227.80 L533.64,227.30 L533.70,226.80 L533.78,226.30 L533.85,225.80 L533.93,225.30 L534.02,224.80 L534.12,224.30 L534.22,223.80 L534.33,223.30 L534.45,222.80 L534.59,222.30 L534.73,221.80 L534.89,221.30 L535.05,220.80 L535.21,220.30 L535.36,219.80 L535.51,219.30 L535.64,218.80 L535.76,218.30 L535.87,217.80 L535.97,217.30 L536.06,216.80 L536.15,216.30 L536.23,215.80 L536.31,215.30 L536.39,214.80 L536.46,214.30 L536.54,213.80 L536.61,213.30 L536.69,212.80 L536.76,212.30 L536.83,211.80 L536.91,211.30 L536.98,210.80 L537.05,210.30 L537.12,209.80 L537.19,209.30 L537.26,208.80 L537.33,208.30 L537.40,207.80 L537.46,207.30 L537.53,206.80 L537.59,206.30 L537.66,205.80 L537.72,205.30 L537.78,204.80 L537.84,204.30 L537.90,203.80 L537.95,203.30 L538.01,202.80 L538.06,202.30 L538.12,201.80 L538.17,201.30 L538.22,200.80 L538.28,200.30 L538.33,199.80 L538.38,199.30 L538.43,198.80 L538.49,198.30 L538.54,197.80 L538.59,197.30 L538.64,196.80 L538.69,196.30 L538.75,195.80 L538.80,195.30 L538.85,194.80 L538.90,194.30 L538.95,193.80 L539.01,193.30 L539.07,192.80 L539.13,192.30 L539.19,191.80 L539.26,191.30 L539.33,190.80 L539.41,190.30 L539.49,189.80 L539.57,189.30 L539.66,188.80 L539.74,188.30 L539.83,187.80 L539.92,187.30 L540.02,186.80 L540.11,186.30 L540.20,185.80 L540.29,185.30 L540.38,184.80 L540.47,184.30 L540.56,183.80 L540.64,183.30 L540.72,182.80 L540.80,182.30 L540.88,181.80 L540.96,181.30 L541.03,180.80 L541.11,180.30 L541.19,179.80 L541.26,179.30 L541.34,178.80 L541.41,178.30 L541.49,177.80 L541.56,177.30 L541.64,176.80 L541.72,176.30 L541.80,175.80 L541.88,175.30 L541.96,174.80 L542.04,174.30 L542.12,173.80 L542.20,173.30 L542.28,172.80 L542.36,172.30 L542.45,171.80 L542.53,171.30 L542.61,170.80 L542.70,170.30 L542.78,169.80 L542.87,169.30 L542.96,168.80 L543.05,168.30 L543.14,167.80 L543.23,167.30 L543.32,166.80 L543.41,166.30 L543.50,165.80 L543.59,165.30 L543.68,164.80 L543.77,164.30 L543.86,163.80 L543.95,163.30 L544.03,162.80 L544.11,162.30 L544.19,161.80 L544.26,161.30 L544.33,160.80 L544.40,160.30 L544.47,159.80 L544.54,159.30 L544.60,158.80 L544.66,158.30 L544.72,157.80 L544.78,157.30 L544.84,156.80 L544.90,156.30 L544.95,155.80 L545.01,155.30 L545.06,154.80 L545.11,154.30 L545.17,153.80 L545.22,153.30 L545.27,152.80 L545.31,152.30 L545.36,151.80 L545.41,151.30 L545.45,150.80 L545.50,150.30 L545.55,149.80 L545.60,149.30 L545.65,148.80 L545.71,148.30 L545.77,147.80 L545.83,147.30 L545.90,146.80 L545.97,146.30 L546.05,145.80 L546.13,145.30 L546.20,144.80 L546.27,144.30 L546.34,143.80 L546.41,143.30 L546.47,142.80 L546.53,142.30 L546.58,141.80 L546.64,141.30 L546.69,140.80 L546.74,140.30 L546.79,139.80 L546.84,139.30 L546.89,138.80 L546.94,138.30 L546.99,137.80 L547.03,137.30 L547.08,136.80 L547.12,136.30 L547.17,135.80 L547.21,135.30 L547.25,134.80 L547.29,134.30 L547.34,133.80 L547.38,133.30 L547.42,132.80 L547.46,132.30 L547.50,131.80 L547.54,131.30 L547.58,130.80 L547.62,130.30 L547.66,129.80 L547.70,129.30 L547.74,128.80 L547.78,128.30 L547.83,127.80 L547.87,127.30 L547.91,126.80 L547.95,126.30 L547.98,125.80 L548.02,125.30 L548.05,124.80 L548.08,124.30 L548.11,123.80 L548.13,123.30 L548.16,122.80 L548.18,122.30 L548.20,121.80 L548.21,121.30 L548.23,120.80 L548.24,120.30 L548.26,119.80 L548.27,119.30 L548.28,118.80 L548.29,118.30 L548.30,117.80 L548.30,117.30 L548.31,116.80 L548.32,116.30 L548.32,115.80 L548.33,115.30 L548.33,114.80 L548.34,114.30 L548.34,113.80 L548.35,113.30 L548.35,112.80 L548.35,112.30 L548.36,111.80 L548.36,111.30 L548.36,110.80 L548.36,110.30 L548.37,109.80 L548.37,109.30 L548.37,108.80 L548.37,108.30 L548.37,107.80 L548.37,107.30 L548.38,106.80 L548.38,106.30 L548.38,105.80 L548.38,105.30 L548.38,104.80 L548.38,104.30 L548.38,103.80 L548.38,103.30 L548.38,102.80 L548.38,102.30 L548.38,101.80 L548.38,101.30 L548.38,100.80 L548.38,100.30 L548.38,99.80 L548.38,99.30 L548.38,98.80 L548.38,98.30 L548.38,97.80 L548.38,97.30 L548.38,96.80 L548.38,96.30 L548.38,95.80 L548.38,95.30 L548.38,94.80 L548.38,94.30 L548.38,93.80 L548.39,93.30 L548.39,92.80 L548.39,92.30 L548.39,91.80 L548.39,91.30 L548.40,90.80 L548.40,90.30 L548.40,89.80 L548.41,89.30 L548.41,88.80 L548.41,88.30 L548.42,87.80 L548.42,87.30 L548.43,86.80 L548.43,86.30 L548.44,85.80 L548.44,85.30 L548.45,84.80 L548.46,84.30 L548.46,83.80 L548.47,83.30 L548.48,82.80 L548.48,82.30 L548.49,81.80 L548.50,81.30 L548.50,80.80 L548.51,80.30 L548.52,79.80 L548.52,79.30 L548.53,78.80 L548.54,78.30 L548.55,77.80 L548.55,77.30 L548.56,76.80 L548.57,76.30 L548.57,75.80 L548.58,75.30 L548.58,74.80 L548.59,74.30 L548.59,73.80 Z" fill="#fff" stroke="#F8766D" stroke-width="2.0" stroke-linejoin="round"/>
<line x1="526.91" x2="570.29" y1="293.00" y2="293.00" stroke="#F8766D" stroke-width="2.0"/>
<path d="M633.64,97.70 L633.82,98.20 L633.99,98.70 L634.12,99.20 L634.23,99.70 L634.32,100.20 L634.39,100.70 L634.46,101.20 L634.51,101.70 L634.56,102.20 L634.62,102.70 L634.67,103.20 L634.72,103.70 L634.77,104.20 L634.82,104.70 L634.87,105.20 L634.92,105.70 L634.97,106.20 L635.01,106.70 L635.06,107.20 L635.11,107.70 L635.16,108.20 L635.21,108.70 L635.25,109.20 L635.30,109.70 L635.35,110.20 L635.39,110.70 L635.44,111.20 L635.49,111.70 L635.54,112.20 L635.58,112.70 L635.63,113.20 L635.68,113.70 L635.72,114.20 L635.77,114.70 L635.82,115.20 L635.86,115.70 L635.91,116.20 L635.96,116.70 L636.01,117.20 L636.06,117.70 L636.11,118.20 L636.16,118.70 L636.21,119.20 L636.27,119.70 L636.32,120.20 L636.38,120.70 L636.43,121.20 L636.49,121.70 L636.55,122.20 L636.61,122.70 L636.67,123.20 L636.73,123.70 L636.80,124.20 L636.86,124.70 L636.93,125.20 L637.01,125.70 L637.08,126.20 L637.17,126.70 L637.25,127.20 L637.34,127.70 L637.43,128.20 L637.52,128.70 L637.61,129.20 L637.71,129.70 L637.81,130.20 L637.91,130.70 L638.01,131.20 L638.11,131.70 L638.21,132.20 L638.32,132.70 L638.42,133.20 L638.52,133.70 L638.62,134.20 L638.72,134.70 L638.82,135.20 L638.92,135.70 L639.02,136.20 L639.12,136.70 L639.22,137.20 L639.32,137.70 L639.43,138.20 L639.53,138.70 L639.64,139.20 L639.74,139.70 L639.85,140.20 L639.96,140.70 L640.07,141.20 L640.18,141.70 L640.30,142.20 L640.41,142.70 L640.53,143.20 L640.64,143.70 L640.76,144.20 L640.88,144.70 L640.99,145.20 L641.11,145.70 L641.22,146.20 L641.33,146.70 L641.44,147.20 L641.55,147.70 L641.66,148.20 L641.76,148.70 L641.86,149.20 L641.96,149.70 L642.06,150.20 L642.15,150.70 L642.23,151.20 L642.32,151.70 L642.40,152.20 L642.48,152.70 L642.55,153.20 L642.62,153.70 L642.69,154.20 L642.76,154.70 L642.82,155.20 L642.88,155.70 L642.95,156.20 L643.01,156.70 L643.06,157.20 L643.12,157.70 L643.18,158.20 L643.24,158.70 L643.30,159.20 L643.35,159.70 L643.41,160.20 L643.47,160.70 L643.53,161.20 L643.59,161.70 L643.65,162.20 L643.71,162.70 L643.77,163.20 L643.83,163.70 L643.89,164.20 L643.95,164.70 L644.01,165.20 L644.06,165.70 L644.12,166.20 L644.18,166.70 L644.24,167.20 L644.30,167.70 L644.36,168.20 L644.41,168.70 L644.47,169.20 L644.53,169.70 L644.59,170.20 L644.65,170.70 L644.72,171.20 L644.78,171.70 L644.84,172.20 L644.91,172.70 L644.97,173.20 L645.04,173.70 L645.10,174.20 L645.17,174.70 L645.24,175.20 L645.31,175.70 L645.38,176.20 L645.45,176.70 L645.52,177.20 L645.59,177.70 L645.67,178.20 L645.74,178.70 L645.81,179.20 L645.88,179.70 L645.95,180.20 L646.02,180.70 L646.08,181.20 L646.15,181.70 L646.22,182.20 L646.28,182.70 L646.35,183.20 L646.41,183.70 L646.47,184.20 L646.53,184.70 L646.58,185.20 L646.64,185.70 L646.69,186.20 L646.73,186.70 L646.77,187.20 L646.81,187.70 L646.83,188.20 L646.85,188.70 L646.87,189.20 L646.87,189.70 L646.87,190.20 L646.86,190.70 L646.85,191.20 L646.82,191.70 L646.79,192.20 L646.76,192.70 L646.71,193.20 L646.66,193.70 L646.60,194.20 L646.53,194.70 L646.45,195.20 L646.36,195.70 L646.27,196.20 L646.17,196.70 L646.06,197.20 L645.96,197.70 L645.85,198.20 L645.75,198.70 L645.66,199.20 L645.57,199.70 L645.48,200.20 L645.41,200.70 L645.34,201.20 L645.28,201.70 L645.22,202.20 L645.18,202.70 L645.15,203.20 L645.12,203.70 L645.11,204.20 L645.11,204.70 L645.13,205.20 L645.16,205.70 L645.21,206.20 L645.27,206.70 L645.35,207.20 L645.44,207.70 L645.54,208.20 L645.66,208.70 L645.78,209.20 L645.92,209.70 L646.06,210.20 L646.21,210.70 L646.37,211.20 L646.53,211.70 L646.70,212.20 L646.88,212.70 L647.06,213.20 L647.25,213.70 L647.44,214.20 L647.64,214.70 L647.84,215.20 L648.05,215.70 L648.26,216.20 L648.47,216.70 L648.69,217.20 L648.91,217.70 L649.13,218.20 L649.35,218.70 L649.57,219.20 L649.79,219.70 L650.01,220.20 L650.22,220.70 L650.43,221.20 L650.63,221.70 L650.82,222.20 L651.00,222.70 L651.17,223.20 L651.34,223.70 L651.49,224.20 L651.64,224.70 L651.78,225.20 L651.91,225.70 L652.03,226.20 L652.14,226.70 L652.24,227.20 L652.33,227.70 L652.40,228.20 L652.46,228.70 L652.51,229.20 L652.53,229.70 L652.55,230.20 L652.55,230.70 L652.54,231.20 L652.51,231.70 L652.46,232.20 L652.39,232.70 L652.30,233.20 L652.20,233.70 L652.08,234.20 L651.95,234.70 L651.81,235.20 L651.66,235.70 L651.50,236.20 L651.34,236.70 L651.17,237.20 L651.00,237.70 L650.82,238.20 L650.64,238.70 L650.45,239.20 L650.26,239.70 L650.06,240.20 L649.86,240.70 L649.66,241.20 L649.45,241.70 L649.25,242.20 L649.06,242.70 L648.86,243.20 L648.68,243.70 L648.49,244.20 L648.32,244.70 L648.15,245.20 L647.98,245.70 L647.82,246.20 L647.67,246.70 L647.52,247.20 L647.38,247.70 L647.25,248.20 L647.12,248.70 L647.00,249.20 L646.89,249.70 L646.79,250.20 L646.70,250.70 L646.61,251.20 L646.54,251.70 L646.48,252.20 L646.43,252.70 L646.39,253.20 L646.37,253.70 L646.36,254.20 L646.37,254.70 L646.39,255.20 L646.41,255.70 L646.45,256.20 L646.50,256.70 L646.56,257.20 L646.62,257.70 L646.69,258.20 L646.76,258.70 L646.84,259.20 L646.92,259.70 L647.01,260.20 L647.10,260.70 L647.19,261.20 L647.29,261.70 L647.39,262.20 L647.49,262.70 L647.59,263.20 L647.69,263.70 L647.80,264.20 L647.91,264.70 L648.02,265.20 L648.13,265.70 L648.24,266.20 L648.36,266.70 L648.48,267.20 L648.61,267.70 L648.73,268.20 L648.86,268.70 L649.00,269.20 L649.13,269.70 L649.28,270.20 L649.42,270.70 L649.58,271.20 L649.74,271.70 L649.91,272.20 L650.09,272.70 L650.29,273.20 L650.49,273.70 L650.71,274.20 L650.95,274.70 L651.20,275.20 L651.48,275.70 L651.76,276.20 L652.07,276.70 L652.39,277.20 L652.72,277.70 L653.07,278.20 L653.43,278.70 L653.79,279.20 L654.16,279.70 L654.53,280.20 L654.90,280.70 L655.26,281.20 L655.61,281.70 L655.95,282.20 L656.28,282.70 L656.59,283.20 L656.88,283.70 L657.16,284.20 L657.43,284.70 L657.68,285.20 L657.92,285.70 L658.15,286.20 L658.37,286.70 L658.57,287.20 L658.77,287.70 L658.96,288.20 L659.15,288.70 L659.32,289.20 L659.48,289.70 L659.63,290.20 L659.77,290.70 L659.88,291.20 L659.98,291.70 L660.06,292.20 L660.11,292.70 L660.14,293.20 L660.14,293.70 L660.12,294.20 L660.08,294.70 L660.01,295.20 L659.92,295.70 L659.81,296.20 L659.67,296.70 L659.50,297.20 L659.31,297.70 L659.10,298.20 L658.87,298.70 L658.62,299.20 L658.36,299.70 L658.09,300.20 L657.80,300.70 L657.51,301.20 L657.20,301.70 L656.89,302.20 L656.57,302.70 L656.25,303.20 L655.91,303.70 L655.57,304.20 L655.22,304.70 L654.86,305.20 L654.49,305.70 L654.11,306.20 L653.72,306.70 L653.31,307.20 L652.90,307.70 L652.48,308.20 L652.05,308.70 L651.63,309.20 L651.21,309.70 L650.81,310.20 L650.41,310.70 L650.03,311.20 L649.67,311.70 L649.32,312.20 L649.00,312.70 L648.70,313.20 L648.42,313.70 L648.15,314.20 L647.91,314.70 L647.68,315.20 L647.48,315.70 L647.28,316.20 L647.11,316.70 L646.96,317.20 L646.83,317.70 L646.72,318.20 L646.63,318.70 L646.58,319.20 L646.55,319.70 L646.56,320.20 L646.61,320.70 L646.68,321.20 L646.77,321.70 L646.89,322.20 L647.03,322.70 L647.17,323.20 L647.32,323.70 L647.48,324.20 L647.64,324.70 L647.81,325.20 L647.98,325.70 L648.14,326.20 L648.29,326.70 L648.43,327.20 L648.55,327.70 L648.64,328.20 L648.70,328.70 L648.73,329.20 L648.72,329.70 L648.68,330.20 L648.61,330.70 L648.52,331.20 L648.40,331.70 L648.26,332.20 L648.10,332.70 L647.93,333.20 L647.74,333.70 L647.54,334.20 L647.33,334.70 L647.11,335.20 L646.89,335.70 L646.65,336.20 L646.41,336.70 L646.17,337.20 L645.91,337.70 L645.64,338.20 L645.37,338.70 L645.09,339.20 L644.80,339.70 L644.50,340.20 L644.20,340.70 L643.89,341.20 L643.58,341.70 L643.27,342.20 L642.96,342.70 L642.66,343.20 L642.35,343.70 L642.04,344.20 L641.73,344.70 L641.42,345.20 L641.11,345.70 L640.79,346.20 L640.48,346.70 L640.17,347.20 L639.86,347.70 L639.55,348.20 L639.25,348.70 L638.96,349.20 L638.67,349.70 L638.38,350.20 L638.11,350.70 L637.84,351.20 L637.59,351.70 L637.34,352.20 L637.10,352.70 L636.87,353.20 L636.65,353.70 L636.43,354.20 L636.22,354.70 L636.02,355.20 L635.82,355.70 L635.63,356.20 L635.45,356.70 L635.28,357.20 L635.12,357.70 L634.96,358.20 L634.81,358.70 L634.67,359.20 L634.54,359.70 L634.41,360.20 L634.30,360.70 L634.19,361.20 L634.09,361.70 L633.99,362.20 L633.90,362.70 L633.82,363.20 L633.73,363.70 L633.66,364.20 L633.58,364.70 L633.51,365.20 L633.45,365.70 L633.38,366.20 L633.32,366.70 L633.27,367.20 L633.22,367.70 L633.18,368.20 L633.14,368.70 L633.10,369.20 L633.06,369.70 L633.03,370.20 L633.00,370.70 L632.98,371.20 L632.95,371.70 L632.94,372.20 L632.92,372.70 L632.91,373.20 L632.91,373.70 L632.90,374.20 L632.90,374.70 L632.90,375.20 L632.90,375.70 L632.90,376.20 L632.90,376.70 L632.90,377.20 L632.90,377.70 L632.90,378.20 L632.90,378.70 L632.90,379.20 L632.90,379.70 L632.90,380.20 L632.90,380.70 L632.90,381.20 L632.90,381.70 L632.90,382.20 L632.90,382.70 L632.90,383.20 L632.90,383.70 L632.90,384.20 L632.90,384.70 L632.90,385.20 L632.90,385.70 L632.90,386.20 L632.90,386.70 L632.90,387.20 L632.90,387.70 L632.90,388.20 L632.90,388.70 L632.90,389.20 L632.90,389.70 L632.90,390.20 L632.90,390.70 L632.90,391.20 L632.90,391.70 L632.90,392.20 L632.90,392.70 L632.90,393.20 L632.90,393.70 L632.90,394.20 L632.90,394.70 L632.90,395.20 L632.90,395.70 L632.90,396.20 L632.90,396.70 L632.90,397.20 L632.90,397.70 L632.90,398.20 L632.90,398.70 L632.90,399.20 L632.90,399.70 L632.90,400.20 L632.90,400.70 L632.90,401.20 L632.90,401.70 L632.90,402.20 L632.90,402.70 L632.90,403.20 L632.90,403.70 L632.90,404.20 L632.90,404.70 L632.90,405.20 L632.90,405.70 L632.90,406.20 L632.90,406.70 L632.90,407.20 L632.90,407.70 L632.90,408.20 L632.90,408.70 L632.90,409.20 L632.90,409.70 L632.90,410.20 L632.90,410.70 L632.90,411.20 L632.90,411.70 L632.90,412.20 L632.90,412.70 L632.90,413.20 L632.90,413.70 L632.90,414.20 L632.90,414.70 L632.90,415.20 L632.90,415.70 L632.90,416.20 L632.90,416.70 L632.90,417.20 L632.90,417.70 L632.90,418.20 L632.90,418.70 L632.90,419.20 L632.90,419.70 L632.90,420.20 L632.90,420.70 L632.90,421.20 L632.90,421.70 L632.90,422.20 L632.90,422.70 L632.90,423.20 L632.90,423.70 L632.90,424.20 L632.90,424.70 L632.90,425.20 L632.90,425.70 L632.90,426.20 L632.90,426.70 L632.90,427.20 L632.90,427.70 L632.90,428.20 L632.90,428.70 L632.90,429.20 L632.90,429.70 L632.90,430.20 L632.90,430.70 L632.90,431.20 L632.90,431.70 L632.90,432.20 L632.90,432.70 L632.90,433.20 L632.90,433.70 L632.90,434.20 L632.90,434.70 L632.90,435.20 L632.90,435.70 L632.90,436.20 L632.90,436.70 L632.90,437.20 L632.90,437.70 L632.90,438.20 L632.90,438.70 L632.90,439.20 L632.90,439.70 L632.90,440.20 L632.90,440.70 L632.90,441.20 L632.90,441.70 L632.90,442.20 L632.90,442.70 L632.90,443.20 L632.90,443.70 L632.90,444.20 L632.90,444.70 L632.90,445.20 L632.90,445.70 L632.90,446.20 L632.90,446.70 L632.90,447.20 L632.90,447.70 L632.90,448.20 L632.90,448.70 L632.90,449.20 L632.90,449.70 L632.90,450.20 L632.90,450.70 L632.90,451.20 L632.90,451.70 L632.91,452.20 L632.91,452.70 L632.91,453.20 L632.91,453.70 L632.91,454.20 L632.91,454.70 L632.91,455.20 L632.92,455.70 L632.92,456.20 L632.92,456.70 L632.93,457.20 L632.93,457.70 L632.94,458.20 L632.94,458.70 L632.95,459.20 L632.96,459.70 L632.96,460.20 L632.97,460.70 L632.99,461.20 L633.00,461.70 L633.01,462.20 L633.03,462.70 L633.05,463.20 L633.07,463.70 L633.09,464.20 L633.12,464.70 L633.15,465.20 L633.18,465.70 L633.22,466.20 L633.26,466.70 L633.31,467.20 L633.36,467.70 L633.42,468.20 L633.48,468.70 L633.56,469.20 L633.63,469.70 L633.72,470.20 L633.82,470.70 L633.92,471.20 L634.04,471.70 L634.16,472.20 L634.30,472.70 L634.45,473.20 L634.61,473.70 L634.79,474.20 L634.98,474.70 L635.19,475.20 L635.41,475.70 L635.65,476.20 L635.91,476.70 L636.19,477.20 L636.49,477.70 L636.81,478.20 L637.15,478.70 L637.51,479.20 L637.89,479.70 L638.30,480.20 L638.73,480.70 L639.19,481.20 L639.67,481.70 L640.17,482.20 L640.70,482.70 L641.25,483.20 L641.83,483.70 L642.43,484.20 L643.06,484.70 L643.71,485.20 L644.38,485.70 L645.08,486.20 L645.79,486.70 L646.52,487.20 L647.27,487.70 L648.04,488.20 L648.83,488.70 L649.62,489.20 L650.43,489.70 L651.24,490.20 L652.06,490.70 L652.89,491.20 L653.71,491.70 L654.54,492.20 L655.36,492.70 L656.17,493.20 L656.97,493.70 L657.76,494.20 L658.53,494.70 L659.28,495.20 L660.01,495.70 L660.72,496.20 L661.39,496.70 L662.03,497.20 L662.64,497.70 L663.21,498.20 L663.74,498.70 L664.23,499.20 L664.67,499.70 L665.07,500.20 L665.42,500.70 L665.72,501.20 L665.96,501.70 L666.15,502.20 L666.29,502.70 L666.37,503.20 L666.40,503.70 L599.40,503.70 L599.43,503.20 L599.51,502.70 L599.65,502.20 L599.84,501.70 L600.08,501.20 L600.38,500.70 L600.73,500.20 L601.13,499.70 L601.57,499.20 L602.06,498.70 L602.59,498.20 L603.16,497.70 L603.77,497.20 L604.41,496.70 L605.08,496.20 L605.79,495.70 L606.52,495.20 L607.27,494.70 L608.04,494.20 L608.83,493.70 L609.63,493.20 L610.44,492.70 L611.26,492.20 L612.09,491.70 L612.91,491.20 L613.74,490.70 L614.56,490.20 L615.37,489.70 L616.18,489.20 L616.97,488.70 L617.76,488.20 L618.53,487.70 L619.28,487.20 L620.01,486.70 L620.72,486.20 L621.42,485.70 L622.09,485.20 L622.74,484.70 L623.37,484.20 L623.97,483.70 L624.55,483.20 L625.10,482.70 L625.63,482.20 L626.13,481.70 L626.61,481.20 L627.07,480.70 L627.50,480.20 L627.91,479.70 L628.29,479.20 L628.65,478.70 L628.99,478.20 L629.31,477.70 L629.61,477.20 L629.89,476.70 L630.15,476.20 L630.39,475.70 L630.61,475.20 L630.82,474.70 L631.01,474.20 L631.19,473.70 L631.35,473.20 L631.50,472.70 L631.64,472.20 L631.76,471.70 L631.88,471.20 L631.98,470.70 L632.08,470.20 L632.17,469.70 L632.24,469.20 L632.32,468.70 L632.38,468.20 L632.44,467.70 L632.49,467.20 L632.54,466.70 L632.58,466.20 L632.62,465.70 L632.65,465.20 L632.68,464.70 L632.71,464.20 L632.73,463.70 L632.75,463.20 L632.77,462.70 L632.79,462.20 L632.80,461.70 L632.81,461.20 L632.83,460.70 L632.84,460.20 L632.84,459.70 L632.85,459.20 L632.86,458.70 L632.86,458.20 L632.87,457.70 L632.87,457.20 L632.88,456.70 L632.88,456.20 L632.88,455.70 L632.89,455.20 L632.89,454.70 L632.89,454.20 L632.89,453.70 L632.89,453.20 L632.89,452.70 L632.89,452.20 L632.90,451.70 L632.90,451.20 L632.90,450.70 L632.90,450.20 L632.90,449.70 L632.90,449.20 L632.90,448.70 L632.90,448.20 L632.90,447.70 L632.90,447.20 L632.90,446.70 L632.90,446.20 L632.90,445.70 L632.90,445.20 L632.90,444.70 L632.90,444.20 L632.90,443.70 L632.90,443.20 L632.90,442.70 L632.90,442.20 L632.90,441.70 L632.90,441.20 L632.90,440.70 L632.90,440.20 L632.90,439.70 L632.90,439.20 L632.90,438.70 L632.90,438.20 L632.90,437.70 L632.90,437.20 L632.90,436.70 L632.90,436.20 L632.90,435.70 L632.90,435.20 L632.90,434.70 L632.90,434.20 L632.90,433.70 L632.90,433.20 L632.90,432.70 L632.90,432.20 L632.90,431.70 L632.90,431.20 L632.90,430.70 L632.90,430.20 L632.90,429.70 L632.90,429.20 L632.90,428.70 L632.90,428.20 L632.90,427.70 L632.90,427.20 L632.90,426.70 L632.90,426.20 L632.90,425.70 L632.90,425.20 L632.90,424.70 L632.90,424.20 L632.90,423.70 L632.90,423.20 L632.90,422.70 L632.90,422.20 L632.90,421.70 L632.90,421.20 L632.90,420.70 L632.90,420.20 L632.90,419.70 L632.90,419.20 L632.90,418.70 L632.90,418.20 L632.90,417.70 L632.90,417.20 L632.90,416.70 L632.90,416.20 L632.90,415.70 L632.90,415.20 L632.90,414.70 L632.90,414.20 L632.90,413.70 L632.90,413.20 L632.90,412.70 L632.90,412.20 L632.90,411.70 L632.90,411.20 L632.90,410.70 L632.90,410.20 L632.90,409.70 L632.90,409.20 L632.90,408.70 L632.90,408.20 L632.90,407.70 L632.90,407.20 L632.90,406.70 L632.90,406.20 L632.90,405.70 L632.90,405.20 L632.90,404.70 L632.90,404.20 L632.90,403.70 L632.90,403.20 L632.90,402.70 L632.90,402.20 L632.90,401.70 L632.90,401.20 L632.90,400.70 L632.90,400.20 L632.90,399.70 L632.90,399.20 L632.90,398.70 L632.90,398.20 L632.90,397.70 L632.90,397.20 L632.90,396.70 L632.90,396.20 L632.90,395.70 L632.90,395.20 L632.90,394.70 L632.90,394.20 L632.90,393.70 L632.90,393.20 L632.90,392.70 L632.90,392.20 L632.90,391.70 L632.90,391.20 L632.90,390.70 L632.90,390.20 L632.90,389.70 L632.90,389.20 L632.90,388.70 L632.90,388.20 L632.90,387.70 L632.90,387.20 L632.90,386.70 L632.90,386.20 L632.90,385.70 L632.90,385.20 L632.90,384.70 L632.90,384.20 L632.90,383.70 L632.90,383.20 L632.90,382.70 L632.90,382.20 L632.90,381.70 L632.90,381.20 L632.90,380.70 L632.90,380.20 L632.90,379.70 L632.90,379.20 L632.90,378.70 L632.90,378.20 L632.90,377.70 L632.90,377.20 L632.90,376.70 L632.90,376.20 L632.90,375.70 L632.90,375.20 L632.90,374.70 L632.90,374.20 L632.89,373.70 L632.89,373.20 L632.88,372.70 L632.86,372.20 L632.85,371.70 L632.82,371.20 L632.80,370.70 L632.77,370.20 L632.74,369.70 L632.70,369.20 L632.66,368.70 L632.62,368.20 L632.58,367.70 L632.53,367.20 L632.48,366.70 L632.42,366.20 L632.35,365.70 L632.29,365.20 L632.22,364.70 L632.14,364.20 L632.07,363.70 L631.98,363.20 L631.90,362.70 L631.81,362.20 L631.71,361.70 L631.61,361.20 L631.50,360.70 L631.39,360.20 L631.26,359.70 L631.13,359.20 L630.99,358.70 L630.84,358.20 L630.68,357.70 L630.52,357.20 L630.35,356.70 L630.17,356.20 L629.98,355.70 L629.78,355.20 L629.58,354.70 L629.37,354.20 L629.15,353.70 L628.93,353.20 L628.70,352.70 L628.46,352.20 L628.21,351.70 L627.96,351.20 L627.69,350.70 L627.42,350.20 L627.13,349.70 L626.84,349.20 L626.55,348.70 L626.25,348.20 L625.94,347.70 L625.63,347.20 L625.32,346.70 L625.01,346.20 L624.69,345.70 L624.38,345.20 L624.07,344.70 L623.76,344.20 L623.45,343.70 L623.14,343.20 L622.84,342.70 L622.53,342.20 L622.22,341.70 L621.91,341.20 L621.60,340.70 L621.30,340.20 L621.00,339.70 L620.71,339.20 L620.43,338.70 L620.16,338.20 L619.89,337.70 L619.63,337.20 L619.39,336.70 L619.15,336.20 L618.91,335.70 L618.69,335.20 L618.47,334.70 L618.26,334.20 L618.06,333.70 L617.87,333.20 L617.70,332.70 L617.54,332.20 L617.40,331.70 L617.28,331.20 L617.19,330.70 L617.12,330.20 L617.08,329.70 L617.07,329.20 L617.10,328.70 L617.16,328.20 L617.25,327.70 L617.37,327.20 L617.51,326.70 L617.66,326.20 L617.82,325.70 L617.99,325.20 L618.16,324.70 L618.32,324.20 L618.48,323.70 L618.63,323.20 L618.77,322.70 L618.91,322.20 L619.03,321.70 L619.12,321.20 L619.19,320.70 L619.24,320.20 L619.25,319.70 L619.22,319.20 L619.17,318.70 L619.08,318.20 L618.97,317.70 L618.84,317.20 L618.69,316.70 L618.52,316.20 L618.32,315.70 L618.12,315.20 L617.89,314.70 L617.65,314.20 L617.38,313.70 L617.10,313.20 L616.80,312.70 L616.48,312.20 L616.13,311.70 L615.77,311.20 L615.39,310.70 L614.99,310.20 L614.59,309.70 L614.17,309.20 L613.75,308.70 L613.32,308.20 L612.90,307.70 L612.49,307.20 L612.08,306.70 L611.69,306.20 L611.31,305.70 L610.94,305.20 L610.58,304.70 L610.23,304.20 L609.89,303.70 L609.55,303.20 L609.23,302.70 L608.91,302.20 L608.60,301.70 L608.29,301.20 L608.00,300.70 L607.71,300.20 L607.44,299.70 L607.18,299.20 L606.93,298.70 L606.70,298.20 L606.49,297.70 L606.30,297.20 L606.13,296.70 L605.99,296.20 L605.88,295.70 L605.79,295.20 L605.72,294.70 L605.68,294.20 L605.66,293.70 L605.66,293.20 L605.69,292.70 L605.74,292.20 L605.82,291.70 L605.92,291.20 L606.03,290.70 L606.17,290.20 L606.32,289.70 L606.48,289.20 L606.65,288.70 L606.84,288.20 L607.03,287.70 L607.23,287.20 L607.43,286.70 L607.65,286.20 L607.88,285.70 L608.12,285.20 L608.37,284.70 L608.64,284.20 L608.92,283.70 L609.21,283.20 L609.52,282.70 L609.85,282.20 L610.19,281.70 L610.54,281.20 L610.90,280.70 L611.27,280.20 L611.64,279.70 L612.01,279.20 L612.37,278.70 L612.73,278.20 L613.08,277.70 L613.41,277.20 L613.73,276.70 L614.04,276.20 L614.32,275.70 L614.60,275.20 L614.85,274.70 L615.09,274.20 L615.31,273.70 L615.51,273.20 L615.71,272.70 L615.89,272.20 L616.06,271.70 L616.22,271.20 L616.38,270.70 L616.52,270.20 L616.67,269.70 L616.80,269.20 L616.94,268.70 L617.07,268.20 L617.19,267.70 L617.32,267.20 L617.44,266.70 L617.56,266.20 L617.67,265.70 L617.78,265.20 L617.89,264.70 L618.00,264.20 L618.11,263.70 L618.21,263.20 L618.31,262.70 L618.41,262.20 L618.51,261.70 L618.61,261.20 L618.70,260.70 L618.79,260.20 L618.88,259.70 L618.96,259.20 L619.04,258.70 L619.11,258.20 L619.18,257.70 L619.24,257.20 L619.30,256.70 L619.35,256.20 L619.39,255.70 L619.41,255.20 L619.43,254.70 L619.44,254.20 L619.43,253.70 L619.41,253.20 L619.37,252.70 L619.32,252.20 L619.26,251.70 L619.19,251.20 L619.10,250.70 L619.01,250.20 L618.91,249.70 L618.80,249.20 L618.68,248.70 L618.55,248.20 L618.42,247.70 L618.28,247.20 L618.13,246.70 L617.98,246.20 L617.82,245.70 L617.65,245.20 L617.48,244.70 L617.31,244.20 L617.12,243.70 L616.94,243.20 L616.74,242.70 L616.55,242.20 L616.35,241.70 L616.14,241.20 L615.94,240.70 L615.74,240.20 L615.54,239.70 L615.35,239.20 L615.16,238.70 L614.98,238.20 L614.80,237.70 L614.63,237.20 L614.46,236.70 L614.30,236.20 L614.14,235.70 L613.99,235.20 L613.85,234.70 L613.72,234.20 L613.60,233.70 L613.50,233.20 L613.41,232.70 L613.34,232.20 L613.29,231.70 L613.26,231.20 L613.25,230.70 L613.25,230.20 L613.27,229.70 L613.29,229.20 L613.34,228.70 L613.40,228.20 L613.47,227.70 L613.56,227.20 L613.66,226.70 L613.77,226.20 L613.89,225.70 L614.02,225.20 L614.16,224.70 L614.31,224.20 L614.46,223.70 L614.63,223.20 L614.80,222.70 L614.98,222.20 L615.17,221.70 L615.37,221.20 L615.58,220.70 L615.79,220.20 L616.01,219.70 L616.23,219.20 L616.45,218.70 L616.67,218.20 L616.89,217.70 L617.11,217.20 L617.33,216.70 L617.54,216.20 L617.75,215.70 L617.96,215.20 L618.16,214.70 L618.36,214.20 L618.55,213.70 L618.74,213.20 L618.92,212.70 L619.10,212.20 L619.27,211.70 L619.43,211.20 L619.59,210.70 L619.74,210.20 L619.88,209.70 L620.02,209.20 L620.14,208.70 L620.26,208.20 L620.36,207.70 L620.45,207.20 L620.53,206.70 L620.59,206.20 L620.64,205.70 L620.67,205.20 L620.69,204.70 L620.69,204.20 L620.68,203.70 L620.65,203.20 L620.62,202.70 L620.58,202.20 L620.52,201.70 L620.46,201.20 L620.39,200.70 L620.32,200.20 L620.23,199.70 L620.14,199.20 L620.05,198.70 L619.95,198.20 L619.84,197.70 L619.74,197.20 L619.63,196.70 L619.53,196.20 L619.44,195.70 L619.35,195.20 L619.27,194.70 L619.20,194.20 L619.14,193.70 L619.09,193.20 L619.04,192.70 L619.01,192.20 L618.98,191.70 L618.95,191.20 L618.94,190.70 L618.93,190.20 L618.93,189.70 L618.93,189.20 L618.95,188.70 L618.97,188.20 L618.99,187.70 L619.03,187.20 L619.07,186.70 L619.11,186.20 L619.16,185.70 L619.22,185.20 L619.27,184.70 L619.33,184.20 L619.39,183.70 L619.45,183.20 L619.52,182.70 L619.58,182.20 L619.65,181.70 L619.72,181.20 L619.78,180.70 L619.85,180.20 L619.92,179.70 L619.99,179.20 L620.06,178.70 L620.13,178.20 L620.21,177.70 L620.28,177.20 L620.35,176.70 L620.42,176.20 L620.49,175.70 L620.56,175.20 L620.63,174.70 L620.70,174.20 L620.76,173.70 L620.83,173.20 L620.89,172.70 L620.96,172.20 L621.02,171.70 L621.08,171.20 L621.15,170.70 L621.21,170.20 L621.27,169.70 L621.33,169.20 L621.39,168.70 L621.44,168.20 L621.50,167.70 L621.56,167.20 L621.62,166.70 L621.68,166.20 L621.74,165.70 L621.79,165.20 L621.85,164.70 L621.91,164.20 L621.97,163.70 L622.03,163.20 L622.09,162.70 L622.15,162.20 L622.21,161.70 L622.27,161.20 L622.33,160.70 L622.39,160.20 L622.45,159.70 L622.50,159.20 L622.56,158.70 L622.62,158.20 L622.68,157.70 L622.74,157.20 L622.79,156.70 L622.85,156.20 L622.92,155.70 L622.98,155.20 L623.04,154.70 L623.11,154.20 L623.18,153.70 L623.25,153.20 L623.32,152.70 L623.40,152.20 L623.48,151.70 L623.57,151.20 L623.65,150.70 L623.74,150.20 L623.84,149.70 L623.94,149.20 L624.04,148.70 L624.14,148.20 L624.25,147.70 L624.36,147.20 L624.47,146.70 L624.58,146.20 L624.69,145.70 L624.81,145.20 L624.92,144.70 L625.04,144.20 L625.16,143.70 L625.27,143.20 L625.39,142.70 L625.50,142.20 L625.62,141.70 L625.73,141.20 L625.84,140.70 L625.95,140.20 L626.06,139.70 L626.16,139.20 L626.27,138.70 L626.37,138.20 L626.48,137.70 L626.58,137.20 L626.68,136.70 L626.78,136.20 L626.88,135.70 L626.98,135.20 L627.08,134.70 L627.18,134.20 L627.28,133.70 L627.38,133.20 L627.48,132.70 L627.59,132.20 L627.69,131.70 L627.79,131.20 L627.89,130.70 L627.99,130.20 L628.09,129.70 L628.19,129.20 L628.28,128.70 L628.37,128.20 L628.46,127.70 L628.55,127.20 L628.63,126.70 L628.72,126.20 L628.79,125.70 L628.87,125.20 L628.94,124.70 L629.00,124.20 L629.07,123.70 L629.13,123.20 L629.19,122.70 L629.25,122.20 L629.31,121.70 L629.37,121.20 L629.42,120.70 L629.48,120.20 L629.53,119.70 L629.59,119.20 L629.64,118.70 L629.69,118.20 L629.74,117.70 L629.79,117.20 L629.84,116.70 L629.89,116.20 L629.94,115.70 L629.98,115.20 L630.03,114.70 L630.08,114.20 L630.12,113.70 L630.17,113.20 L630.22,112.70 L630.26,112.20 L630.31,111.70 L630.36,111.20 L630.41,110.70 L630.45,110.20 L630.50,109.70 L630.55,109.20 L630.59,108.70 L630.64,108.20 L630.69,107.70 L630.74,107.20 L630.79,106.70 L630.83,106.20 L630.88,105.70 L630.93,105.20 L630.98,104.70 L631.03,104.20 L631.08,103.70 L631.13,103.20 L631.18,102.70 L631.24,102.20 L631.29,101.70 L631.34,101.20 L631.41,100.70 L631.48,100.20 L631.57,99.70 L631.68,99.20 L631.81,98.70 L631.98,98.20 L632.16,97.70 Z" fill="#fff" stroke="#00BFC4" stroke-width="2.0" stroke-linejoin="round"/>
<line x1="616.06" x2="649.74" y1="271.70" y2="271.70" stroke="#00BFC4" stroke-width="2.0"/>
<path d="M548.95,64.9 L548.95,52.2 L632.85,52.2 L632.85,64.9" fill="none" stroke="#000" stroke-width="1.9" stroke-linecap="round" stroke-linejoin="round"/>
<text x="590.90" y="47.3" font-size="14.5" text-anchor="middle" fill="#000">1.9e−07</text>
<rect x="498.60" y="29.7" width="184.60" height="496.20" fill="none" stroke="#333333" stroke-width="1.2"/>
<rect x="498.60" y="1.3" width="184.60" height="28.40" fill="#D9D9D9" stroke="#333333" stroke-width="1.2"/>
<text x="590.90" y="20.9" font-size="14.5" text-anchor="middle" fill="#1A1A1A">Campbell, batch 6</text>
<line x1="494.30" x2="498.60" y1="453.05" y2="453.05" stroke="#333333" stroke-width="1.2"/>
<text x="489.90" y="458.45" font-size="14.5" text-anchor="end" fill="#4D4D4D">5</text>
<line x1="494.30" x2="498.60" y1="347.59" y2="347.59" stroke="#333333" stroke-width="1.2"/>
<text x="489.90" y="352.99" font-size="14.5" text-anchor="end" fill="#4D4D4D">6</text>
<line x1="494.30" x2="498.60" y1="242.13" y2="242.13" stroke="#333333" stroke-width="1.2"/>
<text x="489.90" y="247.53" font-size="14.5" text-anchor="end" fill="#4D4D4D">7</text>
<line x1="494.30" x2="498.60" y1="136.67" y2="136.67" stroke="#333333" stroke-width="1.2"/>
<text x="489.90" y="142.07" font-size="14.5" text-anchor="end" fill="#4D4D4D">8</text>
<line x1="494.30" x2="498.60" y1="31.21" y2="31.21" stroke="#333333" stroke-width="1.2"/>
<text x="489.90" y="36.61" font-size="14.5" text-anchor="end" fill="#4D4D4D">9</text>
<line x1="548.95" x2="548.95" y1="525.9" y2="530.40" stroke="#333333" stroke-width="1.2"/>
<text x="548.95" y="545.2" font-size="14.5" text-anchor="middle" fill="#4D4D4D">ad libitum</text>
<line x1="632.85" x2="632.85" y1="525.9" y2="530.40" stroke="#333333" stroke-width="1.2"/>
<text x="632.85" y="545.2" font-size="14.5" text-anchor="middle" fill="#4D4D4D">food deprived</text>
<text transform="translate(14.6,277.3) rotate(-90)" font-size="17.35" text-anchor="middle" fill="#000">Rps26 Expression (log)</text>
</svg></body></html>
